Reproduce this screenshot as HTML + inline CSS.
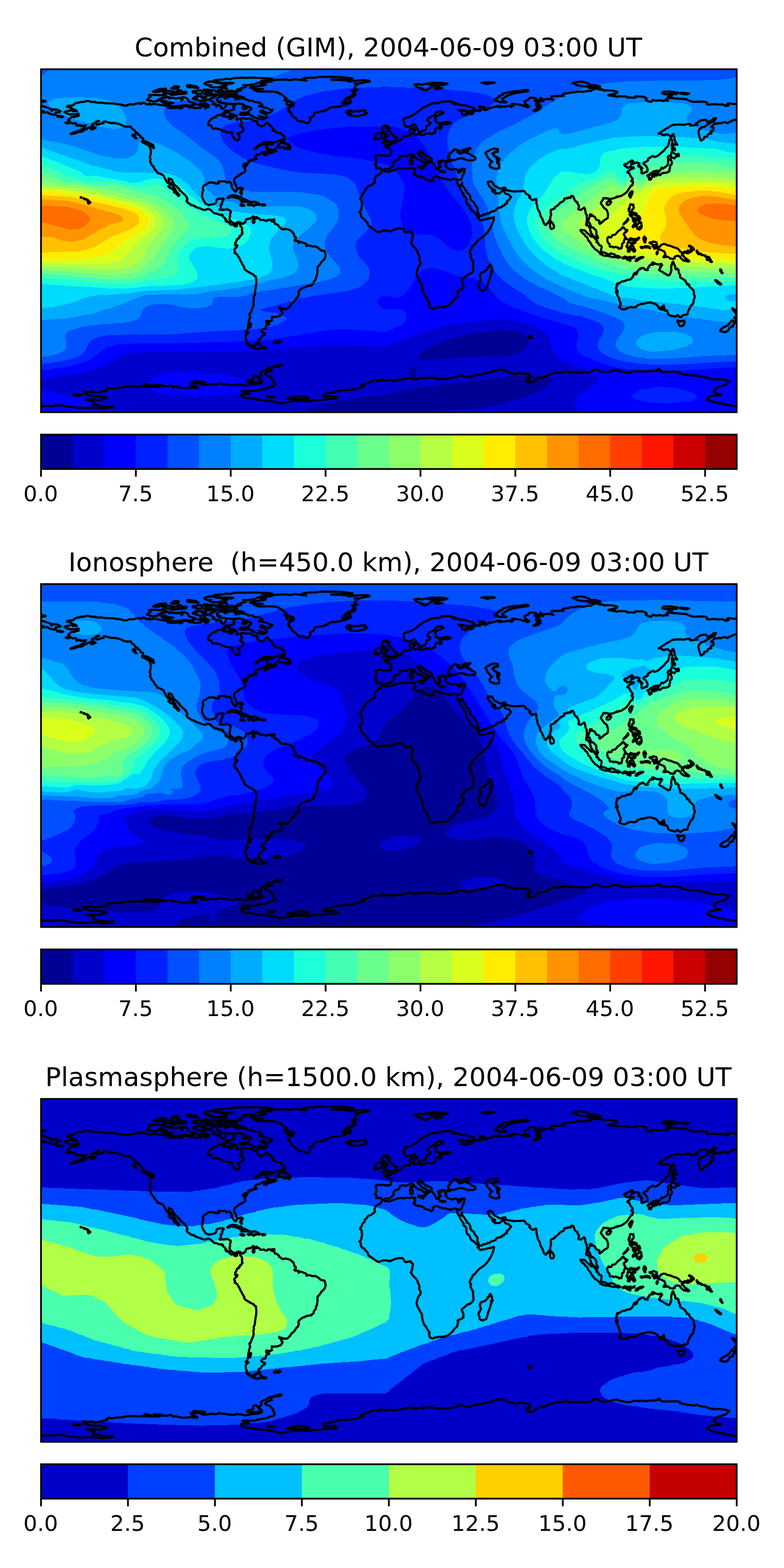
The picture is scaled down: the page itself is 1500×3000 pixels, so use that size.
<!DOCTYPE html>
<html lang="en">
<head>
<meta charset="utf-8">
<title>GIM TEC maps 2004-06-09 03:00 UT</title>
<style>
html,body{margin:0;padding:0;background:#fff}
svg{display:block}
text{font-family:"DejaVu Sans","Liberation Sans",sans-serif;fill:#000;text-anchor:middle}
.t{font-size:50px}
.l{font-size:41.67px}
.fr{fill:none;stroke:#000;stroke-width:3.33;stroke-linejoin:miter}
.tk{stroke:#000;stroke-width:3.33;fill:none}
.c{fill:none;stroke:#000;stroke-width:4.17;stroke-linejoin:round;stroke-linecap:round}
</style>
</head>
<body>
<svg width="1500" height="3000" viewBox="0 0 1500 3000">
<rect width="1500" height="3000" fill="#fff"/>
<defs>
<clipPath id="cp"><rect x="0" y="0" width="1331.05" height="656.15"/></clipPath>
<path id="coast" d="M652.8 193.8l2.2 -0.3 2.7 2.2 3.7 -0.4 5.2 1.2 3.8 -2.3 4.1 -0.7 6 -2.7 6 -1.1 6.4 0 1.9 0.8 3.7 -1.5 3.8 0 4.1 0.7 4.1 -1.5 2.6 0.4 0 1.9 3 -1.5 0.4 0.7 -1.9 1.9 0 1.9 1.2 0.7 -0.4 3.4 -2.6 1.9 0.7 1.8 2.3 0 0.7 1.9 1.5 0.8 4.5 1.1 1.5 -0.4 3 0.8 4.9 1.5 1.9 3.3 3.3 0.8 5.3 1.5 4.1 1.9 1.9 -0.8 1.9 -1.9 -1.2 -3 1.2 -1.5 3 -1.8 2.2 -0.4 5.3 0.7 1.1 1.5 1.5 0 1.1 0.8 3.8 0.4 1.1 1.1 4.9 0 3.7 1.1 3.8 1.1 1.5 0.4 3 -1.1 1.5 -1.1 3.3 -0.4 2.7 0.7 1.1 1.5 0.7 -1.1 3 1.1 3 0 1.9 -0.7 1.1 -1.1 0.8 -2.3 0.6 -2.6 0.5 -1.1 1.5 -3 1.9 -2.7 -0.4 -3 0.9 -1.5 -1.3 -1.8 1.4 -1.3 -2.3 0.3 -3.2 -0.9 -2.6 2.2 -5.6 0.4 -3 -1.9 -4.2 -0.3 -0.7 1.5 -2.6 0.7 -3.8 -2.2 -4.1 0 -2.3 -3.8 -2.6 -1.9 1.9 -3 -2.3 -1.8 4.2 -3.4 5.6 -0.4 1.5 -2.6 7.1 0.4 4.5 -2.3 4.5 -1.1 6.4 0 6.4 2.6 5.2 1.5 4.5 -0.7 3.4 0.3 4.3 -1.8 0.6 -1.9 -1 -2.4 -2 -1.4 -2.3 -0.3 -1.3 -1.1 -4.7 -3.4 -4.5 -1.5 -3 -1.9 2.6 -0.7 3 -3 -1.8 -1.5 5.2 -1.5 0 -1 -3.4 0.6 -3 0.4 -2.2 1.1 -3.8 0.4 -3.1 1.1 0.1 2.4 1.9 1 3.8 -0.4 -0.8 1.5 -4.1 0.7 -4.9 1.9 -2.2 -0.7 0.7 -1.5 -3.7 -1.2 0.3 -0.7 3.8 -1.3 -1.1 -1 -6 -0.7 0 -1.5 -3.8 0.4 -1.1 2.2 -3 2.6 0 1.2 -1.9 0.7 -1.1 -0.4 -0.8 4.5 -2.2 1.5 -1.1 2.6 1.1 2.3 0.4 1.5 3.3 1.1 -0.7 1 -4.5 0.1 -1.5 1.2 -3 2 -1.5 -1.7 0.2 -0.7 -2.5 -0.2 -1.8 -0.4 -4.5 1 2.6 2.2 -1.9 0.5 -2.2 0 -1.9 -2 -0.8 0.9 1 2.3 1.8 1.7 -1.4 0.9 2 1.7 1.9 1.1 0 2.1 -3.4 -0.9 1.1 1.8 -2.2 0.4 1.3 3.4 -2.4 0 -3.2 -1.5 -1.3 -3 -0.8 -2.6 -1.5 -1.9 -1.9 -1.9 -0.2 -1.1 -0.6 -0.4 -0.1 -0.7 -2.1 -1.3 -0.3 -1.7 0.3 -2.7 0.4 -1.1 -0.5 -0.7 -0.8 -0.3 -1 -1.2 -1.6 -0.7 -3.6 -1.4 -2.2 -1.3 -3.4 -1.1 -3.1 -2.6 0.8 -0.4 -1.8 -1.5 0 -1.5 -2.4 -0.4 -1.2 1.5 -1.1 -1.3 0.1 -1.2 1 -0.5 -3 -0.5 -3.1 1.3 0.2 1.9 -0.4 1.1 1.2 1.9 3.5 1.8 1.9 3.1 4.2 3 2.9 0 0.9 0.9 -1 0.7 3.4 1.4 2.7 1.1 3.2 1.9 0.4 0.8 -0.7 1.3 -2.1 -1.8 -3.2 -0.6 -1.6 2.4 2.7 1.5 -0.5 1.9 -1.5 0.2 -2 3.2 -1.6 0.4 0 -1.2 0.8 -2 0.8 -0.8 -1.5 -2.2 -1.1 -1.9 -1.6 -0.4 -1.1 -1.7 -2.4 -0.7 -1.6 -1.5 -2.8 -0.2 -2.9 -1.7 -3.4 -2.5 -2.6 -2.1 -1.2 -3.7 -1.8 -0.4 -3.1 -1.3 -1.7 0.5 -2.2 1.8 -1.5 0.3 -3.4 2.1 -7.4 -1 -5.5 1.1 -0.4 2.3 0.2 2.2 -3.6 2.5 -4.8 0.8 -0.3 1.2 -2.3 2.1 -1.5 3.1 1.5 2.1 -2.2 1.7 -0.8 2.4 -2.8 0.8 -2.7 2.9 -8.3 -0.1 -2.3 1.5 -1.5 1.3 -1.8 -0.3 -1.4 -1.3 -1 -2.1 -3.5 -0.6 -1.6 0.9 -1.9 -0.5 -2 0.4 0.6 -2.9 -0.3 -2.3 -1.7 -0.4 -0.9 -1.4 0.3 -2.4 1.5 -1.4 0.2 -1.5 0.8 -2.3 -0.1 -1.5 -0.7 -1.4 -0.2 -1.3 0.2 -2.6 -1.5 -1.7 5.3 -2.7 4.6 0.7 5 0 4 0.7 3.1 -0.3 6.1 0.2 1.9 -2.3 0.7 -7.4 -3.9 -4 -2.7 -1.9 -5.7 -1.4 -0.4 -2.7 4.8 -0.9 6.3 1 -1.1 -4.3 3.5 1.6 8.7 -2.9 1.1 -3.1 3.3 -0.7 3 -0.8 2 -1 3.3 -5.5 5.1 -1.6 3.1 0.2 0.7 -0.8 3.2 -0.3 0.6 0.9 2.6 -1.9 -0.9 -1.4 -0.1 -2.1 -1.6 -2.1 -0.1 -3.8 0.7 -1 1 -1.2 3.3 -0.2 1.4 -1 3 -1.1 -0.1 1.9 -1.2 1.3 0.5 1 2 0.6 -0.9 1.4 -1.1 -0.4 -2.7 2.7 1 1.8 0.1 1.5 3.8 0.9 -0.1 1.3 3.8 -0.7 2.1 -1.1 4.3 1.5 1.7 1.2 2.6 -1.1 5.8 -1.7 4.8 -1.3 3.7 0.7 0.3 0.9 3.6 0 0.9 -1.7 5.1 -1.2 -0.7 -3.1 0.1 -2.8 1.8 -2.4 3.5 -1.3 3 2.8 3 -0.1 0.7 -2.8 0.5 -2.2 -1.4 0.4 -2.4 -1.3 -0.3 -2.2 4.7 -1 4.8 -0.5 4 0.6 3.9 -0.1 4.3 -2.1 -4 -1.8 -6.7 0.3 -6.6 1.4 -6.2 0.8 -2.1 -2.1 -3.7 -1.2 0.9 -3.7 -1.8 -3.4 1.8 -2.2 3.3 -2.3 8.6 -4.1 2.5 -0.8 -0.4 -1.5 -5.2 -1.8 -6.4 1.1 -3.7 2.5 0.6 2.4 -5.9 3 -7.3 3.2 -2.7 5.3 2.7 2.6 3.6 2.1 -3.5 4.2 -3.9 0.9 -1.4 6.3 -2.2 3.5 -4.5 -0.3 -2.1 2.9 -4.4 0.2 -1.1 -3.6 -3.2 -4.2 -2.8 -5.3 -2.6 -2.3 -7.4 4.3 -5 0.9 -5.1 -1.9 -1.4 -4 -1.2 -8.7 3.5 -2.4 9.9 -3.1 7.4 -3.9 6.8 -5.2 9 -7.3 6.3 -2.8 10.3 -4.7 8.3 -1.7 6.1 0.3 5.7 -3.1 6.9 0.1 6.7 -0.7 11.7 2.7 -4.8 1 4.1 2.4 3.9 -1.3 6.2 2.2 10.2 0.9 14.2 4.3 2.9 1.7 0.2 2.6 -4.1 1.9 -6.2 1 -16.7 -2.8 -2.8 0.5 6.1 2.7 0.5 5.6 4.8 1.1 3 1 0.5 -1.8 -2.4 -1.7 2.5 -1.4 9 2.4 3.2 -0.9 -2.5 -2.8 8.7 -3.7 3.5 0.2 3.5 1.4 2.2 -2.6 -3.2 -2.2 1.9 -2.3 -2.8 -2.3 10.5 1.2 2.1 2.1 -4.7 0.4 0 2.1 3 1.3 5.8 -0.8 0.9 -2.4 7.8 -1.8 13.1 -3.2 2.8 0.2 -3.6 2.3 4.6 0.3 2.7 -1.2 7 -0.1 5.6 -1.6 4.2 2.3 4.3 -2.5 -3.9 -2.2 1.9 -1.2 11.1 1.1 5.2 1.2 13.6 4.3 2.5 -2 -3.8 -2 -0.1 -0.8 -4.6 -0.3 1.3 -1.8 -2 -2.9 -0.2 -1.2 7 -3.4 2.5 -3.4 2.7 -0.8 10 1 0.8 2.1 -3.6 3 2.3 1.2 1.2 2.7 -0.8 5.1 4.1 2.3 -1.6 2.5 -7.3 5.3 4.2 0.6 1.5 -1.4 4.2 -0.9 1 -1.9 3.2 -1.8 -2.2 -2.1 1.8 -2.5 -4.1 -0.3 -0.9 -2.1 3 -3.7 -4.9 -3.1 6.7 -2.5 -0.9 -2.7 1.9 -0.1 2 2.1 -1.5 3.6 4 0.7 -1.7 -2.7 6.3 -1.5 7.7 -0.2 7 2.2 -3.4 -3.2 -0.3 -4 6.5 -0.7 9 0.1 8.1 -0.5 -3 -1.9 4.3 -2.5 4.3 -0.1 7.3 -1.8 9.9 -0.5 1.3 -1.1 9.8 -0.3 3.1 0.8 8.4 -2 6.9 0.1 1 -1.6 3.6 -1.6 8.9 -1.6 6.4 1.3 -5.1 0.9 8.5 0.6 1 1.8 3.4 -0.9 11 0.1 8.4 1.8 3 1.4 -0.9 1.9 -4.1 1.2 -9.9 2 -2.8 1.1 4.6 0.6 5.6 0.9 3.4 -0.7 1.9 2.4 1.6 -0.9 6 -0.6 12.1 0.6 0.9 1.7 15.6 0.6 0.3 -2.9 7.9 0.7 6 -0.1 6 2 1.8 2.4 -2.2 1.6 4.7 3 5.9 1.5 3.6 -4 6 1.7 6.4 -1 7.2 1.2 2.8 -1.1 6.1 0.5 -2.7 -3.5 5 -1.6 33.8 2.5 3.2 2.2 9.8 2.9 15.2 -0.7 7.5 0.6 3.1 1.5 -0.5 2.8 4.6 1 5.1 -0.7 6.6 -0.1 7.1 0.7 7.1 -0.4 6.5 3.3 4.7 -1.2 -3.1 -2.4 1.7 -1.7 12 1.1 7.7 -0.2 10.8 1.8 5.3 1.6M0 69.5l9.2 2.9 9.8 3.7 -0.3 2.3 2.5 0.9 -0.8 -2.7 10.1 0.6 7.4 3.5 -3.7 1.6 -6.2 0.4 -0.1 3.7 -1.5 0.8 -3.5 -0.1 -2.8 -1.4 -5 -1 -0.9 -1.7 -3.8 -0.6 -4.3 0.5 -2 -1.3 0.8 -1.4 -4.5 0.9 1.7 1.8 -2.1 1.5M1349.8 84.4l-4.8 1.7 -4.9 -0.3 3.4 2 2.2 3.1 1.7 1 0.5 1.6 -1 1 -7 -0.8 -10.5 2.8 -3.3 0.4 -5.7 2.6 -5.5 2.3 -1.4 1.8 -5.3 -2.6 -9.8 2.9 -1.7 -1.4 -3.6 1.6 -5 -0.5 -1.2 2.5 -4.5 3.6 0.1 1.5 4.3 0.8 -0.5 5.5 -3.5 0.2 -1.6 3.1 1.6 1.6 -6.6 1.9 -1.3 4.3 -5.6 0.9 -1.1 3.8 -5.4 3.5 -1.4 -2.6 -1.6 -5.4 -2.1 -8.4 1.8 -5.2 3.2 -2.2 0.1 -1.8 5.9 -0.8 6.7 -4.7 6.4 -3.9 6.8 -3 3 -5.3 -4.6 0.3 -2.2 3.2 -9.5 4.1 -3.1 -4.6 -9.7 1.2 -9.4 6.3 3.1 2.3 -8.3 1 -5.8 0.4 0.2 -2.7 -5.8 -0.6 -4.7 1.9 -11.4 -0.7 -12.3 1.1 -12.2 7.3 -14.3 8.9 5.8 0.5 1.9 2.3 3.6 0.8 2.4 -1.8 4.1 0.2 5.5 4.1 0.1 3.2 -2.9 3.8 -0.4 4.4 -1.7 6 -5.6 5.5 -1.3 2.5 -5.1 4.4 -5 4.3 -2.4 2.3 -5 2.2 -2.4 0 -2.3 -1.8 -5.1 2.7 -0.6 1.3 -1.4 -0.3 -1.6 1.3 -1.1 1.3 0.1 2.7 -1.9 0.8 -0.7 0.7 -1.4 1.1 -2.5 0.6 -1.6 1 -0.1 1.6 -0.5 0.5 1.5 0.6 2.1 1.6 3.3 4.4 0.9 2.5 0 4.3 -1.4 2 -3.4 0.8 -3 1.5 -3.3 0.3 -0.5 -2 0.7 -2.8 -1.6 -3.9 2.8 -0.6 -2.6 -3.3 -1.8 -0.7 -0.5 0.7 -1.1 0.3 -0.1 -0.7 -1 -0.3 -1 -0.6 1 -1.7 0.9 -0.4 -0.3 -0.7 0.9 -2 -0.2 -0.6 -2.2 -0.4 -1.8 -1 -5.2 1 -2.8 1.8 -4 1 2 -1.7 -0.8 -1.5 3 -2.5 -2 -2 -3.3 1.4 -4.2 2.6 -2.3 2.4 -3.7 0.2 -1.9 1.7 2 2.6 3 0.6 0.1 1.7 3 1 4.2 -2.6 3.3 1.4 2.5 0.2 0.6 1.9 -5.3 1.1 -1.8 2 -3.6 1.9 -2 2.6 4.1 2 1.5 3.7 2.2 3.5 2.6 2.9 -0.1 2.7 -2.3 1 0.9 2.1 2.2 1.1 -0.6 3.1 -1 2.9 -2 0.4 -2.8 4.1 -3 4.9 -3.5 4.4 -5.2 3.5 -5.2 3.2 -4.2 0.4 -2.3 1.7 -1.3 -1.3 -2.1 1.9 -5.3 1.9 -3.9 0.5 -1.3 4 -2.1 0.2 -1 -2.7 0.9 -1.5 -5 -1.2 -1.8 0.7 -3.8 -1 -1.7 4.2 -2.6 3.5 -0.8 2.6 2.9 4 3.4 4.9 3.5 2.3 2.2 3 1.8 6.9 -0.6 6.6 -3.1 2.5 -4.3 2.4 -3 3.1 -4.7 3.5 -1.4 -2.4 1.1 -2.5 -2.8 -2.2 -3.1 -0.5 -1.6 -1.9 -1.9 -3.9 -3.3 -1.8 -3.2 0.1 0.5 -2.9 -3.3 0 -0.3 4.1 -2 5.5 -1.2 3.3 0.2 2.7 2.5 0.1 1.5 3.5 0.7 3.2 2.1 2.2 2.2 0.4 2 2 0.8 0.3 2.2 2.3 1.6 2.5 0.2 2.5 -0.4 1.7 0.4 1.3 0.3 2.2 1.3 1 1.5 3.4 -0.1 1.2 -2.7 0.3 -3.5 -2.8 -4.4 -3 -0.5 -1.9 -2.1 -2.5 -0.6 -3.1 -1.3 -2 0.4 -2.8 -0.8 -1.5 -1.5 -1.5 -0.7 -1.8 -1.9 -2.2 -1.9 -1.7 -0.6 2.2 -0.7 -2.1 0.4 -2.4 1.1 -3.6 -0.3 -2.8 1.1 -2.8 -1.2 -2.2 0.3 -4.1 -1.6 -2 -1.2 -4.5 -0.7 -4.7 -1.6 -3.1 -2.4 1.9 -4.3 2.7 -2.1 -0.4 -2.3 -0.9 1.2 -4.6 -0.8 -3.5 -2.9 -4.4 0.5 -1.3 -2.2 -0.5 -2.7 -3 -1.1 -2 -0.1 -1.9 -0.8 -1.8 -1.5 -2.2 -3.5 -0.1 0.4 1.5 -1.2 2.1 -1.6 -0.8 -0.6 0.7 -1 -0.4 -1.5 -0.3 -0.5 1.4 -2.6 -0.1 -4.6 0.8 0.2 2.8 -2 2.2 -5.4 2.5 -4.2 4.5 -2.8 2.3 -3.7 2.5 0 1.7 -1.9 0.9 -3.4 1.4 -1.7 0.2 -1.1 2.8 0.7 4.9 0.2 3.1 -1.6 3.6 0 6.3 -1.9 0.2 -1.7 2.9 1.1 1.2 -3.4 1.1 -1.3 2.5 -1.5 1.1 -3.5 -3.5 -1.8 -5.2 -1.4 -3.8 -1.3 -1.8 -2 -3.6 -0.9 -4.7 -0.7 -2.3 -3.4 -5.2 -1.5 -7.3 -1.2 -4.8 0 -4.5 -0.7 -3.5 -5.4 2.2 -2.7 -0.4 -4.9 -4.5 1.8 -1.4 -1.1 -1.5 -4.4 -3.1 -2.7 -1 -1.1 -2.7 -3 -2.9 -6.9 0.7 -6 0.1 -5.3 0.5 -7.1 -1.1 -4 -0.8 -4.3 -0.5 -1.6 -4.6 -1.8 -0.7 -2.9 0.7 -3.7 1.8 -4.6 -1.2 -3.8 -2.9 -3.6 -1.1 -2.5 -3.5 -2.8 -5.1 -2 0.6 -2.4 -1.2 -1.4 1.5 -2.2 -0.2 0.7 1.7 -0.3 0.8 1.2 2.8 1.5 3.3 1.8 0.8 0.7 1.3 2.5 1.6 0.3 1.5 -0.4 1.3 0.5 1.3 1.1 1 0.4 1.2 0.6 1 -0.3 -2.8 1.1 -1.9 1 -0.4 1.1 1.1 0.1 2.2 -0.8 2.2 0.7 1.5 0.7 -0.2 0.1 1 2.9 -0.6 3.1 0.1 2.3 0.1 2.6 -2.5 2.8 -2.4 2.3 -2.3 1.1 -1.3 0.5 0.3 -0.4 1.6 -0.5 0.7 0.6 2.9 1.7 2.6 2 1.3 2.8 0.5 2.2 0.7 1.7 2.2 1 1.2 1.4 0.5 0 0.8 -1.4 2.3 -0.6 1 -1.6 1.2 -1.4 2.6 -1.7 -0.2 -0.8 0.9 -0.6 1.9 0.5 2.5 -0.4 0.5 -1.7 -0.1 -2.3 1.4 -0.4 1.8 -0.9 0.8 -2.3 0 -1.5 1 0 1.5 -1.8 1 -2 -0.3 -2.5 1.2 -1.8 0.2 -2.7 1.1 -0.7 1.6 -0.1 1.3 -3.7 1.6 -6 1.7 -3.4 2.7 -1.6 0.2 -1.2 -0.3 -2.2 1.6 -2.3 0.7 -3.2 0.2 -0.9 0.2 -0.8 1 -1.1 0.3 -0.5 1 -1.9 -0.1 -1.2 0.5 -2.6 -0.2 -1 -2.2 0.2 -2.1 -0.6 -1 -0.8 -2.8 -1.1 -1.6 0.8 -0.1 -0.4 -1.8 0.4 -0.7 -0.1 -1.6 -0.5 -1.6 -1.1 -1.2 -0.3 -1.4 -2 -1.4 -1.9 -3.1 -1.1 -3.1 -2.6 -2.6 -1.7 -0.6 -2.4 -3.5 -0.5 -2.7 0.2 -2.2 -2.2 -4.1 -1.7 -1.5 -2.1 -0.8 -1.2 -2.1 0.2 -0.9 -1 -1.9 -1.1 -0.9 -1.5 -2.7 -2.3 -3.1 -1.9 -2.5 -1.9 0 0.6 -2.1 0.2 -1.3 0.5 -1.5 -0.2 -0.5 -1 1.5 -0.8 2.8 -1.1 2 -0.8 0.6 -1.3 -1.2 -1.6 -1.7 -2.7 -5.3 -0.4 0.3 1.5 3.9 2.3 3.8 2.9 5.9 1.3 2 1.3 2.1 3.3 4.2 -0.7 0.6 0.1 2.5 4.4 3.3 0.6 0.8 1.2 3.7 -0.8 0.6 0.5 3.9 1.4 4.5 1.5 0.9 2 1.4 2.2 4.3 1 3.5 2.1 1.8 5.1 3.5 2.1 2.2 2 2.2 1.2 1.2 1.8 1.2 0.9 1.1 -0.1 1.6 -2.1 0.9 1.6 1 1.2 0.7 0.7 1.6 1.7 1.5 1.9 0 3.5 -0.9 4.1 -0.5 3.3 -1.2 1.8 -0.2 1.4 -0.7 2.1 -0.1 1.2 -0.1 1.8 -0.5 1.9 -0.4 1.8 -1.3 1.4 0 0.1 1 -0.3 2.2 0 2 -0.8 1.3 -1.1 4.1 -1.8 4.2 -2.3 4.8 -3.2 5.5 -3.2 4.2 -4.4 5.1 -3.8 3 -5.6 3.7 -3.5 2.9 -4.1 4.5 -0.8 2 -0.9 0.9 -2.6 1.5 -0.9 1.5 -1.4 0.3 -0.6 2.7 -1.2 1.5 -0.7 2.5 -1.5 1.2 -1.7 4.6 0.2 2.2 2.4 1.3 0.1 1 -1.1 2.2 0.3 1.2 -0.3 1.8 1.4 2.3 1.5 3.7 1.4 0.9 0.6 1.7 -0.2 3.7 0.5 3.3 0.1 5.8 0.7 1.9 -1.1 2.7 -1.5 2.5 -2.4 2.4 -3.4 1.4 -4.2 1.8 -4.3 4 -1.4 0.7 -2.6 2.7 -1.6 0.8 -0.3 2.7 1.8 2.9 0.7 2.2 0.1 1.1 0.6 -0.2 -0.1 3.7 -0.6 1.7 0.9 0.7 -0.5 1.5 -1.6 1.4 -3.1 1.2 -4.5 2.1 -1.7 1.3 0.4 1.6 0.9 0.3 -0.3 1.9 -0.9 2.8 -0.5 3.1 -1 1.7 -2.5 1.9 -0.7 0.5 -1.6 1.9 -1.1 1.9 -2.1 2.7 -4.2 3.9 -2.7 2.2 -2.8 1.8 -3.9 1.4 -2 0.2 -0.4 1 -2.3 -0.5 -1.9 0.7 -4.1 -0.7 -2.2 0.5 -1.6 -0.3 -3.8 1.5 -3.2 0.6 -2.4 1.5 -1.6 0 -1.6 -1.3 -1.3 -0.1 -1.6 -1.6 -0.2 0.5 -0.5 -1 0 -2.2 -1.2 -2.6 1.2 -0.6 -0.1 -2.9 -2.4 -3.5 -1.9 -3.2 -2.7 -4.9 -2.8 -2.8 -1.5 -2.8 -0.8 -3.6 -0.9 -2.7 -1.3 -5.8 0 -4.5 -0.5 -2 -1.5 -1.6 -1.9 -3.1 -2 -4.5 -2.3 -3.6 -1.8 -5.3 -0.4 -2.3 0.6 -3.3 1.2 -3.4 0.3 -1.6 1.2 -3.4 0.9 -1.6 2.1 -2.4 1.2 -1.7 0.4 -2.8 -0.2 -2.1 -1.1 -1.3 -1 -2.3 -0.9 -2.2 0.2 -0.8 1.1 -1.5 -1.1 -3.6 -0.8 -2.5 -1.8 -2.4 0.3 -0.8 -0.5 -1.1 -1 -2.8 -3.1 -4 -3.8 -3.8 -2.5 -3.1 -2.3 -3.9 0.1 -1.2 0.8 -1.2 0.9 -2.7 0.8 -2.8 -0.7 -0.6 1.3 -4.2 0.5 -2.9 -1.5 -2.5 -1.6 -0.6 -0.8 -1.7 -1 -0.6 0.1 -1 -3.9 1.3 -1.5 -0.1 -1.4 0.8 -3 -0.1 -2 -2.4 -1.2 -2.7 -2.7 -2.4 -2.8 0 -3.3 0 -3.1 0.5 -3 0.7 -5.9 2.3 -2.1 1.2 -3.4 1.1 -3.3 -1 -1.7 0 -2.6 -0.7 -2.4 0 -4.5 0.7 -6.3 2.4 -0.7 -0.1 -1 0 -3.8 -1.7 -3.5 -2.9 -3.2 -2 -2.5 -2.5 -1 -0.2 -2.7 -1.5 -2 -2.1 -0.6 -1.3 -0.5 -2.8 -1.6 -2.2 -1.5 -1.5 -0.9 -0.5 -1 -0.7 -0.4 -1.7 -0.5 -0.8 -1.1 -0.6 -2 -1.6 -1.6 -0.2 -0.9 -1.1 0 -0.6 -1.1 -0.8 -0.2 -0.7 -0.6 -2.9 0.4 -1.7 -1.5 -2.9 -1.9 -1.4 1.6 -0.7 1.9 -2.6 0.9 -1.9 -0.4 -2 1.1 -1.9 0.4 -3.5 -0.4 -3.7 -0.4 -1.9 0.4 -1.9 -1 -1.8 -2 -1.6 0.2 -1.5 0.2 -1.8 1.4 -1 1.2 -2 -0.2 -1.2 1.3 -2.7 2 -2.4 1.3 -0.6 1 -2.1 0.1 -2.1 1.4 -2.2 2.5 -1.4 2.3 -3.9 2 -1.5 3.5 -0.4 2.9 -2.5 1.9 -1 3.2 -3.1 -1 -4.7 1.4 -3.3 0.5 -1.9 2.4 -2.6 3.8 -1.7 2.8 -1.5 2.5 -3.9 1.2 -2.3 0.1 -0.2M87.8 60.5l5.7 0.8 2.7 1.7 1.7 -0.7 6.3 0.2 -0.2 0.9 5.7 0.6 3.8 -0.4 7.9 1.2 7.2 0.4 2.9 0.5 5 -0.6 5.7 1.1 4.1 0.5 7 0.9 5.9 1.8 3.9 0.3 3.3 -1.5 4.5 -1.2 5.6 0.5 5.6 -1.7 6.2 -0.9 2.5 1.5 2.8 -0.8 0.8 -1.8 2.6 0.4 6.4 3.4 5 -2.6 0.5 2.9 4.6 -0.6 1.4 -1.2 4.6 0.3 5.7 1.5 8.8 1.4 5.1 0.7 3.7 -0.3 5 1.9 -5.2 1.9 6.7 0.8 10.2 -0.5 3.1 -0.6 4.1 2.2 4 -1.9 -3.8 -1.5 2.4 -1.3 4.6 -0.2 3 -0.4 3 0.9 3.8 2 4.2 -0.3 6.6 1.7 5.8 -0.6 5.5 0.1 -0.4 -2.3 3.3 -0.7 5.8 1.3 0 3.6 2.4 -3 3 0.1 1.7 -3.8 -4 -2.3 -4.4 -1.5 0.3 -4.1 4.4 -2.8 5 0.6 3.8 1.7 5.1 4.2 -3.4 1.8 7 0.8 0 3.9 5 -3 4.5 2.4 -1.2 2.8 3.7 2.5 3.9 -2.7 2.7 -3.2 0.2 -4.1 5.4 0.2 5.5 0.6 5 1.9 0.3 1.8 -2.8 2 2.6 2 -0.5 1.9 -7.3 2.6 -5.2 0.5 -3.9 -1.1 -1.1 1.9 -3.6 3.2 -1.1 1.6 -4.4 2.5 -5.3 0.3 -3 1.6 -0.2 2.4 -4.4 0.5 -4.6 3 -4 4.2 -1.5 3 -0.2 4.3 5.5 0.7 1.7 3.5 1.7 2.8 5.3 -0.7 6.9 1.6 3.8 1.4 2.7 1.8 4.7 1.1 4 1.5 6.1 0.3 4.1 0.3 -0.6 3.3 1.2 3.7 2.7 4.2 5.6 3.6 2.9 -1.2 2 -3.9 -2 -5.9 -2.6 -2 6 -1.8 4.2 -2.6 2.1 -2.6 -0.3 -2.5 -2.5 -3.2 -4.6 -2.8 4.4 -3.9 -1.6 -3.4 -1.3 -5.9 2.7 -0.9 6.4 1.1 3.8 0.3 3.1 -0.9 3.5 1.2 4.6 2.2 1.2 1.4 6.7 0.3 -0.1 3.2 1.2 4.7 3.4 0.6 2.7 2.2 5.5 -2.1 3.5 -4.1 2.6 -1.8 2.9 3.4 4.9 4.8 4.1 4.5 -1.5 2.3 5 2.1 3.3 2.2 6 0.9 2.4 1.2 1.5 3.2 2.9 0.5 1.5 1.4 0.3 4.2 -2.7 1.5 -2.7 1.3 -6.2 1.3 -4.7 3.1 -6.3 0.6 -8 -0.8 -5.7 0 -3.9 0.2 -3.1 2.7 -4.8 1.7 -5.4 5 -4.3 3.4 3.2 -0.6 6 -4.9 7.9 -3.1 5.6 -0.4 3.3 1.8 -3.6 2.5 1.2 4.1 1.3 2.8 4.8 1.9 6.2 -0.5 3.8 -4.3 0.2 2.8 2.5 1.3 -4.7 2.4 -8.3 2.3 -3.7 1.5 -4.2 2.7 -2.8 -0.3 -0.2 -3.2 6.5 -3 -6 0.1 -4.1 0.4 0.6 1.3 -4 1.8 -3.8 1.3 -4 1.1 -2 2.2 -0.6 0.8 -0.1 2 1.3 2 1.5 0.1 -0.4 -1.4 1.2 0.9 -0.3 1 -2.6 0.6 -1.8 0 -2.7 0.6 -1.7 0.2 -2.2 0.2 -3.1 1.1 5.5 -0.7 1.1 0.7 -5.2 1.1 -2.4 0 0.1 -0.4 -1.1 1 1.1 0.2 -0.8 2.7 -2.8 2.9 -0.2 -1 -0.9 -0.2 -1.2 -0.9 0.8 2 0.9 0.7 0.1 1.4 -1.2 1.4 -2.1 3 -0.4 -0.1 1.2 -2.6 -1.9 -1.4 -0.5 -3.1 -0.7 1.6 0.8 2.4 -2.5 -0.6 2.6 1.2 0.2 3.6 1.1 0.2 0.3 1.3 0.6 3.8 -2.4 2.8 -3.9 1.1 -2.4 2.2 -1.9 0.2 -1.9 1.4 -0.6 1.2 -4.1 2.5 -2.1 1.8 -1.8 2.2 -0.5 2.7 0.6 2.5 1.3 3.3 1.6 2.6 0.1 1.6 1.7 4.4 -0.1 2.5 -0.1 1.5 -1 2.3 -1.1 0.4 -1.8 -0.4 -0.6 -1.7 -1.5 -0.8 -2 -3.2 -1.7 -2.9 -0.6 -1.5 0.8 -2.5 -1 -2 -3 -3.2 -1.4 -0.5 -3.8 1.6 -0.7 -0.1 -1.8 -1.8 -2.4 -0.9 -4.2 0.5 -3.3 -0.4 -2.9 0.2 -1.5 0.6 0.7 1 -0.1 1.5 0.8 0.8 -0.7 0.4 -1.4 -0.5 -1.4 0.7 -2.8 -0.1 -2.8 -2 -3.2 0.5 -2.8 -0.9 -2.3 0.3 -3.1 0.8 -3.4 2.8 -3.8 1.6 -2 1.8 -0.9 1.7 0 2.6 0.2 1.8 0.7 1.3 -1.5 3.3 -0.6 2.7 -0.3 5 -0.4 1.8 0.7 2.1 1.1 1.8 0.8 2.9 2.5 2.8 0.9 2.1 1.4 1.9 4 1 1.5 1.6 3.3 -1.1 2.9 -0.4 2.8 -0.6 2.4 -0.7 2.4 -1.5 0.9 -2.2 0.3 -3.2 0.6 -1.1 2.5 -0.9 4 -0.9 3.3 0.1 2.3 -0.3 0.9 0.8 -0.1 1.8 -2 2.2 -0.9 2.3 0.6 0.7 -0.5 1.6 -1 2.9 -0.9 -1 -0.8 0.1 0 0.6 0.7 0 0 1 -0.6 1.6 0.3 0.6 -0.4 1.3 0.2 0.4 -0.4 1.9 -0.7 1 -0.7 0.1 -0.7 1.3 1.2 0.7 0.3 -0.6 1.1 0.5 0.4 0.1 0.8 -0.6 1.1 -0.1 0.3 0.3 0.6 -0.2 1.8 0.4 1.7 -0.1 1.2 -0.4 0.4 -0.5 1.2 0.3 0.9 0.2 1 -0.1 0.8 -0.3 1.7 0.5 0.6 0.1 1.1 0.7 1.1 0.9 1.4 0.5 0.9 1 -0.3 0.4 -0.2 0.8 0.4 1.4 -0.8 1.3 -0.5 1.5 -0.1 1.6 0.2 1 0.1 1.7 -0.6 0.4 -0.3 1.6 0.3 1 -0.8 0.9 0.2 1.1 0.5 0.6 1 2 1.4 1.5 1.8 1.6 1.3 1.3 0 0.8 1.5 0.2 0.3 -0.3 1 0.9 1.9 -0.2 1.6 -1 2.3 -0.7 1.3 -1.2 2 0.3 -0.1 0.3 2.1 0.2 1.6 0.6 1.3 1.1 1.4 1.1 1.9 0.1 2.8 -2.6 1.6 -0.4 0 -1.3 0.7 -3.1 2.1 -1.8 2.4 0 0.3 -0.8 3 0.3 2.9 -1.9 1.4 -0.9 1.9 -1.8 1.3 0.3 1 1 -0.7 1.2 -0.2 0.9 -2.2 0.5 1.3 1.6 -0.1 2 -1.6 2.2 1.4 3 1.6 -0.3 0.8 -2.7 -1.1 -1.3 -0.2 -2.9 4.6 -1.5 -0.4 -1.8 1.3 -1.1 1.3 2.6 2.6 0.1 2.5 2 0.1 1.3 3.4 0 4 -0.4 2.1 1.7 2.9 0.5 2.1 -1.2 0 -0.9 4.7 -0.2 4.5 -0.1 -3.2 1.1 1.3 1.8 3 0.3 2.8 1.8 0.6 3 2 -0.1 1.4 0.9 2.5 1.4 2.3 2.4 0.1 2 1.4 0 2.1 1.9 1.4 1.3 4.5 0.7 0.4 -0.6 3.1 -0.3 4 1 1.3 0.4 2.7 0.9 4 3.1 0.6 1.6 1.3 -0.2 0.9 2.1 2.1 6.6 2 0.6 0.1 2.5 -2.8 3.2 1.2 1.1 6.6 0.6 0.2 3.7 2.8 -2.4 4.7 1.3 6.2 2.3 1.8 2.2 -0.6 2.1 4.4 -1.2 7.3 2 5.6 -0.2 5.5 3.1 4.8 4.2 2.9 1.1 3.2 0.2 1.4 1.1 1.2 4.8 0.7 2.3 -1.5 6.2 -1.9 2.5 -5.3 5.2 -2.4 4.2 -2.8 3.3 -0.9 0 -1 2.8 0.2 7 -1 5.8 -0.4 2.5 -1.2 1.4 -0.7 5.1 -3.8 4.8 -0.6 3.9 -3 1.7 -0.9 2.2 -4.1 0 -5.9 1.4 -2.6 1.7 -4.2 1.1 -4.5 3 -3.1 3.7 -0.6 2.8 0.7 2.1 -0.7 3.8 -0.9 1.8 -2.6 2 -4.2 6.6 -3.3 3 -2.5 1.8 -1.7 3.6 -2.5 2.1 -1.7 2.4 -4.2 2 -2.7 -0.7 -2.1 0.4 -3.4 -1.6 -2.6 0.1 -2.3 -2.1 -0.2 2 4.7 3.2 -0.5 2.6 2.4 1.6 -0.2 1.8 -3.6 4.8 -5.6 2.1 -7.5 0.7 -4.1 -0.3 0.7 2.2 -0.7 2.8 0.7 1.9 -2.3 1.3 -3.8 0.5 -3.6 -1.3 -1.5 0.9 0.6 3.8 2.5 1.1 2 -1.2 1.2 2 -3.5 1.1 -3 2.4 -0.6 3.7 -0.9 2.1 -3.5 0 -2.9 1.9 -1.1 2.8 3.7 2.7 3.6 0.8 -1.3 3.3 -4.5 2.2 -2.4 4.4 -3.4 1.4 -1.5 1.8 1.2 3.9 2.5 2.2 -1.6 -0.2 -3.3 -0.1 -1.8 1 -3.4 1.3 -0.6 3.5 -1.6 0.1 -4.3 -1.2 -4.2 -2.6 -4.7 -2.2 -1.2 -2.3 1.1 -2.3 -1.9 -2.4 -0.5 -6.4 1.6 -3.6 4 -2.9 -5.7 -1.1 3.6 -3.4 1.2 -6.2 4.2 1.3 1.9 -7.7 -2.5 -1 -1.1 4.7 -2.4 -0.6 1.2 -5.3 1.2 -7 1.8 -2.5 -1.1 -3.7 -0.3 -4.2 1.6 -0.1 2.3 -6.1 2.6 -6 1.5 -5.6 -0.8 -5.6 1.1 -3.1 -0.4 -4.6 2.1 -4.6 0.7 -7.2 1.2 -7.8 1.2 -8.4 -0.3 -6.1 -0.7 -5.3 -3.8 -2.2 -0.3 -1.5 -7.5 -3.8 -6.7 -4.1 -2.9 -2.3 -1.5 -3.1 0.6 -1.1 -3.2 -4.9 -3.7 -6.9 -3.6 -7.5 -1.5 -1.7 -1.2 -2.8 -2.9 -2.4 -2.6 -1.5 1.2 -1.7 -1.8 -3.6 1.1 -2.6 3 -2.4 2 -2.8 -0.8 -1.6 -1.4 1.8 -2.3 -1.7 0.8 -1 -0.6 -3.4 1.3 -0.6 0.6 -2.4 1.5 -2.4 -0.3 -1.5 2.1 -0.8 2.5 -1.5 -0.5 -1.2 1.4 -0.3 -0.1 -1.8 0.8 -1.4 1.9 -0.2 1.6 -2.4 1.4 -2 -1.4 -0.9 0.7 -2.1 -0.8 -3.4 0.8 -1.1 -0.6 -3.1 -1.5 -2 -1.2 -1.1 -0.9 -2 1 -1 -1 -0.3 -0.7 -1.2 -1.9 -1.1 -1.6 0.3 -0.8 1.3 -1.5 0.9 -0.8 0.2 -0.4 0.7 1.8 2.1 -1 0.5 -0.5 0.5 -1.8 0.2 -0.6 -2.2 -0.5 0.6 -1.3 -0.2 -0.7 -1.5 -1.5 -0.3 -1 -0.4 -1.6 0 -0.1 0.8 -0.5 -0.6 -2 -0.8 -0.8 -0.8 0.4 -0.6 -0.1 -0.9 -1 -0.9 -1.5 -0.7 -1.3 -0.5 -0.2 -1.1 -1 -0.7 0.2 1.1 -0.7 0.9 -0.9 -1 -1.2 -0.4 -0.5 -0.7 0 -1.2 0.5 -1.1 -1 -0.6 0.8 -0.7 -1.3 -1.2 -1.7 -1.5 -0.9 -1.2 -1.5 -1.2 -1.9 -1.7 0.4 -0.6 0.6 0.6 0.3 -0.3 -0.6 -1.2 -1.2 -0.3 -0.4 0.9 -2.2 -0.1 -1.3 -0.3 -1.6 -0.8 -2 -0.2 -1.1 -0.8 -1.9 -0.7 -2.4 -0.1 -1.7 -0.7 -2 -1.5 -4.2 -4.1 -2 -1.2 -3 -1 -2.1 0.3 -3 1.4 -1.9 0.4 -2.7 -1 -2.8 -0.7 -3.5 -1.8 -2.8 -0.5 -4.3 -1.7 -3.1 -1.8 -0.9 -1 -2.1 -0.2 -3.9 -1.2 -1.5 -1.7 -4.1 -2.2 -1.8 -2.3 -0.9 -1.8 1.2 -0.4 -0.4 -1.1 0.9 -1 0 -1.2 -1.2 -1.7 -0.4 -1.5 -1.3 -1.9 -3.3 -3.7 -3.7 -3 -1.8 -2.3 -3.3 -1.5 -0.6 -0.9 0.5 -2.4 -1.9 -0.9 -2.2 -1.8 -0.9 -2.6 -2.1 -0.3 -2.1 -2 -1.8 -1.8 -0.2 -1.2 -2 -2.8 -1.3 -2.9 0 -1.4 -2.6 -1.5 -1.3 0.2 -2.2 -1.1 -0.6 1.6 0.7 1.8 0.4 2.8 1.2 1.5 2.8 2.6 0.6 0.9 0.6 0.3 0.5 1.3 0.7 -0.1 0.7 2.4 1.1 1 0.9 1.3 2.3 1.9 1.3 3.5 1 1.7 1.1 1.7 0.2 2 1.8 0.1 1.5 1.7 1.4 1.7 -0.1 0.6 -1.6 1.4 -0.7 0 -1 -2.3 -2.4 -2.1 -2.7 -1.8 -1.9 -1 0.1 -2.7 -0.6 -2 -1.8 -1.2 -2.5 -1.7 -0.5 0.5 -1 -1 -2.3 -0.9 -2.2 -2.2 0.3 -0.3 1.5 0.3 1.4 -1.5 0.2 -1.6 -2.9 -2.7 -2.2 -1.1 -1.4 -2.3 -1.4 -2.5 -1.7 -3 -1.6 -3.3 -0.6 -1.9 -2.4 -2.2 -1.8 -0.4 -0.4 -1.1 -2.1 -0.2 -1.3 -1 -3.5 -0.4 -1 -0.6 -0.4 -2.1 -3.6 -3.7 -3.2 -5.2 0.2 -0.9 -1.7 -1.2 -2.9 -3.2 -0.5 -3 -2 -2.1 0.8 -3.1 -0.1 -3.2 -1.2 -2.9 1.4 -3.5 0.5 -3.4 0.4 -3.4 -0.6 -5 -1.2 -3.2 -1.1 -1.8 0.4 -0.7 5.5 1.3 2 3.5 0.9 -1 -0.6 -3.1 -1.3 -3 -0.5 0 -7.2 -3.7 -2.7 -1.7 -6.8 -1.5 -2.1 -3.3 0.5 -2.3 -4.8 -1.6 -0.6 -3 -4.5 -2.8 -0.2 -1.9 -2 -1.4 -3.3 -1.2 -1.1 -3.3 -4.8 -3 -2 -3.5 -3.6 -0.3 -6 -0.1 -4.4 -1.1 -7.7 -3.9 -3.6 -0.7 -6.6 -1.3 -5.2 0.3 -7.4 -1.7 -4.4 -1.6 -4.1 0.8 0.7 2.6 -2.1 0.2 -4.3 0.8 -3.3 1.3 -4.2 0.8 -0.5 -2.2 1.7 -3.7 4 -1.2 -1 -0.9 -4.8 2.1 -2.6 2.5 -5.4 2.6 2.7 1.9 -3.5 2.6 -4 1.6 -3.8 1.2 -0.9 1.6 -5.9 2 -1.1 1.7 -4.4 1.6 -2.6 -0.2 -3.5 1 -3.8 1.3 -3.1 1.2 -6.5 1.1 -0.5 -0.6 4.1 -1.8 3.6 -1.2 4 -2 4.7 -0.4 1.8 -1.6 5.2 -2.2 0.9 -0.8 2.7 -1.3 0.7 -2.8 1.9 -2.2 -4.3 1.1 -1.3 -0.7 -2 1.4 -2.4 -1.9 -1 1.4 -1.5 -1.9 -3.7 1.5 -2.3 0 -0.3 -2.3 0.7 -1.3 -2.5 -1.4 -4.8 0.8 -3.2 -1.8 -2.6 -0.9 0 -2.1 -2.9 -1.6 1.5 -2.2 3 -2.1 1.4 -1.9 3 -0.3 2.6 0.6 3 -1.8 2.8 0.3 2.8 -1.1 -0.7 -1.7 -2.1 -0.7 2.8 -1.5 -2.3 0.1 -4 0.8 -1.2 0.8 -2.9 -0.8 -5.3 0.4 -5.5 -0.9 -1.6 -1.5 -4.7 -2.1 5.2 -1.6 8.4 -1.9 3.1 0 -0.5 1.9 7.9 -0.1 -3 -2.4 -4.7 -1.4 -2.6 -1.9 -3.6 -1.5 -5.2 -1.2 2.1 -2 6.7 -0.1 4.7 -1.7 0.9 -1.9 3.8 -1.7 3.7 -0.5 7.1 -1.6 3.4 0.2 5.8 -2M0 645.7l0.2 0 3.3 -2.1 6.8 1.1 4.4 -1.3 6.4 1.6 4.7 -1.5 0.9 -0.2 11 -0.7 3.5 0.9 1.8 0.4 5.7 1.3 10.6 0.9 8.5 1.2 14.4 0.9 10.8 -1 16 0.7 9 1.2 9.9 -1.1 10.4 -1.1 0.8 -1.7 -14.7 -0.2 -12.1 -0.8 -3.2 -1.5 -10.1 -0.8 0.7 -1.7 1.4 -1.6 1.4 -1.4 -0.7 -1.5 -6.3 -1 -2.9 -1.3 -5.8 -1.2 9.1 0.2 8.7 -0.6 5.4 1.3 6.7 -1.2 6.2 -1.4 3 -1.2 -1.3 -1.5 -4.8 -1.1 -5.6 -1.1 -7.7 -0.2 -6.7 -0.5 -7.3 -0.4 -2.4 -1.4 -4.9 -1.1 -2.9 -1.4 -1.2 -4.2 1.8 0.3 3.4 1.2 6.2 -0.4 6 -0.5 3 1.7 6 -0.4 5 -0.8 4.7 -1.1 4.2 -1.2 5.7 -0.4 -0.1 -1.4 -1.4 -1.4 1.1 -1.3 4.9 -0.7 2.2 1.3 5.7 -0.7 4.3 -1 5.4 -0.1 5.1 -0.3 5 -0.9 4.1 -0.8 4.5 -0.8 3 0.2 2.5 0.3 5.6 -0.5 5 0.6 5.2 0 4.9 -0.6 5 0.4 5.6 0.4 5.2 -0.2 5.5 0.1 5.6 0.1 5.1 -0.2 3.8 -1.1 4.6 -0.6 4.6 0.8 4.5 -0.6 4.1 -1.4 2.4 1.2 1.3 1.4 2.4 1.2 3.9 -1.1 4.5 1.4 5.1 0.4 4.3 1.1 5.3 -0.2 4.8 -0.7 5.6 0.1 5.1 0.6 5.1 0.6 2 -1.6 -2.4 -1.2 -1.8 -1.4 -4.9 -0.3 -2.1 -1.4 -0.8 -1.4 -1.3 -2.7 2.8 0.4 4.9 0.3 4.9 -0.3 4.4 0.6 3.8 1.2 1.6 1.3 5.1 0.2 4.9 -0.5 5.1 -0.8 4.6 -0.4 3.8 0.9 5 -0.3 3.2 -2.9 3.1 1.7 4.3 0.7 4.7 -0.4 3.1 1.5 4.9 0.1 4.5 0.5 4.5 0.8 3 -1.4 1.4 -1.3 3.8 1.4 5.1 -0.3 3.8 0.8 2.6 1.2 5 -0.4 3.9 -0.7 3.8 -1 4.6 -0.5 5.3 -0.5 4.7 -0.5 3.7 -0.8 2.2 -1.2 0.9 -1.6 -0.5 -1.5 -1.1 -1.5 -1.4 -1.5 -1.1 -1.4 -1 -1.4 -0.2 -1.4 0.3 -1.5 1.8 -1.4 1.5 -1.5 0.6 -1.5 -0.7 -1.6 -0.5 -1.5 1.8 -1.7 2.1 -1.1 2.4 -1.4 2.6 -1.1 3 -1.2 1.5 -1.6 2 -1 2.4 -1 3.6 -0.2 2.3 -1.1 2.7 -0.8 3 -0.4 2.8 -1 2.1 -1.1 2.9 -0.5 2.3 1 -1.5 1.2 -3.8 1.1 -1.6 0.8 -2.8 -0.6 -3.1 0.4 -2.5 0.9 -2.7 0.9 -1.9 1.1 -0.5 1.5 0.2 1.4 1.8 1.3 -2.6 0.9 -3.5 0.2 -2.1 1.3 -2.2 1.2 -2.3 1.6 -0.6 1.3 1.3 1.6 2 1.2 3.1 0.8 2.8 1.2 1.6 1.5 0.8 1.4 1.1 1.5 1.7 1.2 1.2 1.4 0.5 3.5 1.1 1.4 0.3 1.4 1.1 1.5 -0.5 2 -2 1.5 -2.2 1.3 -5 0.5 -1.7 1.3 -2.3 1.3 -5.6 1.4 -5 0.5 -4.8 0.9 -5 0.8 -3 1.5 -6 0.1 -6.6 -0.1 -6 0.3 -6.3 0 1.2 1.5 5.7 0.6 4.2 1.1 2.3 1.3 -4.1 1.2 -6.5 -0.4 -5.4 1 -0.3 3 4.4 1.2 0.8 1.4 4.7 1.4 8 0.6 6.7 1 5.4 1.2 6.8 1.2 9.4 0.5 9.1 1.1 6.4 1.1 7 1.3 3.7 1.7 1.8 1.4 4.5 -1.3 6.2 -1.1 6.6 -1.2 7.8 -1 6.6 -1 9.4 -0.1 9.1 0.6 7.6 0.8 2.4 -1.6 5.2 -1.1 9.5 0 7.4 -0.9 7.1 -0.8 7.8 -0.5 8.2 -0.7 5.9 -0.9 -2.7 -1.3 -1.6 -1.4 0 -1.3 -7.3 0.1 -7.7 0.6 -7.3 0 -1 -1.4 0.4 -2.8 1.7 -0.8 5.4 -0.9 6.3 -0.9 4.6 -1.1 4.5 -1.1 3.4 -1.5 5.2 -0.6 5 -0.5 2.6 -0.3 5.8 -0.2 5.5 -0.5 4.6 -0.7 4.6 -0.9 4.1 -0.9 5.2 -1.1 3.3 -1.3 3.5 -1.1 1.1 -1.5 -4 -0.9 1.4 -1.5 2.5 -1.2 3.9 -0.7 4.1 -0.9 3.8 -1.2 2.9 -1.4 1.9 -1.8 2.7 -1 4.5 0.2 1.8 1.3 4.5 0.1 0.1 -1.4 1.9 -1.5 4.1 0.4 0.9 1.4 4.5 0.2 4.9 -0.6 4.6 -0.5 4.3 0.2 1.6 1.6 4.2 -1.3 3.8 -0.6 8.4 -1.1 3.8 -0.8 4.2 -0.6 3.3 -0.8 2.2 -1.4 2.8 1 3.9 -0.5 4.9 3 4.2 -0.7 1.7 -1.4 3.8 -1.1 4.9 0.2 1.5 1.4 3.1 -1.4 4.1 -0.4 4.3 -0.2 4 0.1 4.2 0.5 4 0.2 1.8 1.2 2.4 1.2 4.1 -0.7 4.4 -0.2 4.3 0 4.2 0 3.7 -0.6 4 -0.4 3.3 -1 3.5 -0.7 3.8 -0.3 2.9 -1.1 2.1 -2 2.1 -1.3 3.9 0.6 1.5 1.3 3.2 0.9 3.9 -0.3 2.6 1.3 2.8 1 3.8 -0.9 1.4 -1.6 3.3 -0.7 3.9 -1.2 3.7 -0.5 4.4 -0.8 2.9 -0.8 3.1 -0.8 2.9 -0.9 3.6 0.5 3.3 -1.3 2.5 -1.1 3.5 0.1 3.1 -0.9 0.7 -1.3 3.2 -1 3.1 -0.8 3.7 -0.5 3.5 -0.3 3.3 0.2 3.5 0.3 3 1.1 0.4 1.6 3.3 1.2 2.2 1.1 4.5 0.4 2.6 1 3 1 3.6 0.3 3 -0.7 3.3 -1.6 3.5 0.8 3.6 0.5 3.6 0.4 3.6 0.3 3.8 0 3.1 3.9 -0.2 0.9 -0.4 1.7 -3.6 1 -3 1.4 0.6 1.5 4.2 -0.1 -0.6 1.4 -1.9 1.4 -1.7 1.6 2.8 1.2 4.4 0.3 4.3 -0.6 2 -1.5 1.3 -1.4 2 -1.2 2.4 -1.1 1 -1.3 1.9 -1.9 2.4 -0.3 4.3 -0.1 3.7 -0.5 3.8 -0.6 1.8 -1.5 1.2 -1.3 2.5 -1.4 3.7 -1 3.2 -0.7 2 -1.3 2.1 -0.6 2.8 -0.6 3.7 0.4 3.4 -0.4 3.7 -0.5 4.1 0.3 2.7 -1.1 1.9 -2.5 1.4 1 1.8 1.8 3.1 0.8 3.6 0.3 3.6 -0.5 3.8 0.3 3.6 0.1 2.3 -0.4 3.2 0.2 2.8 0.9 3.4 -0.6 4 0 3.5 -0.5 3.9 0.5 2.5 -1.2 1.9 -1.3 2.6 -1 4.7 -2.8 2.4 0.5 2.8 1 2.6 1.4 4.7 2.2 3.7 0.1 3.4 0 4.1 -0.4 4 -0.5 3.1 -1 2.6 -1.2 4.2 -0.1 2.7 -0.8 3 0.7 1.9 1.2 2.6 1.2 4.2 -0.2 2.5 1 4.5 0.9 4.7 0.4 3.9 -0.3 2.9 -1.2 2.5 -1.2 3.4 -0.3 3.4 0.6 3.9 0.3 3.5 -0.6 3.4 0 3.3 0.4 3.4 0.4 3.4 -0.7 4 -0.5 3.9 -0.2 4.2 0 3.5 -0.4 3.4 -0.3 1 -1.8 0.1 -1.5 2.4 1 0.6 1.7 1.3 1.5 1.5 1.3 3.2 0.6 4.3 -0.2 4.9 -0.1 3.4 -0.2 4.9 0 3.5 -0.1 4.9 0.2 4.2 0.3 2.7 1.2 -0.8 1.3 2.5 1.2 4 0.8 4.2 1 4.8 0.6 5.1 0.6 3.8 0.6 4.3 0.1 2.4 -1.3 3.3 1.1 2.8 1.1 3.3 0.9 4.6 0.4 4.3 0.4 1.9 1.5 4.2 0.9 2.9 1.3 4.2 0.6 4.3 -0.1 4.1 0.3 4.4 -0.1 4.5 0.2 4.2 0.6 3.9 0.9 3.9 0.7 2.6 1.1 -0.4 1.5 -2 1.3 -1.7 1.7 -1.3 1.3 -1.8 1.6 -4.9 0.5 -2.2 1.4 -4.9 0.8 -1.6 1.4 -2.6 1.4 -2.7 1.2 -1.6 1.5 -0.9 1.4 -0.4 1.7 0.1 1.4 2.1 1.5 0.8 1.4 1.8 1.3 7 0.5 1.5 1.6 -6.8 0.6 -5.7 0.8 -7.2 0.2 -3.1 2.1 -0.7 1.8 -3.6 2.8 5 1.2 1.9 1.6 3.2 1.4 4.6 1.2 5.2 1.2 5.7 1.2 8.6 1.2 1.9 1.8 10.8 0.8 3.5 1.4 10.4 -1 8.5 1.2 6.5 0.9M499.6 18.3l12.5 -2.3 13.2 0.2 4.8 -1.4 13.2 -0.4 30 0.5 23.4 3 -6.9 1.4 -14.3 0.2 -20.2 0.4 1.9 0.6 13.2 -0.4 11.4 1.3 7.2 -1.1 3.1 1.3 -4.1 2.2 9.6 -1.4 18.2 -1.4 11.2 0.7 2.1 1.6 -15.3 2.6 -2.1 0.9 -12 0.6 8.7 0.2 -4.4 2.8 -3 2.4 0.1 4.2 4.5 2.4 -5.8 0.2 -6.2 1.2 6.9 1.9 0.9 3.2 -4 0.4 4.9 3.2 -8.4 0.3 4.4 1.5 -1.2 1.3 -5.3 0.6 -5.3 0 4.7 2.6 0.1 1.6 -7.4 -1.5 -1.9 1 5 0.9 4.9 2.3 1.4 3 -6.7 0.8 -2.9 -1.5 -4.6 -2.1 1.3 2.5 -4.3 2 9.8 0.1 5.2 0.2 -10 3.3 -10.2 3 -11 1.2 -4.2 0.1 -3.8 1.4 -5.2 4 -8.1 2.6 -2.6 0.1 -5 1 -5.4 0.8 -3.2 2.4 0 2.6 -1.9 2.5 -6.2 3 1.5 2.9 -1.6 3.1 -2 3.6 -5.2 0.3 -5.6 -3.1 -7.4 0 -3.7 -2.1 -2.5 -3.6 -6.5 -4.7 -1.9 -2.4 -0.5 -3.4 -5.2 -3.5 1.4 -2.7 -2.6 -1.3 3.8 -4.4 5.6 -1.4 1.5 -1.6 0.8 -2.9 -4.3 1.3 -2.1 0.6 -3.3 0.5 -4.6 -1.2 -0.3 -2.6 1.5 -2 3.5 0 7.6 1 -6.4 -2.4 -3.4 -1.3 -3.7 0.5 -3.1 -0.9 4.1 -3.5 -2.3 -1.4 -2.9 -2.6 -4.5 -3.9 -4.8 -1.5 0 -1.6 -10 -2.2 -8 -0.3 -10 0.2 -9.1 0.3 -4.4 -1.2 -6.5 -2.4 9.8 -1.1 7.6 -0.3 -16.1 -0.9 -8.4 -1.5 0.5 -1.5 14.2 -1.8 13.7 -1.8 1.5 -1.4 -10.1 -1.3 3.2 -1.5 13 -2.6 5.5 -0.4 -1.6 -1.7 8.9 -1 11.5 -0.6 11.5 0 4.1 1.1 10 -2 8.9 1.4 5.3 0.3 7.8 1.2 -8.9 -2 0.5 -1.6M620.5 78.9l-0.9 2.4 4.3 2.6 -4.9 2.9 -10.8 2.5 -3.3 0.7 -4.9 -0.5 -10.4 -1.2 3.6 -1.7 -8.1 -1.8 6.6 -0.7 -0.2 -1.2 -7.8 -0.8 2.5 -2.5 5.7 -0.5 5.8 2.5 5.7 -2 4.8 1.1 6.1 -2.1 6.2 0.3M663.7 108.2l-4.1 4.1 3.8 -0.5 4.1 0 -0.9 3 -3.4 3.4 3.9 0.2 3.6 4.9 2.6 0.6 2.3 4.2 1.1 1.5 4.5 0.7 -0.5 2.4 -1.9 1.1 1.5 2 -3.3 1.9 -5.1 0 -6.3 1 -1.8 -0.7 -2.5 1.7 -3.4 -0.4 -2.7 1.5 -2 -0.8 5.5 -3.9 3.4 -0.9 -5.9 -0.6 -1.1 -1.5 4 -1.1 -2.1 -2 0.7 -2.5 5.6 0.4 0.5 -2.2 -2.5 -2.4 -4.5 -0.7 -0.9 -1 1.3 -1.7 -1.2 -1 -2.1 1.8 -0.1 -3.6 -2 -2 1.4 -3.8 2.9 -3.1 3 0.3 4.6 -0.3M651.7 126.1l0.6 2.7 -2.9 3.3 -6.6 2.2 -5.3 -0.5 3 -3.9 -1.9 -3.8 5.1 -3 2.8 -1.7 3.2 -0.2 4 2.3 -2 2.6M731.7 29.4l1.4 -1.4 5.5 -0.1 4.7 1.3 12.4 2.8 -9.4 1.5 -2.1 2.8 -3.3 0.7 -1.8 3.1 -4.5 0.1 -8.1 -2.3 3.4 -1.3 -5.6 -1.1 -7.3 -3.1 -3 -3 10.3 -1.3 2 1.3 5.4 0M777.7 27.9l-5.6 2 -10.9 0.5 -11 -0.7 -0.7 -1 -5.4 -0.1 -4.1 -1.7 11.6 -1 5.4 0.9 3.8 -1.2 9.5 1 7.4 1.3M767.6 36.2l-8.4 1.5 -6.6 -0.9 2.6 -1 -2.3 -1.1 7.8 -0.8 1.5 1.4 5.4 0.9M849.2 27.2l2.2 -1.2 -8.3 -0.1 7.3 -0.7 5.7 0 0.7 1 2.2 -0.9 3.5 -0.6 5.6 0.8 -1.5 0.6 -5 0.4 -3.4 0.3 -0.5 0.6 -4.4 0.7 -4.1 -0.9M930.5 39.6l2.5 1.5 -2.5 1.2 -13.2 1.8 -11.5 1.8 -11.6 3.6 -5.6 3.6 -5.9 3.6 0.7 3.1 7.2 3.1 -2.2 0.4 -12.2 -0.5 -1 -1.7 -6.8 -1 -0.6 -2 3.9 -0.8 -0.2 -2.1 7.5 -3.2 -3.5 -0.4 9 -3.3 -1 -1.7 8.4 -2 12.4 -2.4 12.4 -0.7 6.4 -1.4 7.4 -0.5M1034.6 23.4l7.3 1.9 8.7 3.6 -1 3.4 -8.2 0.5 -10.4 -1.1 -6.2 -1.4 -2.9 -2.7 -5.1 -0.8 9.7 -2.5 8.1 -0.9M1068.9 34.5l-21.2 1.4 6.9 -4.9 3.1 -0.4 2.8 0.2 9.5 2.2 -1.1 1.5M1195.4 42.6l9.9 0.2 13.6 2 -3 2.7 -13.8 -0.1 -6.2 0.9 -7.4 -2.4 2 -2.6 4.9 -0.7M1223.7 45l6.9 0.6 9.5 1 -4.4 1.4 -6 -0.3 -6.9 -1.5 0.9 -1.2M1207.5 51.1l-7.5 2.1 -0.7 -0.2 3.6 -1.5 4.6 -0.4M0 59.9l0.5 -0.1 3.2 0 5.4 1.1 -0.3 0.5 -3.9 0.9 -4.9 0.2M1213.5 137.8l3.8 6.6 -5.6 -1.2 -2.3 5.4 3.7 3.9 -0.1 2.6 -2.9 -2.3 -2.4 2.9 -0.7 -3.1 0.4 -3.7 -0.5 -4 0.9 -2.9 0.2 -5 -2.2 -3.7 0.3 -5.1 3.5 -1.7 -1.5 -1.8 1.7 -0.5 0.9 2.5 1.3 3.6 0 3.7 1.5 3.8M1179.7 200l0.5 1.3 -2.1 2.3 -1.6 -1.2 -1.9 0.9 -1 2.2 -2.4 -1.1 0 -1.8 2.1 -2.2 2.1 0.4 1.5 -1.6 2.8 0.8M1203.5 188.8l-1.4 3 0.6 1.9 -1.9 2.6 -4.8 1.8 -6.6 0.2 -5.4 4.3 -2.5 -1.4 -0.1 -2.9 -6.6 0.9 -4.4 1.8 -4.4 0 3.8 2.8 -2.5 6.4 -2.4 1.5 -1.8 -1.4 0.9 -3.4 -2.4 -1.1 -1.5 -2.6 3.5 -1.1 2 -2.4 3.8 -1.9 2.7 -2.6 7.5 -1.1 4 0.8 3.9 -6.7 2.5 1.8 5.5 -3.8 2.2 -1.4 2.3 -4.6 -0.6 -4.2 1.6 -2.4 4 -0.7 2 5.2 -0.1 3.1 -3.5 3.8 0.1 3.8M1214.5 162.5l2.6 0.8 2.7 -1.6 0.8 4.2 -5.6 1 -3.3 3.7 -5.8 -2.6 -2.1 4.2 -4.1 0 -0.6 -3.7 1.9 -2.9 4 -0.2 1.1 -5.2 1.1 -2.9 4.4 3.9 2.9 1.3M1131.5 236.6l-2.2 6 -1.7 3.1 -1.9 -3.1 -0.5 -2.9 2.2 -3.6 3.1 -2.9 1.6 1.1 -0.6 2.3M1088.6 258l-3.2 1.8 -3.1 -1.1 -0.1 -3.3 1.8 -1.6 4.1 -1.1 2.2 0.1 0.8 1.4 -1.6 1.7 -0.9 2.1M1129.8 258.7l2.3 1.1 1.2 -1 0.3 1 -0.6 1.5 1.3 2.7 -1 3.1 -2.2 1.2 -0.6 3.1 0.8 2.9 2 0.5 1.7 -0.5 4.6 2.1 -0.3 2 1.2 0.9 -0.4 1.8 -2.9 -1.9 -1.4 -1.9 -1 1.3 -2.4 -2.2 -3.3 0.5 -1.9 -0.8 0.2 -1.5 1.1 -1 -1.1 -0.9 -0.5 1.4 -1.8 -2.2 -0.6 -1.6 -0.1 -3.6 1.5 1.3 0.4 -5.9 1.2 -3.4 2.3 0M1148.8 296.5l0.3 2.5 0.3 2.1 -1.3 3.5 -1.4 -3.9 -1.8 1.9 1.2 2.8 -1 1.8 -4.4 -2.2 -1.1 -2.8 1.1 -1.7 -2.3 -1.8 -1.2 1.6 -1.8 -0.2 -2.7 2.1 -0.7 -1.1 1.5 -3.1 2.4 -1.1 2 -1.4 1.3 1.7 2.9 -1 0.6 -1.7 2.6 -0.1 -0.2 -2.9 3.1 1.7 0.3 2 0.3 1.3M1123 285.4l0.7 3.1 -2.5 2.1 -2 2.5 -5 3.6 1.9 -2.6 2.7 -2.3 2.2 -2.6 2 -3.8M1140.8 281l3.6 0.1 1.1 1.4 1 4.1 -2.9 -0.9 0.1 1.2 0.9 2.3 -1.8 0.9 -0.1 -2.7 -1.1 -0.2 -0.6 -2.2 2.2 0.3 -0.1 -1.4 -2.3 -2.9M1130.6 279.1l-1 3.2 -1.7 -1.8 -1.9 -2.9 3.3 0.1 1.3 1.4M1139.8 289.5l-1.4 1.3 -1.2 2.3 -1.1 1.2 -2.3 -2.6 0.7 -1 1 -1.1 0.4 -2.3 2.1 -0.2 -0.6 2.5 2.7 -3.6 -0.3 3.5M1132.5 285.3l-0.6 -1.8 2.2 1.2 2.4 0 0 1.5 -1.8 1.6 -2.4 1.1 -0.1 -1.7 0.3 -1.9M1116.9 312.6l-2.2 3.4 2.8 3.5 -0.6 1.7 4.2 3.5 -4.5 0.5 -1.2 2.5 0.1 3.4 -3.6 2.6 -0.1 3.7 -1.4 5.7 -0.6 -1.3 -4.2 1.7 -1.5 -2.3 -2.7 -0.2 -1.8 -1.2 -4.5 1.3 -1.4 -1.8 -2.4 0.2 -3.1 -0.4 -0.6 -5.1 -1.9 -1 -1.8 -3.2 -0.5 -3.3 0.4 -3.4 2.3 -2.6 2.7 1.4 2.9 -0.8 0.8 -3.1 1.6 -0.8 4.5 -0.7 2.6 -3 1.9 -2.4 1.5 -1.4 3.2 -2.1 2.9 -2.5 1.9 -3 1.5 0 1.9 1.9 0.2 1.6 2.4 1.1 3.2 1.1 -0.3 1.5 -2.5 0.1 0.7 1.9 -2.8 1.3M1071.7 350l-4.2 0.1 -3.1 -3.1 -4.9 -3.1 -1.6 -2.3 -2.8 -3 -1.9 -2.8 -2.8 -5.3 -3.3 -3.1 -1.1 -3.2 -1.4 -2.9 -3.4 -2.4 -1.9 -3.2 -2.9 -2.1 -3.9 -4.2 -0.3 -1.9 2.4 0.2 5.8 0.7 3.3 3.7 2.9 2.5 2.1 1.6 3.5 4 3.9 0.1 3.1 2.5 2.2 3.2 2.8 1.7 -1.5 3 2.2 1.4 1.3 0 0.7 2.6 1.3 2.1 2.7 0.4 1.9 2.3 -1 4.7 -0.1 5.8M1082.2 353.5l7.2 0.4 0.8 -1.6 6.9 1.8 1.4 2.4 5.6 0.7 4.6 2.3 -4.3 1.4 -4.1 -1.5 -3.4 0.1 -3.9 -0.3 -3.5 -0.7 -4.3 -1.4 -2.8 -0.4 -1.5 0.5 -6.9 -1.6 -0.6 -1.6 -3.4 -0.2 2.5 -3.6 4.6 0.2 3 1.5 1.6 0.2 0.5 1.4M1144.5 322.8l-3 3.7 -2.8 0.7 -3.7 -0.7 -6.2 0.2 -3.3 0.5 -0.5 2.8 3.4 3.4 2 -1.7 7 -1.3 -0.3 1.7 -1.7 -0.5 -1.6 2.2 -3.3 1.4 3.5 4.8 -0.7 1.3 3.4 4.3 0 2.5 -2 1.1 -1.5 -1.3 1.8 -3.1 -3.6 1.5 -1 -1.1 0.5 -1.4 -2.7 -2.2 0.3 -3.7 -2.5 1.2 0.3 4.3 0.1 5.4 -2.3 0.5 -1.6 -1.1 1 -3.4 -0.5 -3.6 -1.6 0 -1.2 -2.6 1.6 -2.5 0.5 -3 1.9 -5.6 0.8 -1.6 3.2 -2.7 2.9 1.1 4.7 0.5 4.3 -0.2 3.7 -2.7 0.7 0.9M1157.4 323.8l-0.2 3.3 -1.9 -0.4 -0.6 2.3 1.6 2 -1.1 0.5 -1.5 -2.4 -1.1 -4.8 0.7 -3 1.3 -1.4 0.2 2.1 2.2 0.3 0.4 1.5M1117 358.4l1.3 1 2.3 -0.3 1 1.6 -4.4 0.8 -2.6 0.5 -2 -0.1 1.3 -2.1 2 0 1.1 -1.4M1135.7 358.4l-0.5 2.1 -5.7 1.1 -5 -0.5 0 -1.4 3 -0.7 2.4 1.1 2.5 -0.3 3.3 -1.4M1127.8 365.5l-1.4 -1.2 -1.9 -1.1 -3.5 0.7 6.5 2.6 0.3 -1M1137.8 366.5l0.3 -1.3 1.7 -2.3 3.7 -1.5 3.6 -1.7 2.6 -0.1 1.2 -0.5 1.5 0.5 -1.4 1 -3.9 1.6 -3.2 1.1 -2.4 2.8 -3.2 0.8 -0.5 -0.4M1164.1 339.7l1.3 2.8 -3.1 -1.5 -3.1 -0.3 -2.2 0.2 -2.5 -0.1 0.9 -2.1 4.6 -0.1 4.1 1.1M1150.6 342.3l-2.6 -0.7 -0.7 -1.6 3.8 -0.2 0.9 1.2 -1.4 1.3M1177.8 332.4l1.1 6.1 3.9 2.2 3.1 -4 4.3 -2.3 3.4 0 3.1 1.4 2.9 1.3 4 0.7 6.5 2.6 6.9 2.1 2.6 2 2.1 1.9 0.5 2.2 6.3 2.3 0.9 2 -3.4 0.4 0.8 2.5 3.3 2.4 2.5 4 2.1 -0.1 -0.1 1.6 2.9 0.7 -1.2 0.7 4 1.6 -0.4 1 -2.5 0.3 -0.9 -1 -3.2 -0.4 -3.8 -0.5 -2.9 -2.4 -2.1 -2.1 -2 -3.3 -4.9 -1.6 -3.2 1.1 -2.2 1.2 0.4 2.7 -2.9 1.4 -2.1 -0.7 -3.9 -0.1 -3.4 -3.1 -3.7 -0.8 -1 1.1 -4.7 0.1 1.6 -3 2.3 -1.1 -0.9 -4.1 -1.8 -3.1 -7.3 -3.2 -3.1 -0.3 -5.7 -3.5 -1 1.8 -1.5 0.4 -0.8 -1.4 -0.1 -1.6 -2.8 -1.9 4 -1.3 2.7 0.1 -0.3 -1 -5.5 0 -1.5 -2.3 -3.4 -0.7 -1.5 -1.8 5 -0.9 1.9 -1.2 6.1 1.5 0.5 1.4M1242.2 350l-2.1 0.9 -1.9 0.9 -2 0 -3 -1.1 -2.2 -1.1 0.3 -1.1 3.4 0.5 2.1 -0.3 0.5 -1.8 0.5 -0.1 0.4 2 2.2 -0.3 1 -1.3 2.1 -1.3 -0.4 -2.2 2.2 -0.1 0.8 0.6 -0.1 2.1 -1.3 2.3 -1.9 0.3 -0.6 1.1M1239.8 338.3l1 -0.9 2.1 1.1 1.2 0.8 1.6 0.9 1.5 1.6 1.4 1.2 0.5 1.9 -1.2 1.1 -0.7 -2.3 -0.8 -1.4 -1.8 -1.3 -2.1 -1.5 -2.7 -1.2M1255.2 348.1l1.1 0.9 1.8 2.3 1.8 1.3 -0.5 1 -1.1 0.4 -1.6 -1.4 -1.7 -2.4 -0.8 -2.9 0.5 -0.3 0.5 1.1M1261.8 352.8l2.3 1.6 1.5 1.2 -0.8 0.2 -1.6 -0.8 -1.6 -1.5 0.2 -0.7M1273.5 358.1l0.9 1.2 0.1 0.8 -3 -1.6 -2 -1.4 -1.4 -1.2 0.6 -0.4 1.7 0.9 3.1 1.7M1278.3 359.3l1.3 3 1.5 1.8 -0.6 0.6 -2.7 -3.2 -0.8 -2.2 1.3 0M1273.7 362.7l2.5 0.6 1.2 0.8 0.6 1 -1.5 0.1 -2.3 -0.4 -0.7 -0.6 0.2 -1.5M1282.8 367.4l1 1.3 -2.6 -0.1 -1.4 -2.3 2.2 1 0.8 0.1M1301.9 387.7l2.3 2.1 -1.2 0.5 -1.3 -1.6 0.2 -1M1300.3 386.8l-0.6 -1 0 -2.9 1.8 1.2 0.6 3 -1 -0.5 -0.8 0.2M1296.5 407.1l3.1 2.3 1.9 1.8 -1.4 0.9 -2.1 -1 -2.7 -1.7 -2.4 -2 -2.5 -2.7 -0.5 -1.2 1.6 0 2.1 1.3 1.7 1.3 1.2 1M1338.1 478.3l-1.4 2 -1.9 2.6 -2.9 1.5 -0.6 -1 -1.6 -0.5 2.2 -3.1 -1.2 -2.1 -4.1 -1.5 0.1 -1.3 2.7 -1.3 0.7 -2.9 -0.2 -2.5 -1.5 -2.5 0.1 -0.7 -1.8 -1.5 -3 -3.3 -1.5 -2.7 1.4 -0.3 2 2.1 2.9 1 1.1 3.4 2.7 3.9 0.1 -2.6 1.7 1.1 0.5 2.8 3 1.2 2.6 0.3 2.1 -1.4 1.9 0.4 -0.9 3.3 -1.1 2.2 -2.9 0 -1 1.1 0.4 1.6 -0.6 0.7M1311.1 491.4l3.2 -2 2.2 -1.9 1.7 -2.8 1.4 -1 0.6 -2 2.6 -1.8 0.8 1.6 0.9 1.5 2.7 -1.5 1 1.6 0 1.6 -1.3 1.7 -2.5 2.8 -1.9 1.5 1.4 1.8 -2.9 0.1 -3.3 1.4 -0.9 2.4 -2.2 3.8 -2.9 1.7 -1.9 1 -3.5 0 -2.4 -1.3 -4 -0.2 -0.7 -1.4 2 -2.8 4.7 -3.7 2.5 -0.7 2.7 -1.4M1213.2 379.7l1.3 2.9 2.4 -1.4 1.3 1.6 1.8 1.4 -0.4 1.7 0.8 3.3 0.6 1.8 0.9 0.5 1 3.2 -0.4 1.9 1.3 2.6 4 1.9 2.7 1.8 2.5 1.6 -0.5 0.9 2.2 2.4 1.4 4 1.5 -0.8 1.5 1.7 1 -0.6 0.6 3.9 2.7 2.4 1.7 1.4 2.9 3 1.1 3 0.1 2.2 -0.3 2.3 1.8 3.2 -0.2 3.3 -0.7 1.7 -1 3.4 0.1 2.1 -0.8 2.7 -1.6 3.4 -2.8 1.9 -1.4 2.9 -1.2 1.8 -1.1 3.2 -1.4 1.9 -1 2.8 -0.5 2.6 0.2 1.2 -2.2 1.3 -4.2 0.1 -3.4 1.6 -1.7 1.4 -2.3 1.7 -3.1 -1.7 -2.3 -0.7 0.6 -1.9 -2 0.7 -3.3 2.7 -3.3 -1 -2.1 -0.6 -2.1 -0.3 -3.7 -1.1 -2.4 -2.3 -0.7 -2.8 -0.9 -3.5 -1.8 0 -3.6 -0.4 1.2 -1.8 -0.9 -2.8 -1.8 2.6 -3.4 0.7 2 -2.1 0.5 -2.2 1.5 -1.8 -0.3 -2.8 -3 3.2 -2.4 1.3 -1.4 3 -2.9 -1.5 0.1 -2 -2.4 -2.8 -1.9 -1.4 0.6 -0.8 -4.8 -2.3 -2.6 -0.1 -3.6 -1.8 -6.7 0.3 -4.9 1.4 -4.2 1.2 -3.6 -0.2 -4 1.9 -3.2 0.9 -0.8 1.9 -1.3 1.5 -3.2 0.1 -2.4 0.4 -3.3 -0.7 -2.7 0.4 -2.6 0.2 -2.2 2 -1.1 -0.2 -1.9 1.1 -1.8 1.1 -2.7 -0.1 -2.5 0 -4 -2.4 -2 -0.7 0.1 -2.2 1.8 -0.5 0.6 -0.8 -0.1 -1.4 0.5 -2.6 -0.4 -2.2 -2 -3.8 -0.6 -2.1 0.1 -2.2 -1.5 -2.4 0 -1.1 -1.7 -1.5 -0.5 -3 -2.1 -2.9 -0.5 -1.6 1.6 1.6 -1.3 -3.5 1.9 1.1 1.1 1.5 0 -1.9 -1.9 -3 -0.4 -1.2 -0.9 -1.1 0.5 -2.2 0.7 -0.9 0.5 -1.9 -0.3 -2.1 1.5 -2.7 0.3 2.8 1.6 -2.6 3 -1.2 1.8 -1.6 2.9 -1.4 1.7 -0.3 1 0.5 3 -1.4 2.3 -0.5 0.5 -0.8 1 -0.3 2.1 0.1 4 -1.1 2 -1.7 1 -2 2.1 -1.9 0.2 -1.5 0.1 -2 2.6 -3.2 1.6 3.2 1.6 -0.7 -1.3 -1.8 1.2 -1.8 1.6 0.8 0.5 -2.8 2 -1.9 0.9 -1.5 1.9 -0.6 0.1 -1.1 1.6 0.5 0.1 -1 1.6 -0.5 1.8 -0.5 2.8 1.7 2.1 2.2 2.3 0.1 2.4 0.3 -0.8 -2.1 1.8 -3 1.7 -0.9 -0.6 -1 1.7 -2.1 2.2 -1.4 1.9 0.5 3.2 -0.7 -0.1 -1.9 -2.8 -1.3 2.1 -0.5 2.4 0.9 2 1.6 3.2 0.9 1.1 -0.4 2.3 1.2 2.2 -1.1 1.4 0.4 0.9 -0.8 1.7 1.9 -1 2 -1.4 1.5 -1.3 0.1 0.4 1.5 -1.1 1.9 -1.3 1.9 0.2 1 3 2.1 2.9 1.2 1.9 1.3 2.7 2.2 1.1 0 2 0.9 0.5 1.2 3.6 1.3 2.5 -1.3 0.7 -2 0.8 -1.7 0.5 -2 1.1 -3 -0.5 -1.8 0.3 -1.1 -0.5 -2.2 0.5 -2.8 0.7 -0.8 -0.5 -1.2 0.9 -2 0.7 -2 0 -1.1 1.5 -1.4 1 1.8 0.3 2.3 0.9 0.5 0.2 1.6 1.3 1.9 0.3 2.1 -0.1 1.4M1228.7 481.1l2.2 0.3 0.3 4.4 -1.3 1.3 -0.4 3 -1.3 -1 -2.6 2.6 -0.8 -0.2 -2.3 -0.1 -2.3 -3.3 -0.5 -2.4 -2.2 -3.3 0.1 -1.7 2.5 0.3 3.6 1.3 2 -0.5 3 -0.7M981.6 299.9l-0.6 3.9 -1.6 1 -3.2 0.9 -1.8 -3 -0.7 -5.4 1.7 -6 2.6 2 1.7 2.7 1.9 3.9M860.6 374.8l1.1 1.6 0.9 2.5 0.6 4.5 1 1.8 -0.4 1.8 -0.7 1.1 -1.3 -2.2 -0.7 1.1 0.7 2.8 -0.3 1.6 -1 0.8 -0.2 3.2 -1.5 4.4 -1.9 5.1 -2.3 7.1 -1.4 5.2 -1.7 4.4 -3.1 0.9 -3.2 1.6 -2.2 -1 -3 -1.3 -1 -2 -0.3 -3.4 -1.3 -2.9 -0.3 -2.7 0.6 -2.7 1.8 -0.7 0 -1.2 1.8 -2.9 0.3 -2.3 -0.9 -1.8 -0.7 -2.4 -0.3 -3.4 1.3 -2.1 0.6 -2.4 1.8 -0.2 2.1 -0.7 1.4 -0.7 1.6 -0.1 2.2 -2.1 3.1 -2.3 1.1 -1.9 -0.5 -1.6 1.6 0.4 2.1 -2.5 0 -2.3 1.2 -1.7 1.3 1.6M933.4 510.4l2.4 1.2 3.5 0.5 0.2 0.7 -1.1 1.7 -5.7 0.2 -0.1 -2 0.5 -1.5 0.3 -0.8M859 154.1l3.5 -0.8 4.3 -1.6 3.2 0.9 3.8 -0.2 0.6 2.3 -0.6 3.7 -3.3 -0.6 -3.2 0.6 -0.1 2.8 -3.7 -0.4 0.1 1.3 2.1 0.9 1.7 3.4 4.3 1.2 0.8 1.3 -0.9 1.6 0.1 0.9 1.2 2.4 0.4 -2.7 3 -1 1.1 2.2 -1.1 3.4 -3 -0.9 -0.8 3.2 2.5 0.2 -1 2.6 2.9 1.2 -0.5 3.9 0.7 2.7 -0.4 0.9 -5.9 1 -5.3 -0.7 -2.6 -1.8 -3.5 -0.8 -1.2 -2.8 -0.1 -1.9 1.3 -0.8 0.7 -1.4 0.7 -2.9 3 -0.3 -1.1 -1 -1.8 -0.1 -1.9 -2.7 -2 -2 -2.2 -2.6 -1.8 -1.8 0.3 -2.5 -3.4 -3.6 3.8 -3.8 3.6 -0.7 1.7 -2.2M733.1 184.7l-1.4 3 0.6 1.2 -0.8 1.9 -2.8 -1.5 -1.9 -0.3 -5.3 -1.9 0.5 -2 4.4 0.4 3.8 -0.4 2.9 -0.4M709.4 173.6l2.3 2.6 -0.5 5 -1.8 -0.3 -1.5 1.3 -1.4 -1 -0.1 -4.5 -0.9 -2.2 2.1 0.2 1.8 -1.1M710.7 170l-1.2 2.9 -1.7 -0.7 -0.9 -2.6 0.8 -1.4 2.4 -1.4 0.6 3.2M763.8 194.2l2 1.3 2.9 -0.2 2.8 0.2 -0.1 0.7 2.1 -0.5 -0.5 1.1 -5.4 0.3 0.1 -0.6 -4.7 -0.7 0.8 -1.6M797.6 196.3l0.7 0.2 0.3 2 3.7 -1.9 2.3 -2.3 -2.6 1.6 -0.9 -0.4 -2.7 -0.1 -0.8 0.9M417.6 525.4l1.4 1.8 1.9 2.8 4.8 2.2 5.3 1 -1.7 1.8 -3.6 0.2 -1.9 -1.3 -2.2 -0.1 -4 0 -2.3 2.4 -2.7 -1.2 -3.9 -0.5 -4.7 -2.1 -3.9 -2 -5.1 -4.2 3 0.8 5.3 2.5 5 1.3 1.9 -1.7 1.2 -2.6 3.5 -1.5 2.7 0.4M445.4 522.5l4.5 -2.3 3.2 1 2.3 -1.5 3 1.7 -1.2 1.3 -5 1.1 -1.7 -1.3 -3.2 1.7 -1.9 -1.7M366.4 241.1l3.3 0.3 2.9 0 3.5 1.3 1.5 1.4 3.5 -0.4 1.4 0.8 3.1 2.4 2.4 1.7 1.2 -0.1 2.2 0.8 -0.2 1 2.8 0.2 2.8 1.5 -0.5 0.9 -2.5 0.5 -2.5 0.2 -2.6 -0.3 -5.4 0.3 2.6 -2.1 -1.5 -0.9 -2.5 -0.3 -1.3 -1.1 -0.9 -2.1 -2.1 0.1 -3.5 -1 -1.1 -0.8 -4.9 -0.5 -1.3 -0.8 1.4 -0.9 -3.7 -0.2 -2.6 2 -1.6 0 -0.5 0.9 -1.9 0.4 -1.6 -0.3 2 -1.2 0.8 -1.3 1.7 -0.9 1.9 -0.7 2.8 -0.4 0.9 -0.4M406 254.2l0.5 -0.7 2.9 0 2.3 1 0.9 -0.1 0.7 1.3 2.1 0 -0.1 1.1 1.6 0.1 1.8 1.4 -1.4 1.5 -1.7 -0.8 -1.7 0.2 -1.3 -0.2 -0.6 0.6 -1.5 0.3 -0.6 -0.9 -1.2 0.5 -1.5 2.6 -1 -0.6 -0.2 -1.1 -2.4 -0.6 -1.8 0.2 -2.3 -0.2 -1.8 0.7 -2 -1.2 0.4 -1.2 3.4 0.5 2.9 0.3 1.3 -0.8 -1.7 -1.6 0 -1.5 -2.4 -0.6 0.9 -1 2.3 0.2 3.2 0.6M384.1 258.7l2.5 0.4 2 0.9 0.6 1 -2.6 0.1 -1.2 0.6 -2.1 -0.6 -2.1 -1.4 0.4 -0.8 1.6 -0.3 0.9 0.1M426.4 258.7l1.9 0.3 0.7 0.7 -1 1 -2.8 0 -2.2 0.1 -0.2 -1.6 0.5 -0.6 3.1 0.1M384.2 239l-0.9 0.2 -1 -2.2 -1.4 -1.1 0.8 -2.3 1.2 0.1 1.3 3.1 0 2.2M383.1 228.4l-4.1 0.6 -0.2 -1.4 1.7 -0.3 2.5 0.1 0.1 1M386.2 228.4l-0.6 2.6 -0.8 -0.4 0.1 -2 -1.7 -1.5 0 -0.4 3 1.7M443.6 287.7l2.2 -0.5 0.8 0.2 -0.2 2.8 -3.1 0.4 -0.7 -0.4 1.1 -1 -0.1 -1.5M464.4 138l-2.5 3.3 2.5 -1.3 2.5 0.8 -1.3 1.3 3.3 1.1 1.8 -0.9 3.7 1.1 -1.2 2.8 2.6 -0.7 0.5 2 1.2 2.3 -1.6 3.3 -1.7 0.2 -2.4 -0.7 0.8 -3.1 -1.1 -0.5 -4.3 3.3 -2.3 -0.1 2.7 -1.8 -3.6 -0.9 -4.1 0.2 -7.2 -0.1 -0.6 -1.1 2.3 -1.3 -1.6 -1 3.2 -2.3 3.8 -6 2.4 -2.1 3.2 -1.3 1.7 0.1 -0.7 1.1 -2 2.3M433 141.1l1.3 -0.3 4.9 0.9 3.8 1.6 0.1 0.6 -1.8 0.1 -4.8 -1.1 -3.5 -1.8M434.9 151.7l1.3 1.8 2.7 0.5 3.5 0 -1.8 1.5 -1.4 0.2 -4.8 -1.6 -0.9 -1.2 1.4 -1.2M211.8 146.2l-1.9 0.5 -6.2 -1.7 -1 -1.3 -3.4 -1.3 -0.7 -1.1 -3.9 -0.7 -1.4 -2 0.3 -0.9 4 0.8 2.2 0.6 3.6 0.4 1.2 1.3 1.9 1.8 3.8 1.5 1.5 2.1M177.3 125.5l3.6 -0.3 -1.1 4.2 3.2 3 -1.5 0 -2.2 -1.7 -1.4 -1.7 -1.9 -1.2 -0.7 -1.6 0.2 -1.2 1.8 0.5M100.4 110.7l2.5 0.3 1.6 1.1 -3.3 1.8 -3.8 1.5 -1.9 -1 -0.5 -1.8 3.4 -1.3 2 -0.6M31 88.9l2.3 0.7 2.4 -0.3 3 0.9 3.7 0.5 -0.3 0.4 -2.8 0.8 -2.9 -0.8 -1.4 -0.7 -3.3 0.3 -0.9 -0.4 0.2 -1.4M50.7 101.7l3 0.3 0.4 1.4 -2.3 0.6 -2.5 -0.7 -2.3 -1 3.7 -0.6M91.7 256.5l-0.6 0.6 -0.9 -0.5 0.1 -1 -0.6 -1.4 0.2 -0.4 0.6 -0.6 -0.2 -0.8 0.2 -0.3 0.3 0 1.4 0.7 0.7 0.3 0.6 0.5 0.9 1.3 0 0.2 -1.5 0.8 -1.2 0.6M89.7 250.7l-1.3 0.2 -0.6 -0.7 -0.4 -0.3 -0.1 -0.3 0.4 -0.3 1.3 0.3 1 0.6 -0.3 0.5M83.8 248.1l-0.2 0.3 -0.3 -0.1 -1.3 -0.1 -0.4 -0.9 -0.2 -0.1 1 -0.6 0.3 0.3 1.1 1.2M77.4 245.7l-0.4 0.3 -1.3 -0.7 0.2 -0.2 0.6 -0.4 0.9 0.1 0 0.9M87.1 248.7l-0.1 0.4 -2 -0.1 0.3 -0.5 1.8 0.2M375.8 55.1l-4.2 -2 0.2 -1.3 1.8 -0.3 8.6 0.4 6.5 2.1 0.3 1 -4 -0.1 -4 -0.1 -4.1 0.5 -1.1 -0.2M350.3 53.8l3 2.3 3.5 -3 9.4 -1.5 6.5 3.8 -0.6 2.5 7.5 -1.1 3.5 -1.5 8.3 1.9 5.2 1.8 0.5 1.6 6.9 -0.8 3.9 2.4 9.1 1.4 3.3 1.6 3.5 3.5 -6.9 1.7 8.8 2.5 6 0.8 5.4 3.4 5.9 0.3 -1.2 2.6 -6.6 4.4 -4.6 -1.6 -5.9 -3.6 -4.8 0.4 -0.5 2.2 3.9 2.1 5.1 1.8 1.6 1 2.4 3.7 -1.3 2.7 -4.7 -1.1 -9.4 -3 5.3 3.3 3.9 2.3 0.6 1.3 -10.2 -1.5 -8 -2.2 -4.6 -1.8 1.4 -1.1 -5.6 -1.9 -5.5 -1.8 0.1 1 -10.9 0.6 -3.2 -1.2 2.5 -2.8 7.1 -0.1 7.7 -0.4 -1.2 -1.4 1.3 -1.8 4.8 -3.7 -1 -1.7 -1.5 -1.2 -5.7 -1.8 -7.6 -1.3 2.4 -1 -4 -2.3 -3.3 -0.2 -3 -1.3 -1.9 1.1 -6.9 0.5 -13.6 -0.9 -7.9 -1.1 -6.1 -0.5 -3.1 -1.3 3.9 -1.8 -5.3 0 -1.2 -3.8 2.8 -3.3 3.9 -1.6 9.7 -0.9 -2.8 2.4M355.6 81.9l0.7 1.6 1.9 -0.5 2.2 0.9 4.1 1.3 4.3 1.2 0.3 1.8 2.8 -0.3 2.7 1.2 -3.4 1.2 -5.8 -0.9 -2.1 -1.7 -3.7 2 -5.4 2 -1.3 -2.2 -5 0.3 3.2 -1.8 0.5 -3 1.3 -3.4 2.7 0.3M360 93.9l2.8 -1.7 5.1 0 -0.1 0.7 -4.4 2.1 -2.6 -0.1 -0.8 -1M375.2 94.1l1.5 0.2 1 0.7 -1.5 2 -1.6 -0.3 -1 -1.2 1.6 -1.4M390.3 72l3 1.1 0 1.6 -0.4 0.5 -2.5 1.1 -4.2 0.2 -0.9 -1.8 1.6 -2.1 3.4 -0.6M269.2 59.4l1.9 -1.5 -2.6 -3.9 3.3 -0.5 3.7 0.6 4.2 1.5 2.4 3.6 1.1 2.7 6.3 1.8 6.8 1.8 -0.4 1.7 -6.2 0.3 2.4 1.4 -1.3 1.4 -6.7 -0.6 -6.5 -1 -4.3 0.2 -7.1 1.3 -9.5 0.6 -6.7 0.3 -2 -1.8 -5.1 -1 -3.3 0.4 -4.7 -2.9 2.6 -0.4 5.7 -0.7 5.3 0.2 4.9 -0.7 -7.2 -0.8 -8.1 0.3 -5.3 -0.1 -1.9 -1.4 8.7 -1.5 -5.9 0 -6.5 -0.9 3.2 -2.8 2.6 -1.5 10 -2.3 3.8 0.7 -1.8 1.8 8.3 -1.2 5.2 1.9 4.3 -1.9 3.4 1.3 3 3.6M202.7 58.6l1.6 -1.6 2.6 -2.7 3.3 -2.5 -3.7 -2.3 12.7 -0.6 5.4 0.8 9.5 0.2 3.7 1.1 4 1.6 -4.7 0.9 -9.2 2.7 -4.7 2.6 0 1.6 -9.8 1.8 -2 -1.6 -8.7 -2M233.6 46l5.1 -3.6 3.5 -1.1 10.5 1.3 6.7 2.2 6.5 0.3 -5.3 -3.6 3.4 -1.3 3.9 0.4 1.3 1.8 1.4 1.3 3.4 -0.6 3.9 0.1 0.7 1.9 -2.3 1.7 -12.7 0.6 -9.5 1.6 -5.7 0.2 -0.4 -1.3 7.7 -1.6 -16.9 0.4 -5.2 -0.7M298.6 51.2l4.5 0.8 6.7 -0.5 1 1.1 -3.5 1.8 5.6 1.6 -0.6 3.4 -6.2 1.5 -3.6 -0.4 -2.6 -1.4 -9.3 -2.9 0.1 -1.2 7.6 0.5 -4.1 -2.5 4.4 -1.8M325.5 55.2l-4.1 2.8 -4.2 -0.1 -2.4 -3.3 0.1 -1.9 1.9 -1.6 3.8 -1 7.8 0.1 7.1 0.9 -5.5 3.4 -4.5 0.7M316.3 69l-2.4 1.3 -5 -1.2 -3.1 0.5 -5.1 -1.7 3.3 -1.2 2.6 -1.6 4 1 2.3 0.7 1.1 0.7 2.3 1.5M319.9 39l4.2 1.2 7.3 0 3.3 1.2 -0.9 1.5 4.3 0.8 2.4 0.9 5 0.1 5.5 0.4 6 -0.9 7.6 -0.3 6.1 0.3 4 1.4 0.9 1.6 -2.4 0.9 -5.6 0.9 -4.8 -0.5 -10.7 0.6 -7.7 0.1 -6.1 -0.5 -9.9 -1.2 -1.3 -2.1 -0.5 -1.8 -3.7 -1.7 -7.8 -0.4 -4.3 -1.2 1.3 -1.5 7.8 0.2M418.1 16.5l10 0.3 8 0.4 6.9 1.1 -0.2 1 -9.1 1.6 -9.1 0.7 -3.4 0.9 8.2 0 -8.9 2.2 -6.1 1.1 -6.4 3.1 -7.7 0.6 -2.4 0.8 -11.4 0.4 5.2 0.4 -2.6 0.7 3.1 1.8 -3.5 1.3 -5.8 1.1 -1.8 1.5 -5.3 1.1 0.6 0.8 6.4 -0.1 0.1 0.9 -10.1 2.2 -9.7 -1 -11.1 0.6 -5.6 -0.5 -7 -0.1 -0.5 -1.8 6.9 -0.9 -1.8 -2.7 2.3 -0.3 10 1.6 -5.1 -2.4 -6.1 -0.7 3 -1.4 6.7 -0.9 1.1 -1.3 -5.4 -1.5 -1.5 -1.9 10.2 0.1 3 0.4 5.8 -1.3 -8.4 -0.5 -13.2 0.3 -6.6 -1.3 -3.1 -1.5 -4.4 -1.1 -0.8 -1.3 5.6 -0.7 4.4 -0.1 7.3 -0.6 5.5 -1.4 4.7 0.2 4 1 2.9 -2 4.9 -0.6 6.7 -0.4 11.5 -0.2 2 0.4 10.8 -0.6 8.1 0.2 8.2 0.3M348.6 29.4l4.6 1.2 -5.2 1.1 -7 2.8 -6.6 0.3 -7.7 -0.5 -4.1 -1.5 0.1 -1.3 2.9 -1.1 -6.8 0.1 -4.1 -1.3 -2.4 -1.7 2.6 -1.6 2.6 -1.2 3.8 -0.3 -1.6 -0.8 8.7 -0.2 4.8 2 6.3 0.8 6.2 0.7 2.9 2.5M305.6 40.4l2.8 1.7 0.2 2 -1.7 2.8 -6.2 0.3 -4 -0.6 0 -2.1 -6.1 0.3 -0.3 -3 4.1 0.2 5.6 -1.3 5.3 0.2 0.3 -0.5M279.4 30.7l7.3 0.5 10.1 1.4 2.9 1.8 1.5 1.6 -6.1 -0.5 -6.2 -1.2 -8.4 -0.1 3.7 -1.1 -4.6 -0.9 -0.2 -1.5M220.6 39.9l7.7 -2.4 5.8 0 5.1 -0.6 -0.5 2.9 -2.9 1.3 -3.5 0.2 -7 1.6 -6 0.6 -5 -0.8 6.3 -2.8M249.2 36.6l3.1 -1.2 5.4 -0.3 5.3 0.5 -1.3 1.1 -6.9 1.1 -5.6 -1.2M258.9 32.6l4.8 0.8 -4.5 0.7 -6.3 0 0.1 -0.5 3.8 -1.2 2.1 0.2M323.9 46.9l-2 1.5 -5.5 -0.3 -4.5 -1 2 -1.7 5.4 -1 3.2 1.3 1.4 1.2M61.1 622.8l9.4 -0.8 6.4 1.2 -3.8 1.5 -7.5 0 -4.5 -1.9M197.6 603.5l2.6 -0.8 2.6 0.9 7.2 1.4 -7.2 -0.4 -5.2 -1.1M216 603l4.5 0.7 4.8 0.6 4.5 -0.7 -2.2 1.3 -3.4 1 -5.2 -0.3 -3.8 -1.3 0.8 -1.3M303.8 597.8l4.1 0.5 4.1 -0.5 2.2 2.2 -2.9 -0.3 -4.6 0.1 -4.6 -0.1 -5.1 0.2 -3.8 -0.7 -2 -1.6 2.4 -0.6 4.7 0.5 5.5 0.3M418.2 594.1l0.5 1.7 -0.7 1.5 -1 1.4 -4.4 0.5 -4.2 0.7 -4.9 -0.1 1.8 -1.4 -8.6 1 -2.8 -1.1 -0.2 -1.5 4 -1.5 2.6 -0.5 4.4 0.2 1.1 -1.9 0.2 -1.4 -0.1 -3 2.2 -1.8 3.4 -0.6 2 1.4 0.9 1.4 1.6 1.7 1.2 1.6 1 1.7M471.7 630.3l8.2 -2.3 7.5 -1.5 9.4 -1.1 9.4 1.1 5.6 1.9 0.7 1.9 -10.1 1.1 -15 0 -15.7 -1.1M433.1 626.3l7.5 -0.3 7.1 0.6 -3.8 1.2 -7.5 0 -3.3 -1.5M1178.1 353.9l-0.4 -2.8 0.7 -1.4 0.8 -1.2 0.9 1.1 -0.1 1.8 -1.9 2.5"/>
</defs>
<g>
<text class="t" x="743.0" y="107.8">Combined (GIM), 2004-06-09 03:00 UT</text>
<g transform="translate(78.45 132.50)" clip-path="url(#cp)">
<g shape-rendering="crispEdges">
<rect x="0" y="0" width="1331.05" height="656.15" fill="#000096"/>
<path fill="#0000cd" fill-rule="evenodd" d="M0 656l5 0 4 0 5 0 5 0 4 0 5 0 5 0 4 0 5 0 5 0 5 0 4 0 5 0 5 0 4 0 5 0 5 0 4 0 5 0 5 0 4 0 5 0 5 0 4 0 5 0 5 0 5 0 4 0 5 0 5 0 4 0 5 0 5 0 4 0 5 0 5 0 4 0 5 0 5 0 4 0 5 0 5 0 5 0 4 0 5 0 5 0 4 0 5 0 5 0 4 0 5 0 5 0 4 0 5 0 5 0 4 0 5 0 5 0 5 0 4 0 5 0 5 0 4 0 5 0 5 0 4 0 5 0 5 0 4 0 5 0 5 0 4 0 5 0 5 0 5 0 4 0 5 0 5 0 4 0 5 0 5 0 4 0 5 0 5 0 4 0 5 0 5 0 4 0 5 0 5 0 4 0 5 0 5 0 5 0 4 0 5 0 5 0 4 0 5 0 5 0 4 0 5 0 5 0 4 0 5 0 5 0 4 0 5 -3 3 -2 2 -1 5 -2 4 -1 5 1 2 -1 3 -1 4 -2 4 -2 1 0 5 -2 4 -1 5 -1 2 -1 3 0 4 -1 5 -1 5 -1 4 -1 4 0 1 0 5 -1 5 -1 4 -1 5 -1 5 0 4 -1 1 0 4 -1 5 0 4 -1 5 0 5 -1 4 0 5 -1 5 0 4 0 3 -1 2 0 5 0 5 -1 4 -2 5 -1 3 0 2 -1 4 -1 5 -1 5 -2 4 0 5 0 5 -1 4 -2 5 -1 5 0 3 -1 1 0 5 -1 5 -1 5 0 4 -1 5 -1 5 0 4 -1 5 0 5 -1 4 0 5 -1 5 0 4 -1 5 -1 3 0 2 0 4 -1 5 0 5 -1 5 -1 4 -1 5 0 5 -1 4 0 5 -1 5 0 4 -1 5 0 5 -1 4 0 5 -1 4 0 1 -1 4 0 5 -1 5 0 4 -1 5 -1 5 0 5 -1 2 0 2 0 5 0 1 0 4 0 4 1 5 -1 3 0 2 0 4 -1 5 0 5 1 1 0 3 0 5 1 5 1 4 1 5 1 3 1 2 1 3 3 -2 5 -1 1 -4 4 -1 0 -5 4 -1 0 -3 2 -4 3 -1 0 -5 3 -4 2 -5 2 -5 2 -2 0 -2 1 -5 2 -5 1 -1 1 -3 1 -5 2 -5 2 -1 0 -3 0 -5 1 -5 2 -4 1 -1 1 -4 1 -5 1 -5 1 -4 1 -2 0 -3 1 -5 1 -4 1 -5 1 -5 1 -1 0 -3 0 -5 1 -5 0 -4 0 -5 1 -5 0 -4 1 -5 0 -5 0 -5 0 -4 1 -5 0 -5 0 -4 1 -5 0 -5 1 -4 0 -5 0 -5 1 -4 0 -5 0 -5 1 -4 0 -5 0 -5 1 -2 0 2 0 5 0 5 0 4 0 5 0 5 0 4 0 5 0 5 0 4 0 5 0 5 0 4 0 5 0 5 0 4 0 5 0 5 0 5 0 4 0 5 0 5 0 4 0 5 0 5 0 4 0 5 0 5 0 4 0 5 0 5 0 4 0 5 0 5 0 4 0 5 0 5 0 5 0 4 0 5 0 5 0 4 0 5 0 5 0 4 0 5 0 5 0 4 0 5 0 5 0 4 0 5 0 5 0 5 0 4 0 5 0 5 0 4 0 5 0 5 0 4 0 5 0 5 0 4 0 5 0 5 0 4 0 5 0 5 0 5 0 4 0 5 0 5 0 4 0 5 0 5 0 4 0 5 0 5 0 4 0 5 0 5 0 4 0 5 0 5 0 5 0 4 0 5 0 5 0 4 0 5 0 5 0 4 0 5 0 5 0 4 0 5 0 5 0 4 0 5 0 5 0 5 0 4 0 5 0 5 0 4 0 5 0 5 0 4 0 5 0 5 0 4 0 5 0 5 0 4 0 5 0 5 0 4 0 5 0 5 0 5 0 4 0 5 0 5 0 4 0 5 0 5 0 4 0 5 0 0 -5 0 -4 0 -5 0 -5 0 -4 0 -5 0 -5 0 -4 0 -5 0 -5 0 -4 0 -5 0 -5 0 -4 0 -5 0 -5 0 -5 0 -4 0 -5 0 -5 0 -4 0 -5 0 -5 0 -4 0 -5 0 -5 0 -4 0 -5 0 -5 0 -4 0 -5 0 -5 0 -5 0 -4 0 -5 0 -5 0 -4 0 -5 0 -5 0 -4 0 -5 0 -5 0 -4 0 -5 0 -5 0 -4 0 -5 0 -5 0 -5 0 -4 0 -5 0 -5 0 -4 0 -5 0 -5 0 -4 0 -5 0 -5 0 -4 0 -5 0 -5 0 -4 0 -5 0 -5 0 -4 0 -5 0 -5 0 -5 0 -4 0 -5 0 -5 0 -4 0 -5 0 -5 0 -4 0 -5 0 -5 0 -4 0 -5 0 -5 0 -4 0 -5 0 -5 0 -5 0 -4 0 -5 0 -5 0 -4 0 -5 0 -5 0 -4 0 -5 0 -5 0 -4 0 -5 0 -5 0 -4 0 -5 0 -5 0 -5 0 -4 0 -5 0 -5 0 -4 0 -5 0 -5 0 -4 0 -5 0 -5 0 -4 0 -5 0 -5 0 -4 0 -5 0 -5 0 -5 0 -4 0 -5 0 -5 0 -4 0 -5 0 -5 0 -4 0 -5 0 -5 0 -4 0 -5 0 -5 0 -4 0 -5 0 -5 0 -5 0 -4 0 -5 0 -5 0 -4 0 -5 0 -5 0 -4 0 -5 -5 0 -4 0 -5 0 -5 0 -4 0 -5 0 -5 0 -4 0 -5 0 -5 0 -5 0 -4 0 -5 0 -5 0 -4 0 -5 0 -5 0 -4 0 -5 0 -5 0 -4 0 -5 0 -5 0 -4 0 -5 0 -5 0 -4 0 -5 0 -5 0 -5 0 -4 0 -5 0 -5 0 -4 0 -5 0 -5 0 -4 0 -5 0 -5 0 -4 0 -5 0 -5 0 -4 0 -5 0 -5 0 -5 0 -4 0 -5 0 -5 0 -4 0 -5 0 -5 0 -4 0 -5 0 -5 0 -4 0 -5 0 -5 0 -4 0 -5 0 -5 0 -5 0 -4 0 -5 0 -5 0 -4 0 -5 0 -5 0 -4 0 -5 0 -5 0 -4 0 -5 0 -5 0 -4 0 -5 0 -5 0 -5 0 -4 0 -5 0 -5 0 -4 0 -5 0 -5 0 -4 0 -5 0 -5 0 -4 0 -5 0 -5 0 -4 0 -5 0 -5 0 -5 0 -4 0 -5 0 -5 0 -4 0 -5 0 -5 0 -4 0 -5 0 -5 0 -4 0 -5 0 -5 0 -4 0 -5 0 -5 0 -4 0 -5 0 -5 0 -5 0 -4 0 -5 0 -5 0 -4 0 -5 0 -5 0 -4 0 -5 0 -5 0 -4 0 -5 0 -5 0 -4 0 -5 0 -5 0 -5 0 -4 0 -5 0 -5 0 -4 0 -5 0 -5 0 -4 0 -5 0 -5 0 -4 0 -5 0 -5 0 -4 0 -5 0 -5 0 -5 0 -4 0 -5 0 -5 0 -4 0 -5 0 -5 0 -4 0 -5 0 -5 0 -4 0 -5 0 -5 0 -4 0 -5 0 -5 0 -5 0 -4 0 -5 0 -5 0 -4 0 -5 0 -5 0 -4 0 -5 0 -5 0 -4 0 -5 0 -5 0 -4 0 -5 0 -5 0 -5 0 -4 0 -5 0 -5 0 -4 0 -5 0 -5 0 -4 0 -5 0 -5 0 -4 0 -5 0 -5 0 -4 0 -5 0 -5 0 -5 0 -4 0 -5 0 -5 0 -4 0 -5 0 -5 0 -4 0 -5 0 -5 0 -4 0 -5 0 -5 0 -4 0 -5 0 -5 0 -4 0 -5 0 -5 0 -5 0 -4 0 -5 0 -5 0 -4 0 -5 0 -5 0 -4 0 -5 0 -5 0 -4 0 -5 0 -5 0 -4 0 -5 0 -5 0 -5 0 -4 0 -5 0 -5 0 -4 0 -5 0 -5 0 -4 0 -5 0 -5 0 -4 0 -5 0 -5 0 -4 0 -5 0 -5 0 -5 0 -4 0 -5 0 -5 0 -4 0 -5 0 -5 0 -4 0 -5 0 -5 0 -4 0 -5 0 -5 0 -4 0 -5 0 -5 0 -5 0 -4 0 -5 0 -5 0 -4 0 -5 0 -5 0 -4 0 -5 0 -5 0 -4 0 -5 0 -5 0 -4 0 -5 0 -5 0 -5 0 -4 0 -5 0 -5 0 -4 0 -5 0 -5 0 -4 0 -5 0 0 5 0 4 0 5 0 5 0 4 0 5 0 5 0 4 0 5 0 5 0 5 0 4 0 5 0 5 0 4 0 5 0 5 0 4 0 5 0 5 0 4 0 5 0 5 0 4 0 5 0 5 0 5 0 4 0 5 0 5 0 4 0 5 0 5 0 4 0 5 0 5 0 4 0 5 0 5 0 4 0 5 0 5 0 5 0 4 0 5 0 5 0 4 0 5 0 5 0 4 0 5 0 5 0 4 0 5 0 5 0 4 0 5 0 5 0 5 0 4 0 5 0 5 0 4 0 5 0 5 0 4 0 5 0 5 0 4 0 5 0 5 0 4 0 5 0 5 0 5 0 4 0 5 0 5 0 4 0 5 0 5 0 4 0 5 0 5 0 4 0 5 0 5 0 4 0 5 0 5 0 4 0 5 0 5 0 5 0 4 0 5 0 5 0 4 0 5 0 5 0 4 0 5 0 5 0 4 0 5 0 5 0 4 0 5 0 5 0 5 0 4 0 5 0 5 0 4 0 5 0 5 0 4 0 5 0 5 0 4 0 5 0 5 0 4 0 5 0 5 0 5 0 4 0 5 0 5 0 4 0 5 0 5 0 4 0 5 0 5 0 4 0 5 0 5 0 4 0 5zM708 594l-3 -3 -1 -5 1 -5 0 -5 2 -4 1 -1 4 -3 5 0 4 4 -2 4 -2 5 -1 5 -1 5 -3 3 -4 0zM722 554l-2 -1 2 -5 4 -4 0 -1 5 -3 1 -1 4 -2 3 -3 2 0 4 -3 3 -1 2 -1 5 -2 4 -2 5 -2 5 -2 1 -1 3 -1 5 -2 5 -1 4 -2 5 -1 5 -1 4 -1 2 0 3 -1 5 -1 5 -1 4 -1 3 -1 2 0 5 -1 4 -1 5 -1 5 0 4 -1 3 -1 2 0 5 0 4 -1 5 -1 5 0 4 -1 5 -1 5 1 4 0 5 1 5 0 5 1 4 1 3 0 2 1 5 2 3 2 1 1 4 4 1 2 2 3 2 4 -1 5 -1 5 -2 3 -1 1 -4 4 -2 1 -2 1 -5 3 -2 1 -3 1 -4 1 -5 1 -5 1 -4 0 -1 0 -4 1 -5 1 -5 0 -4 -1 -5 0 -5 1 -4 0 -5 0 -5 0 -4 0 -5 0 -5 0 -4 0 -5 0 -5 0 -4 0 -5 1 -5 0 -5 0 -4 0 -5 1 -5 0 -4 1 -5 0 -1 0 -4 0 -4 1 -5 0 -5 1 -4 0 -5 1 -5 0 -4 0 -5 1 -5 -1 -5 0 -4 -2z"/>
<path fill="#0000ff" fill-rule="evenodd" d="M0 656l5 0 4 0 5 0 5 0 4 0 5 0 5 0 4 0 5 0 5 0 5 0 4 0 5 0 5 0 4 0 5 0 5 0 4 0 5 0 5 0 4 0 5 0 5 0 4 0 5 0 5 0 5 0 4 0 5 0 5 0 2 0 -2 -2 -4 -3 -1 0 -5 -3 -2 -1 -2 -2 -5 -2 -1 -1 -4 -1 -5 -2 -4 -2 -5 -1 -5 -2 -4 -1 -1 0 -4 -1 -5 -2 -4 -1 -5 0 -2 -1 -3 0 -4 -1 -5 -1 -5 -1 -4 -1 -3 -1 -2 0 -5 -1 -5 -1 -4 -1 -5 -1 -2 0 -3 -1 -4 -1 -5 -1 -5 -1 -4 -1 -3 0 -2 0 0 5 0 4 0 5 0 5 0 4 0 5 0 5 0 4 0 5zM1030 651l1 2 5 3 4 0 5 0 5 0 5 0 4 0 5 0 5 0 4 0 5 0 5 0 4 0 5 0 5 0 4 0 5 0 5 0 4 0 5 0 5 0 5 0 4 0 5 0 5 0 4 0 5 0 5 0 4 0 5 0 5 0 4 0 5 0 5 0 4 0 5 0 5 0 5 0 4 0 5 0 5 0 4 0 5 0 5 0 4 0 5 0 5 0 4 0 5 0 5 0 4 0 5 0 5 0 4 0 5 0 5 0 5 0 4 0 5 0 5 0 4 0 5 0 5 0 4 0 5 0 0 -5 0 -4 0 -5 0 -5 0 -4 0 -5 0 -5 0 -4 0 -5 0 -5 0 -4 0 -5 0 -5 0 -4 0 -5 0 -5 0 -5 0 -4 0 -5 0 -5 0 -4 0 -5 0 -5 0 -4 0 -5 0 -5 0 -4 0 -5 0 -5 0 -4 0 -5 0 -5 0 -5 0 -4 0 -5 0 -5 0 -4 0 -5 0 -5 0 -4 0 -5 0 -5 0 -4 0 -5 0 -5 0 -4 0 -5 0 -5 0 -5 0 -4 0 -5 0 -5 0 -4 0 -5 0 -5 0 -4 0 -5 0 -5 0 -4 0 -5 0 -5 0 -4 0 -5 0 -5 0 -4 0 -5 0 -5 0 -5 0 -4 0 -5 0 -5 0 -4 0 -5 0 -5 0 -4 0 -5 0 -5 0 -4 0 -5 0 -5 0 -4 0 -5 0 -5 0 -5 0 -4 0 -5 0 -5 0 -4 0 -5 0 -5 0 -4 0 -5 0 -5 0 -4 0 -5 0 -5 0 -4 0 -5 0 -5 0 -5 0 -4 0 -5 0 -5 0 -4 0 -5 0 -5 0 -4 0 -5 0 -5 0 -4 0 -5 0 -5 0 -4 0 -5 0 -5 0 -5 0 -4 0 -5 0 -5 0 -4 0 -5 0 -5 0 -4 0 -5 0 -5 0 -4 0 -5 0 -5 0 -4 0 -5 0 -5 0 -5 0 -4 0 -5 0 -5 0 -4 0 -5 0 -5 0 -4 0 -5 -5 0 -4 0 -5 0 -5 0 -4 0 -5 0 -5 0 -4 0 -5 0 -5 0 -5 0 -4 0 -5 0 -5 0 -4 0 -5 0 -5 0 -4 0 -5 0 -5 0 -4 0 -5 0 -5 0 -4 0 -5 0 -5 0 -4 0 -5 0 -5 0 -5 0 -4 0 -5 0 -5 0 -4 0 -5 0 -5 0 -4 0 -5 0 -5 0 -4 0 -5 0 -5 0 -4 0 -5 0 -5 0 -5 0 -4 0 -5 0 -5 0 -4 0 -5 0 -5 0 -4 0 -5 0 -5 0 -4 0 -5 0 -5 0 -4 0 -5 0 -5 0 -5 0 -4 0 -5 0 -5 0 -4 0 -5 0 -5 0 -4 0 -5 0 -5 0 -4 0 -5 0 -5 0 -4 0 -5 0 -5 0 -5 0 -4 0 -5 0 -5 0 -4 0 -5 0 -5 0 -4 0 -5 0 -5 0 -4 0 -5 0 -5 0 -4 0 -5 0 -5 0 -5 0 -4 0 -5 0 -5 0 -4 0 -5 0 -5 0 -4 0 -5 0 -5 0 -4 0 -5 0 -5 0 -4 0 -5 0 -5 0 -4 0 -5 0 -5 0 -5 0 -4 0 -5 0 -5 0 -4 0 -5 0 -5 0 -4 0 -5 0 -5 0 -4 0 -5 0 -5 0 -4 0 -5 0 -5 0 -5 0 -4 0 -5 0 -5 0 -4 0 -5 0 -5 0 -4 0 -5 0 -5 0 -4 0 -5 0 -5 0 -4 0 -5 0 -5 0 -5 0 -4 0 -5 0 -5 0 -4 0 -5 0 -5 0 -4 0 -5 0 -5 0 -4 0 -5 0 -5 0 -4 0 -5 0 -5 0 -5 0 -4 0 -5 0 -5 0 -4 0 -5 0 -5 0 -4 0 -5 0 -5 0 -4 0 -5 0 -5 0 -4 0 -5 0 -5 0 -5 0 -4 0 -5 0 -5 0 -4 0 -5 0 -5 0 -4 0 -5 0 -5 0 -4 0 -5 0 -5 0 -4 0 -5 0 -5 0 -5 0 -4 0 -5 0 -5 0 -4 0 -5 0 -5 0 -4 0 -5 0 -5 0 -4 0 -5 0 -5 0 -4 0 -5 0 -5 0 -4 0 -5 0 -5 0 -5 0 -4 0 -5 0 -5 0 -4 0 -5 0 -5 0 -4 0 -5 0 -5 0 -4 0 -5 0 -5 0 -4 0 -5 0 -5 0 -5 0 -4 0 -5 0 -5 0 -4 0 -5 0 -5 0 -4 0 -5 0 -5 0 -4 0 -5 0 -5 0 -4 0 -5 0 -5 0 -5 0 -4 0 -5 0 -5 0 -4 0 -5 0 -5 0 -4 0 -5 0 -5 0 -4 0 -5 0 -5 0 -4 0 -5 0 -5 0 -5 0 -4 0 -5 0 -5 0 -4 0 -5 0 -5 0 -4 0 -5 0 -5 0 -4 0 -5 0 -5 0 -4 0 -5 0 -5 0 -5 0 -4 0 -5 0 -5 0 -4 0 -5 0 -5 0 -4 0 -5 0 0 5 0 4 0 5 0 5 0 4 0 5 0 5 0 4 0 5 0 5 0 5 0 4 0 5 0 5 0 4 0 5 0 5 0 4 0 5 0 5 0 4 0 5 0 5 0 4 0 5 0 5 0 5 0 4 0 5 0 5 0 4 0 5 0 5 0 4 0 5 0 5 0 4 0 5 0 5 0 4 0 5 0 5 0 5 0 4 0 5 0 5 0 4 0 5 0 5 0 4 0 5 0 5 0 4 0 5 0 5 0 4 0 5 0 5 0 5 0 4 0 5 0 5 0 4 0 5 0 5 0 4 0 5 0 5 0 4 0 5 0 5 0 4 0 5 0 5 0 5 0 4 0 5 0 5 0 4 0 5 0 5 0 4 0 5 0 5 0 4 0 5 0 5 0 4 0 5 0 5 0 4 0 5 0 5 0 5 0 4 0 5 0 5 0 4 0 5 0 5 0 4 0 5 0 5 0 4 0 5 0 5 0 4 0 5 0 5 0 5 0 4 0 5 0 5 0 4 0 5 0 5 0 4 0 5 0 5 0 4 0 5 0 5 0 4 0 5 0 5 0 5 0 1 5 0 4 -1 3 0 2 -1 5 0 4 -1 5 0 5 -1 4 -1 5 0 5 -1 1 0 4 -1 4 0 5 -1 5 -1 4 -1 2 -1 3 0 5 -1 4 -1 5 -1 5 -1 2 -1 2 0 5 -1 5 -2 2 -1 2 -1 5 -2 4 -2 1 0 5 -2 4 -2 1 -1 4 -2 4 -2 1 0 4 -3 3 -2 2 -1 5 -2 2 -2 2 0 5 -2 5 -1 4 -1 0 -1 5 0 5 -1 4 0 5 0 5 0 5 -1 4 0 5 0 5 0 4 0 5 0 5 0 4 0 5 0 5 0 4 0 5 0 5 0 4 0 5 0 5 0 5 0 4 0 5 0 5 0 4 0 5 0 5 0 4 0 5 0 5 0 4 -1 5 0 5 0 4 0 5 0 5 0 5 0 4 0 5 0 5 0 4 0 5 -1 5 0 4 0 5 0 5 0 2 0 2 0 5 0 5 0 4 0 5 -1 5 0 4 0 5 -1 5 0 5 0 4 -1 5 0 5 -1 4 0 5 0 2 -1 3 0 4 0 5 -1 5 0 4 -1 5 0 5 -1 4 0 5 -1 5 0 3 0 2 0 4 -1 5 0 5 0 4 -1 5 0 5 0 4 -1 5 0 5 0 4 0 5 0 5 1 4 0 5 0 5 0 5 0 4 0 5 0 5 0 4 0 5 0 5 0 4 0 5 0 5 1 4 0 5 0 5 0 4 0 5 0 5 -1 5 -1 4 -1 3 -1 2 -1 5 -1 4 -2 4 -1 1 0 5 -2 4 -1 5 -1 0 -1 5 -1 4 -2 3 -1 2 -1 5 -2 4 -2 5 -2 5 -2 2 -1 3 -1 4 -1 5 -2 1 0 4 -2 4 -1 5 -2 5 -1 4 -1 5 -1 5 -1 4 0 5 -1 5 0 4 -1 5 -1 5 0 5 -1 4 0 5 -1 4 0 1 0 4 -1 5 0 5 -1 4 0 5 -1 5 0 4 -1 5 0 5 -1 4 1 5 0 5 0 4 0 5 1 5 0 5 1 4 0 5 1 2 1 3 0 4 2 5 1 3 1 2 1 4 1 5 2 4 1 1 0 4 3 4 2 1 0 5 3 1 1 3 3 3 2 2 3 1 2 2 5 2 4 1 5 1 5 0 4 2 5 1 2 1 3 3 4 5 5 5 4 2 1 2 1 5 2 5 1 4 2 5 1 5 2 4 2 5 1 4 2 1 0 4 2 5 2 2 0 3 2 5 2 3 1 1 1 5 3 0 1 3 5 0 4 -3 4 -1 1 -4 3 -2 2 -2 1 -5 3 0 1 -5 3 -2 1 -3 2 -3 3 -1 0 -5 4 -4 5 -1 1 -3 4 -1 3 -1 1 0 5 1 1 3 4 1 2 4 2zM245 623l3 1 5 1 5 1 4 0 5 0 5 0 5 0 4 0 5 0 5 0 4 0 5 0 5 0 4 0 5 -1 5 0 4 -1 5 0 3 -1 2 0 4 0 5 0 5 0 5 0 4 0 5 -1 5 0 4 0 5 -1 5 -1 4 0 5 -1 1 0 4 -1 4 -1 5 -1 5 -1 2 -1 2 -2 5 -2 1 -1 0 -4 -1 -1 -5 -3 -1 -1 -3 -1 -5 -2 -4 -2 -1 0 -4 -1 -5 -1 -5 -2 -3 0 -1 -1 -5 -1 -5 -1 -4 -1 -4 -1 -1 0 -5 -1 -4 -1 -5 -1 -5 -1 -5 0 -4 1 -5 0 -5 0 -4 0 -5 -1 -3 -1 -2 0 -4 -1 -5 -1 -5 0 -4 -1 -5 0 -5 0 -4 0 -5 0 -5 -1 -5 0 -4 1 -5 0 -5 1 -4 1 -5 1 -5 1 -4 1 -5 1 -4 2 -1 0 -4 4 -1 1 -4 3 -1 1 -2 5 0 5 2 4 1 1 4 4 1 1 4 3 3 1 2 0 5 1 4 1 5 1 5 1 1 0z"/>
<path fill="#0020ff" fill-rule="evenodd" d="M1167 637l5 1 4 0 5 0 5 0 4 1 5 0 5 0 5 -1 4 0 5 0 4 -1 1 0 4 0 5 -1 5 0 4 -1 5 0 5 -1 2 -1 2 -1 5 -4 -2 -5 -3 -1 -4 -3 -1 0 -4 -1 -5 -2 -4 -2 -2 0 -3 -1 -5 -1 -4 -2 -5 0 -3 -1 -2 0 -4 0 -5 -1 -5 0 -5 0 -4 -1 -5 0 -5 1 -4 1 -4 0 -1 0 -5 2 -4 0 -5 1 -5 1 -2 1 -2 1 -5 3 -2 1 -3 2 -3 2 1 5 2 1 5 2 3 2 2 0 4 1 5 1 5 1 4 1 5 0zM1144 576l4 1 5 1 5 0 4 0 5 0 5 0 4 0 5 -1 5 0 4 0 5 0 5 0 5 0 4 0 5 0 3 -1 2 0 4 0 5 0 5 0 4 -1 5 0 5 0 4 0 5 -1 5 0 4 0 5 -1 5 0 4 0 5 -1 5 0 4 0 1 0 4 0 5 -1 5 0 4 0 5 0 5 -1 4 0 5 0 0 -3 0 -5 0 -4 0 -5 0 -5 0 -4 0 -5 0 -5 0 -4 0 -5 0 -5 0 -4 0 -5 0 -5 0 -5 0 -4 0 -5 0 -5 0 -4 0 -5 0 -5 0 -4 0 -5 0 -5 0 -4 0 -5 0 -5 0 -4 0 -5 0 -5 0 -5 0 -4 0 -5 0 -5 0 -4 0 -5 0 -5 0 -4 0 -5 0 -5 0 -4 0 -5 0 -5 0 -4 0 -5 0 -5 0 -4 0 -5 0 -5 0 -5 0 -4 0 -5 0 -5 0 -4 0 -5 0 -5 0 -4 0 -5 0 -5 0 -4 0 -5 0 -5 0 -4 0 -5 0 -5 0 -5 0 -4 0 -5 0 -5 0 -4 0 -5 0 -5 0 -4 0 -5 0 -5 0 -4 0 -5 0 -5 0 -4 0 -5 0 -5 0 -5 0 -4 0 -5 0 -5 0 -4 0 -5 0 -5 0 -4 0 -5 0 -5 0 -4 0 -5 0 -5 0 -4 0 -5 0 -5 0 -5 0 -4 0 -5 0 -5 0 -4 0 -5 0 -5 0 -4 0 -5 0 -5 0 -4 0 -5 0 -5 0 -4 0 -5 0 -5 0 -5 0 -4 0 -5 0 -5 0 -4 0 -5 0 -5 0 -4 0 -5 -5 0 -4 0 -5 0 -5 0 -4 0 -5 0 -5 0 -4 0 -5 0 -5 0 -5 0 -4 0 -5 0 -5 0 -4 0 -5 0 -5 0 -4 0 -5 0 -5 0 -4 0 -5 0 -5 0 -4 0 -5 0 -5 0 -4 0 -5 0 -5 0 -5 0 -4 0 -5 0 -5 0 -4 0 -5 0 -5 0 -4 0 -5 0 -5 0 -4 0 -5 0 -5 0 -4 0 -5 0 -5 0 -5 0 -4 0 -5 0 -5 0 -4 0 -5 0 -5 0 -4 0 -5 0 -5 0 -4 0 -5 0 -5 0 -4 0 -5 0 -5 0 -5 0 -4 0 -5 0 -5 0 -4 0 -5 0 -5 0 -4 0 -5 0 -5 0 -4 0 -5 0 -5 0 -4 0 -5 0 -5 0 -5 0 -4 0 -5 0 -5 0 -4 0 -5 0 -5 0 -4 0 -5 0 -5 0 -4 0 -5 0 -5 0 -4 0 -5 0 -5 0 -5 0 -4 0 -5 0 -5 0 -4 0 -5 0 -5 0 -4 0 -5 0 -5 0 -4 0 -5 0 -5 0 -4 0 -5 0 -5 0 -4 0 -5 0 -5 0 -5 0 -4 0 -5 0 -5 0 -4 0 -5 0 -5 0 -4 0 -5 0 -5 0 -4 0 -5 0 -5 0 -4 0 -5 0 -5 0 -5 0 -4 0 -5 0 -5 0 -4 0 -5 0 -5 0 -4 0 -5 0 -5 0 -4 0 -5 0 -5 0 -4 0 -5 0 -5 0 -5 0 -4 0 -5 0 -5 0 -4 0 -5 0 -5 0 -4 0 -5 0 -5 0 -4 0 -5 0 -5 0 -4 0 -5 0 -5 0 -5 0 -4 0 -5 0 -5 0 -4 0 -5 0 -5 0 -4 0 -5 0 -5 0 -4 0 -5 0 -5 0 -4 0 -5 0 -5 0 -5 0 -4 0 -5 0 -5 0 -4 0 -5 0 -5 0 -4 0 -5 0 -5 0 -4 0 -5 0 -5 0 -4 0 -5 0 -5 0 -5 0 -4 0 -5 0 -5 0 -4 0 -5 0 -5 0 -4 0 -5 0 -5 0 -4 0 -5 0 -5 0 -4 0 -5 0 -5 0 -4 0 -5 0 -5 0 -5 0 -4 0 -5 0 -5 0 -4 0 -5 0 -5 0 -4 0 -5 0 -5 0 -4 0 -5 0 -5 0 -4 0 -5 0 -5 0 -5 0 -4 0 -5 0 -5 0 -4 0 -5 0 -5 0 -4 0 -5 0 -5 0 -4 0 -5 0 -5 0 -4 0 -5 0 -5 0 -5 0 -4 0 -5 0 -5 0 -4 0 -5 0 -5 0 -4 0 -5 0 -5 0 -4 0 -5 0 -5 0 -4 0 -5 0 -5 0 -5 0 -4 0 -5 0 -5 0 -4 0 -5 0 -5 0 -4 0 -5 0 -5 0 -4 0 -5 0 -5 0 -4 0 -5 0 -5 0 -5 0 -4 0 -5 0 -5 0 -4 0 -5 0 -5 0 -4 0 -5 0 0 5 0 4 0 5 0 5 0 4 0 5 0 5 0 4 0 5 0 5 0 5 0 4 0 5 0 5 0 4 0 5 0 5 0 4 0 5 0 5 0 4 0 5 0 5 0 4 0 5 0 5 0 5 0 4 0 5 0 5 0 4 0 5 0 5 0 4 0 5 0 5 0 4 0 5 0 5 0 4 0 5 0 5 0 5 0 4 0 5 0 5 0 4 0 5 0 5 0 4 0 5 0 5 0 4 0 5 0 5 0 4 0 5 0 5 0 5 0 4 0 5 0 5 0 4 0 5 0 5 0 4 0 5 0 5 0 4 0 5 0 5 0 4 0 5 0 5 0 5 0 4 0 5 0 5 0 4 0 5 0 5 0 4 0 5 0 5 0 4 0 5 0 5 0 4 0 5 0 5 0 4 0 5 0 5 0 5 0 4 0 5 0 5 0 4 0 5 0 5 0 4 0 5 0 5 0 4 0 5 0 5 0 4 0 5 0 5 0 5 0 4 0 5 0 5 0 4 0 5 0 5 0 4 0 5 0 5 0 4 0 5 0 5 0 4 5 -1 4 0 5 -1 5 0 4 -1 5 -1 5 0 4 -1 5 0 5 -1 5 -1 4 -1 4 -1 1 0 5 -1 4 -2 5 -1 3 -1 2 0 4 -2 5 -1 2 -1 3 -2 4 -3 5 -4 1 -1 4 -2 2 -2 2 -2 4 -3 1 -1 5 -3 1 -1 4 -2 4 -1 4 -1 1 -1 5 -1 4 -1 5 -1 5 0 4 0 5 -1 5 0 4 0 5 -1 5 0 4 0 5 0 5 0 5 0 4 0 5 0 5 0 4 0 5 0 5 0 4 0 5 0 5 0 4 0 5 0 5 0 4 0 5 0 5 0 5 -1 4 0 5 0 5 0 4 0 5 0 5 -1 4 0 5 0 5 0 4 0 5 0 5 -1 4 0 5 0 5 0 5 0 4 0 5 0 5 0 4 0 5 -1 5 0 2 0 2 0 5 0 5 0 4 -1 5 0 5 0 4 0 5 0 5 -1 4 0 5 0 5 -1 5 0 4 -1 5 0 5 -1 4 -1 5 -1 5 0 4 -1 5 -1 2 0 3 -1 4 0 5 -1 5 -1 4 -1 5 -1 2 0 3 0 5 -1 4 -1 5 -1 5 -1 4 -1 5 0 5 -1 4 -1 5 0 5 -1 4 0 5 -1 5 0 2 0 2 0 5 0 5 0 5 0 4 1 5 0 5 0 4 1 5 0 5 0 4 1 5 0 5 0 4 1 5 0 2 0 3 1 4 0 5 0 5 0 2 -1 3 -1 4 -2 3 -1 2 -1 5 -2 4 -1 1 -1 4 -2 4 -3 1 0 3 -4 1 -4 1 -1 1 -5 0 -4 -2 -3 -2 -2 -2 -2 -5 -2 -5 -1 -1 0 -3 0 -5 0 -5 0 -1 0 -3 0 -5 1 -2 -1 -3 0 -5 -3 -1 -1 -3 -4 -1 -1 -2 -5 1 -4 2 -3 3 -2 1 -1 5 -1 5 0 5 0 4 1 5 1 5 1 4 0 2 -1 3 -1 4 -4 1 0 4 -5 5 -4 3 -5 2 -1 2 -4 2 -4 1 0 3 -5 1 -2 1 -3 3 -4 1 -1 3 -4 1 -1 5 -3 2 -1 3 -1 5 -1 4 -1 5 -1 5 1 4 1 5 2 3 0 2 1 4 1 5 2 2 1 3 1 4 2 5 2 1 0 4 1 4 1 5 1 5 1 5 0 4 1 5 1 5 1 4 2 1 0 4 2 5 2 1 1 3 2 3 2 2 2 3 3 2 2 2 3 2 2 2 2 3 5 1 0 3 5 1 0 4 4 1 1 4 2 4 2 1 1 4 3 3 1 2 1 5 3 2 1 3 1 4 2 5 1 5 2 4 2 2 1 3 1 5 2 4 1 1 1 4 1 5 1 4 2 2 0 3 1 5 2 4 1 4 1 1 1 5 1 5 1 4 1 2 1 3 1 5 1 4 2 3 0 2 1 5 1 4 2 5 1 5 3 2 2 2 3 1 1 1 5 0 5 -1 5 -1 0 0 4 -1 5 -1 5 1 4 1 3 1 2 4 5 5 3 2 1 2 1 5 2 4 2 1 0 5 2 4 2 1 1 4 1 5 2 4 1 1 0 4 2 5 1 4 2 2 0 3 1 5 1 4 2 5 0 2 1 3 0 4 1 5 1 5 0 5 1 4 0 5 1 5 0zM797 347l-1 0 -4 -1 -5 -2 -3 -2 -1 -1 -5 -3 0 -1 -5 -3 0 -1 -4 -3 -2 -2 -3 -2 -4 -3 -1 0 -4 -3 -2 -1 -3 -1 -5 -1 -4 -1 -5 0 -5 0 -5 0 -4 -1 -5 0 -5 -1 -2 0 -2 -1 -5 -1 -4 -3 -1 0 -4 -4 0 -2 -2 -3 -2 -5 -1 -4 -1 -5 0 -5 0 -4 0 -5 1 -5 0 -1 1 -4 1 -4 1 -5 1 -5 1 -3 0 -1 1 -5 0 -5 1 -4 0 -5 -1 -5 -1 -3 -1 -1 -3 -5 -1 -1 -2 -4 -3 -4 -4 -5 -4 -5 -1 -1 -4 -4 -1 0 -4 -3 -3 -1 -2 -1 -5 -1 -5 -1 -4 -1 -2 -1 -3 0 -5 -1 -4 -1 -5 -1 -5 -1 -1 -1 -3 0 -5 -1 -5 -1 -4 -1 -5 0 -5 -1 -3 0 -1 0 -5 -1 -5 0 -5 -1 -4 0 -5 -1 -5 0 -4 -1 -5 -1 -1 0 -4 -1 -4 -1 -5 0 -5 -1 -4 -1 -4 -1 -1 0 -5 -1 -4 -1 -5 -2 -2 0 -3 -1 -5 -1 -4 -2 -5 -1 -1 0 -4 -2 -3 -3 -1 -1 -4 -3 -1 -2 -5 -3 -2 -5 2 -1 5 -1 5 -2 4 -2 5 -1 5 -1 2 -1 2 -1 5 -1 5 0 5 -1 4 -1 4 -1 1 0 5 -1 4 -1 5 0 5 -1 4 -1 5 0 5 0 0 -1 4 0 5 -1 5 0 4 0 5 -1 5 0 5 -1 4 0 5 0 5 0 4 0 5 0 5 0 4 0 5 0 5 0 4 0 5 0 5 0 4 0 5 1 5 0 5 0 4 0 5 1 5 0 4 1 1 0 4 1 5 2 4 2 1 0 4 2 5 3 4 2 4 3 1 0 4 4 1 1 3 4 1 1 3 4 2 2 1 2 3 5 1 1 2 4 3 4 2 5 2 4 1 1 2 4 2 4 1 1 2 5 2 3 0 1 2 5 2 4 1 1 2 5 1 4 1 1 1 4 2 5 2 1 2 3 2 3 2 2 3 4 1 1 3 4 1 2 2 3 2 3 1 2 4 4 4 5 1 0 3 5 1 1 3 3 2 3 1 2 4 5 3 5 2 2 1 2 2 5 1 2 1 3 2 4 1 5 1 4 0 1 0 4 0 5 0 1 -1 4 -1 4 -2 5 -1 3 -1 2 -3 4 0 2 -4 3 -1 1 -5 3 -4 1 -1 0 -4 0z"/>
<path fill="#0050ff" fill-rule="evenodd" d="M0 562l0 2 5 -1 4 0 4 -1 1 0 5 0 4 -1 5 -1 5 0 4 -1 5 -1 1 0 4 -1 5 -1 4 -1 5 -1 2 -1 3 -1 4 -2 5 -2 5 -3 1 -1 3 -5 3 -5 2 -4 0 -1 2 -4 3 -3 1 -2 3 -2 4 -2 1 -1 5 -2 4 -1 5 -1 1 0 4 -1 5 -1 4 0 5 -1 5 0 4 0 5 0 5 0 4 0 5 0 5 -1 4 0 5 0 5 0 4 0 5 0 5 0 5 0 4 0 5 0 5 0 4 0 5 0 5 0 4 0 5 0 5 0 4 0 5 -1 5 0 2 0 2 0 5 0 5 -1 5 0 4 -1 5 0 5 0 4 -1 5 0 5 0 4 -1 5 0 5 0 2 -1 2 0 5 0 5 0 4 -1 5 0 5 0 5 0 4 0 5 0 5 -1 4 0 5 0 5 0 4 -1 5 0 5 0 4 0 5 0 5 -1 4 0 3 0 2 -1 5 -1 4 0 5 -1 5 -1 5 -1 1 0 3 -1 5 -1 5 -2 1 -1 3 -2 5 -2 1 0 4 -4 1 -1 -1 -3 -2 -2 -3 -1 -5 -1 -4 -2 0 -1 -5 -2 -5 -1 -4 0 -5 -1 -5 0 -1 0 -4 -1 -4 -2 -1 -2 1 0 4 -1 5 -1 5 -2 5 -1 4 -1 5 -1 5 -2 1 0 3 -1 5 -1 5 -1 4 -2 1 0 4 -1 5 -1 4 -2 2 0 3 -1 5 -2 4 -1 5 0 4 -1 1 0 5 -1 4 -1 5 -1 5 -1 4 0 3 -1 2 0 5 -1 4 0 5 -1 5 -1 4 0 5 -1 5 -1 4 0 5 -1 5 -1 5 -1 3 -1 1 0 5 -2 5 -1 4 -1 1 -1 4 -2 2 -3 3 -2 2 -2 2 -2 3 -3 2 -4 0 -1 1 -4 0 -5 -1 -5 -1 -4 -3 -5 -1 -1 -3 -4 -1 -1 -3 -3 -2 -2 -3 -3 -2 -3 -1 -2 -3 -4 0 -2 -1 -3 -1 -5 -1 -5 1 -4 1 -5 1 0 4 -5 5 -4 5 -5 4 -5 4 -4 1 -2 2 -3 2 -5 0 -4 -1 -5 -2 -5 -1 -1 -2 -3 -3 -5 -2 -5 -2 -5 -2 -4 -3 -5 0 -1 -2 -4 -2 -4 -1 -3 0 -2 -2 -5 -2 -4 0 -3 -1 -2 -3 -5 -1 -2 -2 -2 -3 -2 -3 -3 -1 -1 -5 -3 -3 -1 -2 -1 -5 -1 -4 -1 -5 -1 -2 0 -3 -1 -4 0 -5 -1 -5 0 -4 0 -5 -1 -5 0 -4 0 -5 0 -5 0 -4 0 -5 -1 -5 0 -5 0 -4 -1 -5 0 -5 -1 -4 -1 -5 0 -5 -1 -4 -1 -5 -1 -1 0 -4 -1 -4 -1 -5 -1 -5 -1 -3 -1 -1 0 -5 -1 -5 -1 -5 -1 -3 -1 -1 0 -5 -2 -5 -1 -4 -2 -5 -2 -5 -1 -4 -2 -5 -2 -4 -2 -1 -1 -4 -3 -2 -1 -3 -2 -5 -3 -4 -4 -1 0 -4 -4 -1 -1 -4 -3 -1 -2 -3 -3 -2 -1 -2 -5 -1 -2 -1 -3 -2 -4 -1 -5 1 -5 2 -5 1 0 5 -4 4 -2 5 -1 5 -2 1 0 3 -1 5 -1 5 0 4 -1 5 0 5 -1 4 0 2 -1 3 0 5 -1 4 -1 5 -1 4 -1 1 -1 4 -1 5 -1 5 -2 1 0 4 -2 4 -2 2 -1 3 -1 5 -3 1 0 3 -2 4 -3 1 -1 5 -3 1 -1 3 -2 4 -2 1 -1 5 -3 2 -1 2 -1 5 -3 2 -1 3 -1 4 -2 4 -1 1 -1 5 -1 5 -1 4 -2 2 0 3 -1 5 -1 4 -1 5 -1 3 -1 2 0 4 -1 5 0 5 -1 4 -1 5 0 5 -1 4 0 2 -1 3 0 5 -1 5 0 4 0 5 -1 5 0 4 0 5 0 5 0 4 0 5 -1 5 0 4 0 5 0 5 0 4 0 5 -1 5 0 5 0 4 1 5 0 5 0 4 0 5 0 5 0 4 1 5 0 5 0 4 0 5 0 5 0 4 0 5 0 5 1 5 0 4 0 5 0 5 1 4 0 4 0 1 1 5 0 4 0 5 1 5 0 4 1 5 0 5 1 4 0 5 0 5 1 5 0 4 1 5 1 5 0 4 1 5 1 4 1 1 0 4 1 5 1 5 2 2 1 2 1 5 3 0 2 1 3 -1 1 -2 4 -3 2 -2 2 -2 2 -4 3 -1 0 -5 2 -4 2 -1 1 -4 1 -5 1 -4 2 -1 0 -4 2 -5 2 -3 1 -1 1 -5 1 -5 3 -5 2 -4 2 0 1 -5 3 -1 1 -4 4 0 1 -3 4 -1 2 -2 3 -1 5 -1 5 -1 3 0 1 0 5 0 5 0 2 0 2 1 5 1 5 1 4 1 5 1 1 1 4 1 4 2 5 0 2 1 3 2 4 2 5 0 1 2 4 1 5 2 3 0 1 1 5 1 5 2 4 0 1 2 4 3 5 0 1 2 3 3 5 3 5 2 3 1 1 3 5 0 1 3 4 2 3 1 1 3 5 1 1 2 4 2 3 1 2 3 4 1 1 2 4 2 5 1 2 1 2 1 5 1 5 1 4 1 5 0 5 1 4 0 5 0 5 1 4 0 5 1 5 1 5 0 1 1 3 1 5 2 5 1 2 1 2 2 5 1 2 2 3 2 4 1 1 3 4 2 2 2 3 2 2 3 2 2 2 3 3 2 2 4 3 5 4 1 0 4 3 3 2 2 1 4 3 1 1 4 3 3 1 2 1 4 3 2 1 3 3 2 2 3 2 3 3 1 0 5 4 5 3 3 2 1 0 5 2 5 2 1 1 3 1 5 1 5 2 1 0 4 1 4 2 5 1 3 1 2 0 4 2 5 1 5 1 4 1 5 1 5 1 4 0 5 1 4 1 1 1 4 1 5 2 5 1 5 2 4 1 4 2 1 0 5 3 2 1 2 3 2 2 2 5 -1 4 -1 5 -2 3 -1 2 -3 5 0 1 -2 3 -2 5 0 5 1 4 3 3 1 2 3 3 2 2 3 1 5 3 4 2 5 2 4 1 1 0 4 2 5 1 5 2 4 1 5 1 5 0 5 1 4 0 5 1 3 0 2 1 4 0 5 1 5 0 4 1 5 0 5 0 4 0 5 0 5 0 4 0 5 0 5 0 5 0 4 0 5 -1 5 0 4 0 5 0 5 0 4 0 5 -1 5 0 4 0 3 -1 2 0 5 0 4 0 5 -1 5 0 4 0 5 -1 5 0 5 0 4 0 5 0 5 0 4 -1 5 0 5 0 4 0 5 0 0 -1 0 -5 0 -5 0 -4 0 -5 0 -5 0 -4 0 -5 0 -5 0 -4 0 -5 0 -5 0 -5 0 -4 0 -5 0 -5 0 -4 0 -5 0 -5 0 -4 0 -5 0 -5 0 -4 0 -5 0 -5 0 -4 0 -5 0 -5 0 -5 0 -4 0 -5 0 -5 0 -4 0 -5 0 -5 0 -4 0 -5 0 -5 0 -4 0 -5 0 -5 0 -4 0 -5 0 -5 0 -4 0 -5 0 -5 0 -5 0 -4 0 -5 0 -5 0 -4 0 -5 0 -5 0 -4 0 -5 0 -5 0 -4 0 -5 0 -5 0 -4 0 -5 0 -5 0 -5 0 -4 0 -5 0 -5 0 -4 0 -5 0 -5 0 -4 0 -5 0 -5 0 -4 0 -5 0 -5 0 -4 0 -5 0 -5 0 -5 0 -4 0 -5 0 -5 0 -4 0 -5 0 -5 0 -4 0 -5 0 -5 0 -4 0 -5 0 -5 0 -4 0 -5 0 -5 0 -5 0 -4 0 -5 0 -5 0 -4 0 -5 0 -5 0 -4 0 -5 0 -5 0 -4 0 -5 0 -5 0 -4 0 -5 0 -5 0 -5 0 -4 0 -5 0 -5 0 -4 0 -5 0 -5 0 -4 0 -5 -5 0 -4 0 -5 0 -5 0 -4 0 -5 0 -5 0 -4 0 -5 0 -5 0 -5 0 -4 0 -5 0 -5 0 -4 0 -5 0 -5 0 -4 0 -5 0 -5 0 -4 0 -5 0 -5 0 -4 0 -5 0 -5 0 -4 0 -5 0 -5 0 -5 0 -4 0 -5 0 -5 0 -4 0 -5 0 -5 0 -4 0 -5 0 -5 0 -4 0 -5 0 -5 0 -4 0 -5 0 -5 0 -5 0 -4 0 -5 0 -5 0 -4 0 -5 0 -5 0 -4 0 -5 0 -5 0 -4 0 -5 0 -5 0 -4 0 -5 0 -5 0 -5 0 -4 0 -5 0 -5 0 -4 0 -5 0 -5 0 -4 0 -5 0 -5 0 -4 0 -5 0 -5 0 -4 0 -5 0 -5 0 -5 0 -4 0 -5 0 -5 0 -4 0 -5 0 -5 0 -4 0 -5 0 -5 0 -4 0 -5 0 -5 0 -4 0 -5 0 -5 0 -5 0 -4 0 -5 0 -5 0 -4 0 -5 0 -5 0 -4 0 -5 0 -5 0 -4 0 -5 0 -5 0 -4 0 -5 0 -5 0 -4 0 -5 0 -5 0 -5 0 -4 0 -5 0 -5 0 -4 0 -5 0 -5 0 -4 0 -5 0 -5 0 -4 0 -5 0 -5 0 -4 0 -5 0 -5 0 -5 0 -4 0 -5 0 -5 0 -4 0 -5 0 -5 0 -4 0 -5 0 -5 0 -4 0 -5 0 -5 0 -4 0 -5 0 -5 0 -5 0 -4 0 -5 0 -5 0 -4 0 -5 0 -5 0 -4 0 -5 0 -5 0 -4 0 -5 0 -5 0 -4 0 -5 0 -5 0 -5 0 -4 0 -5 0 -5 0 -4 0 -5 0 -5 0 -4 0 -5 0 -5 0 -4 0 -5 0 -5 0 -4 0 -5 0 -5 0 -5 0 -4 0 -5 0 -5 0 -4 0 -5 0 -5 0 -4 0 -5 0 -5 0 -4 0 -5 0 -5 0 -4 0 -5 0 -5 0 -5 0 -4 0 -5 0 -5 0 -4 0 -5 0 -5 0 -4 0 -5 0 -5 0 -4 0 -5 0 -5 0 -4 0 -5 0 -5 0 -4 0 -5 0 -5 0 -5 0 -4 0 -5 0 -5 0 -4 0 -5 0 -5 0 -4 0 -5 0 -5 0 -4 0 -5 0 -5 0 -4 0 -5 0 -5 0 -5 0 -4 0 -5 0 -5 0 -4 0 -5 0 -5 0 -4 0 -5 0 -5 0 -4 0 -5 0 -5 0 -4 0 -5 0 -5 0 -5 0 -4 0 -5 0 -5 0 -4 0 -5 0 -5 0 -4 0 -5 0 -5 0 -4 0 -5 0 -5 0 -4 0 -5 0 -5 0 -5 0 -4 0 -5 0 -5 0 -4 0 -5 0 -5 0 -4 0 -5 0 -5 0 -4 0 -5 0 -5 0 -4 0 -5 0 -5 0 -5 0 -4 0 -5 0 -5 0 -4 0 -5 0 -5 0 -4 0 -5 0 0 5 0 4 0 5 0 5 0 4 0 5 0 5 0 4 0 5 0 5 0 5 0 4 0 5 0 5 0 4 0 5 0 5 0 4 0 5 0 5 0 4 0 5 0 5 0 4 0 5 0 5 0 5 0 4 0 5 0 5 0 4 0 5 0 5 0 4 0 5 0 5 0 4 0 5 0 5 0 4 0 5 0 5 0 5 0 4 0 5 0 5 0 4 0 5 0 5 0 4 0 5 0 5 0 4 0 5 0 5 0 4 0 5 0 5 0 5 0 4 0 5 0 5 0 4 0 5 0 5 0 4 0 5 0 5 0 4 0 5 0 5 0 4 0 5 0 5 0 5 0 4 0 5 0 5 0 4 0 5 0 5 0 4 0 5 0 5 0 4 0 5 0 5 0 4 0 5 0 5 0 4 0 5 0 5 0 5 0 4 0 5 0 5 0 4 0 5 0 5 0 4 0 5 0 5 0 4 0 5 0 5 0 4 0 5 0 5 0 5 0 4 0 5 0 5 0 4 0 5 0 5 0 4 0 5 0 5 0 4z"/>
<path fill="#0080ff" fill-rule="evenodd" d="M1161 553l1 0 5 1 5 0 4 0 5 -1 5 0 4 0 5 0 2 0 3 0 5 0 4 0 5 0 5 -1 4 0 5 0 5 -1 4 0 5 0 5 -1 4 0 5 -1 5 0 4 0 5 -1 2 0 3 0 4 0 5 0 5 0 5 -1 4 0 5 0 5 0 4 0 5 -1 5 0 4 0 5 0 0 -2 0 -5 0 -5 0 -4 0 -5 0 -5 0 -4 0 -5 0 -5 0 -5 0 -4 0 -5 0 -5 0 -4 0 -5 0 -5 0 -4 0 -5 0 -5 0 -4 0 -5 0 -5 0 -4 0 -5 0 -5 0 -5 0 -4 0 -5 0 -5 0 -4 0 -5 0 -5 0 -4 0 -5 0 -5 0 -4 0 -5 0 -5 0 -4 0 -5 0 -5 0 -4 0 -5 0 -5 0 -5 0 -4 0 -5 0 -5 0 -4 0 -5 0 -5 0 -4 0 -5 0 -5 0 -4 0 -5 0 -5 0 -4 0 -5 0 -5 0 -5 0 -4 0 -5 0 -5 0 -4 0 -5 0 -5 0 -4 0 -5 0 -5 0 -4 0 -5 0 -5 0 -4 0 -5 0 -5 0 -5 0 -4 0 -5 0 -5 0 -4 0 -5 0 -5 0 -4 0 -5 0 -5 0 -4 0 -5 0 -5 0 -4 0 -5 0 -5 0 -5 0 -4 0 -5 0 -5 0 -4 0 -5 0 -5 0 -4 0 -5 0 -5 0 -4 0 -5 0 -5 0 -4 0 -5 0 -5 0 -5 0 -4 0 -5 0 -5 0 -4 0 -4 -5 1 -4 1 -5 1 -5 0 -3 1 -1 0 -5 0 -5 1 -4 0 -5 0 -5 0 -5 0 -4 1 -5 0 -5 0 -4 0 -5 0 -5 0 -4 0 -5 0 -5 0 -4 0 -5 0 -5 0 -4 0 -5 0 -5 0 -4 0 -5 0 -5 0 -5 0 -4 0 -5 0 -5 1 -4 0 -5 0 -5 0 -4 0 -5 0 -5 0 -4 1 -5 0 -5 0 -4 0 -5 0 -5 0 -2 0 -3 1 -4 0 -5 0 -5 0 -4 1 -5 0 -5 1 -4 1 -5 0 -5 1 -1 0 -3 1 -5 0 -5 2 -4 1 -3 1 -2 0 -5 2 -5 1 -4 1 0 1 -5 1 -5 1 -4 2 -2 0 -3 1 -5 2 -4 1 -4 1 -1 0 -5 3 -3 2 -1 1 -5 3 -1 0 -4 3 -3 2 -1 1 -5 3 -2 1 -3 2 -3 2 -2 1 -4 3 -1 1 -4 3 -3 2 -2 1 -4 3 -1 0 -4 2 -5 3 -4 2 -5 3 -5 2 -3 2 -1 1 -5 2 -3 2 -2 1 -4 2 -4 2 -1 0 -5 2 -4 2 -1 1 -4 2 -5 2 -5 2 -4 3 -1 0 -4 2 -4 3 -1 0 -4 3 -3 1 -2 2 -5 3 -4 4 -1 1 -4 4 -4 5 -1 1 -2 4 -2 4 0 2 -1 3 -2 5 -1 4 -1 5 0 5 0 4 0 5 0 5 1 5 0 4 0 5 1 5 2 4 1 2 1 3 3 5 3 4 2 4 1 1 3 5 1 1 2 3 2 4 1 1 2 5 2 4 2 5 1 5 1 5 1 0 1 4 1 5 1 5 1 4 0 2 1 3 1 5 1 4 2 5 0 2 1 3 1 4 2 5 1 2 1 3 2 4 1 4 1 1 3 5 1 3 1 2 2 4 2 3 1 2 3 5 0 1 3 3 2 4 1 1 4 5 5 4 4 4 2 1 3 2 3 3 2 1 4 3 0 1 5 3 2 1 3 2 4 2 1 1 4 2 4 2 1 1 4 2 4 2 1 0 5 2 4 2 2 1 3 1 5 2 2 1 3 2 4 3 2 0 3 2 5 2 4 1 5 4 1 1 4 4 4 2 5 2 5 1 4 1 5 1 5 1 4 1 2 1 3 1 5 1 5 2 2 0 2 1 5 2 5 1 2 1 2 1 5 1 5 2 1 1 3 1 5 2 3 1 2 1 4 2 4 2 1 0 5 3 2 2 2 3 1 1 1 5 -1 5 -1 1 -2 3 -2 5 -4 5 -1 1 -2 4 -3 4 -1 5 0 5 1 2 1 2 4 4 1 1 4 2 4 3 5 1 5 2 5 1 4 1 5 1 5 1 4 0 5 1 5 1 3 0zM0 548l0 3 5 -1 4 -1 5 0 2 -1 3 0 4 -1 5 -1 5 -2 2 0 2 -2 5 -2 1 -1 4 -4 1 -1 1 -4 0 -5 -1 -5 -1 -4 -1 -5 1 -4 0 -1 5 -4 0 -1 4 -1 5 -2 3 -1 2 0 4 -2 5 -1 5 -1 4 -1 5 -1 5 -1 4 0 5 -1 5 0 4 -1 5 0 4 -1 1 0 5 0 4 0 5 -1 5 0 4 0 5 -1 5 0 4 0 5 -1 5 -1 3 0 1 -1 5 -1 5 -2 2 -1 2 -2 3 -3 2 -4 0 -2 1 -3 3 -5 1 -1 4 -3 1 -1 4 -2 5 -1 3 -1 2 0 4 -1 5 0 5 0 4 0 5 0 5 1 2 0 2 0 5 1 5 1 4 1 5 1 3 1 2 0 5 1 4 1 5 0 5 0 4 0 5 0 5 -1 4 0 5 -1 2 0 3 -1 4 -2 5 -2 0 -5 1 -4 4 -4 3 -1 1 0 5 -1 5 0 5 0 4 0 5 0 5 0 4 0 5 0 5 0 4 -1 5 1 5 -2 2 -2 2 0 5 -2 5 -1 4 -1 1 -1 4 0 5 -1 4 -1 5 -1 5 0 5 -1 4 -1 5 0 5 -1 4 -1 5 -1 5 -1 1 0 3 0 5 -1 5 -1 4 -1 5 -1 5 0 1 -1 3 0 5 -1 5 -1 5 -1 4 -1 4 0 1 0 5 -1 4 -1 5 -1 5 -1 4 -1 2 0 3 -1 5 -2 4 -2 5 -3 2 -1 3 -3 1 -2 0 -5 -1 -4 -1 0 -3 -5 -1 -1 -3 -4 -2 -1 -2 -3 -2 -3 -2 -2 -3 -3 -1 -2 -4 -4 -3 -5 -1 -5 -1 -5 0 -4 0 -5 1 -1 2 -4 2 -4 3 -5 2 -3 2 -2 3 -4 4 -5 0 -1 3 -4 2 -4 2 -5 1 -5 0 -4 0 -5 -2 -5 -1 -3 0 -2 -3 -4 -2 -2 -4 -3 -5 -3 -2 -2 -3 -1 -4 -3 -2 0 -3 -2 -5 -1 -4 -1 -5 -1 -2 0 -3 0 -4 -1 -5 -1 -5 0 -5 -1 -4 -1 -5 0 -3 -1 -2 0 -4 0 -5 0 -5 0 -4 0 -5 0 -5 0 -4 0 -5 0 -4 0 -1 0 -4 1 -5 0 -5 -1 -4 0 -1 0 -4 0 -5 0 -2 0 -3 0 -4 0 -5 0 -5 -1 -4 -1 -5 -1 -5 -1 -2 0 -2 -1 -5 -2 -5 -2 -4 -2 -5 -2 -1 -1 -4 -3 -1 -1 -2 -5 -1 -5 0 -1 -1 -3 -1 -5 -1 -5 -1 -5 -1 -1 -1 -3 -3 -5 -1 -1 -3 -4 -2 -1 -3 -3 -1 -1 -5 -3 -1 -1 -4 -3 -2 -2 -2 -1 -5 -3 -5 -4 -2 -1 -2 -2 -3 -3 -2 -1 -4 -3 -1 -1 -4 -4 -1 0 -4 -3 -2 -2 -3 -2 -3 -2 -1 -1 -5 -4 -1 0 -4 -3 -3 -2 -2 -1 -4 -4 -5 -3 -1 -1 -4 -3 -1 -2 -3 -3 -2 -2 -3 -4 -2 -5 -1 -5 0 -4 1 -5 2 -4 1 -1 4 -3 3 -1 1 -1 5 -2 5 -1 4 -1 1 0 4 -1 5 -1 5 0 4 -1 5 0 5 -1 4 0 5 0 5 0 4 -1 1 0 4 0 5 0 4 0 5 -1 5 -1 4 -1 5 -1 2 0 3 -1 5 -2 4 -1 4 -1 1 0 5 -2 4 -1 4 -2 1 0 5 -2 4 -2 2 -1 3 -1 5 -2 4 -1 5 -2 5 -2 2 -1 2 -1 5 -2 5 -2 4 -1 5 -2 3 -1 2 -1 5 -2 4 -2 1 0 4 -1 5 -2 3 -2 1 0 5 -2 5 -2 2 0 2 -1 5 -2 5 -1 3 -1 -3 0 -5 0 -5 0 -4 0 -5 0 -5 0 -4 0 -5 0 -5 0 -4 0 -5 0 -5 0 -5 0 -4 0 -5 0 -5 0 -4 0 -5 0 -5 0 -4 0 -5 0 -5 0 -4 0 -5 0 -5 0 -4 0 -5 0 -5 0 -4 0 -5 0 -5 0 -5 0 -4 0 -5 0 -5 0 -4 0 -5 0 -5 0 -4 0 -5 0 -5 0 -4 0 -5 0 -5 0 -4 0 -5 0 -5 0 -5 0 -4 0 -5 0 -5 0 -4 0 -5 0 -5 0 -4 0 -5 0 -5 0 -4 0 -5 0 -5 0 -4 0 -5 0 -5 0 -5 0 -4 0 -5 0 -5 0 -4 0 -5 0 -5 0 -4 0 -5 0 -5 0 -4 0 -5 0 -5 0 -4 0 -5 0 -5 0 -5 0 -4 0 -5 0 -5 0 -4 0 -5 0 -5 0 -4 0 -5 0 -5 0 -4 0 -5 0 -5 0 -4 0 -5 0 -5 0 -5 0 -4 0 -5 0 -5 0 -4 0 -3 0 -2 2 -3 3 -2 1 -4 3 0 1 -5 2 0 2 0 5 0 4 0 5 0 5 0 4 0 5 0 5 0 5 0 4 0 5 0 5 0 4 0 5 0 5 0 4 0 5 0 5 0 4 0 5 0 5 0 4 0 5 0 5 0 5 0 4 0 5 0 5 0 4 0 5 0 5 0 4 0 5 0 5 0 4 0 5 0 5 0 4 0 5 0 5 0 5 0 4 0 5 0 5 0 4 0 5 0 5 0 4 0 5 0 5 0 4 0 5 0 5 0 4 0 5 0 5 0 5 0 4 0 5 0 5 0 4 0 5 0 5 0 4 0 5 0 5 0 4 0 5 0 5 0 4 0 5 0 5 0 5 0 4 0 5 0 5 0 4 0 5 0 5 0 4 0 5 0 5 0 4 0 5 0 5 0 4 0 5 0 5 0 4 0 5 0 5 0 5 0 4 0 5 0 5 0 4 0 5 0 5 0 4 0 5 0 5 0 4 0 5 0 5 0 4 0 5 0 5 0 5 0 4 0 5 0 5 0 4 0 5 0 5 0 4z"/>
<path fill="#00acff" fill-rule="evenodd" d="M1162 539l5 1 5 0 4 0 5 -1 5 0 1 0 3 0 5 -1 5 0 5 -1 4 0 5 -1 5 -1 1 -1 3 -1 5 -1 5 -1 4 -1 0 -1 5 -3 3 -1 2 -3 1 -2 -1 -4 0 -1 -4 -4 -1 -1 -5 -2 -4 -2 -1 0 -4 -1 -5 -1 -4 -1 -5 -1 -5 0 -4 0 -5 0 -5 0 -5 0 -4 0 -5 0 -5 1 -4 1 -5 1 -5 1 -4 1 -5 2 -5 2 -4 4 -1 1 -4 4 0 1 -1 4 1 1 2 4 3 2 3 2 1 1 5 1 5 2 4 1zM1306 483l2 0 4 0 5 0 5 0 4 1 5 0 0 -1 0 -5 0 -5 0 -4 0 -5 0 -5 0 -4 0 -5 0 -5 0 -4 0 -5 0 -5 0 -5 0 -4 0 -5 0 -5 0 -4 0 -5 0 -5 0 -4 0 -5 0 -5 0 -4 0 -5 0 -5 0 -4 0 -5 0 -5 0 -4 0 -5 0 -5 0 -5 0 -4 0 -5 0 -5 0 -4 0 -5 0 -5 0 -4 0 -5 0 -5 0 -4 0 -5 0 -5 0 -4 0 -5 0 -5 0 -5 0 -4 0 -5 0 -5 0 -4 0 -5 0 -5 0 -4 0 -5 0 -5 0 -4 0 -5 0 -5 0 -4 0 -5 0 -5 0 -5 0 -4 0 -5 0 -5 0 -4 0 -5 0 -5 0 -4 0 -5 0 -5 0 -4 0 -5 0 -5 0 -4 0 -5 0 -1 -5 0 -4 1 -5 1 -5 0 -4 0 -5 0 -5 -1 -4 0 -1 0 -4 -1 -5 0 -5 -2 -4 -1 -3 -1 -2 0 -5 -2 -4 -1 -4 -2 -1 0 -5 -3 -3 -1 -1 -1 -5 -3 -1 -1 -4 -4 0 -1 -2 -4 2 -5 0 -1 3 -4 2 -1 2 -3 2 -5 -4 -5 -5 -2 -4 -2 -2 0 -3 -1 -5 -1 -4 0 -5 0 -5 0 -4 -1 -5 0 -5 0 -5 0 -4 -1 -5 0 -5 0 -4 1 -5 0 -5 0 -4 0 -5 0 -5 1 -4 0 -5 0 -5 0 -4 0 -5 1 -2 1 -3 1 -4 3 -1 0 -3 5 -1 4 0 1 -1 4 -1 5 -3 5 -5 3 -1 1 -3 2 -5 1 -5 2 -1 0 -3 1 -5 1 -5 2 -4 1 -5 1 -5 1 -4 2 -3 0 -2 1 -5 1 -5 2 -4 1 -1 0 -4 1 -5 1 -4 1 -5 2 -1 0 -4 1 -4 1 -5 1 -5 -1 -4 -2 -1 0 -3 -5 -1 -4 -5 0 -4 1 -5 2 -3 1 -2 1 -5 2 -4 2 -5 2 -5 2 0 1 -4 2 -5 2 -1 0 -4 2 -4 2 -2 1 -3 2 -5 2 0 1 -4 3 -3 1 -2 2 -3 3 -2 1 -4 4 -5 4 -1 0 -4 4 -1 1 -4 5 -4 4 0 1 -4 4 -1 2 -1 3 -3 4 -1 3 -1 2 -1 5 -1 5 -1 4 0 3 -1 2 0 5 1 4 1 5 0 5 1 4 1 5 0 5 0 4 1 5 0 5 0 4 0 5 0 1 1 4 1 5 0 4 1 5 1 5 1 4 2 5 2 5 1 1 1 3 2 5 1 3 2 2 2 4 1 3 1 2 3 5 1 2 1 2 3 5 1 1 2 4 2 4 1 1 3 4 1 2 3 3 2 2 2 3 2 2 3 2 2 2 3 3 2 2 3 3 1 1 5 3 5 4 1 1 3 2 4 3 1 0 5 4 1 0 3 3 5 2 5 2 5 3 4 2 5 2 5 3 4 2 1 0 4 2 5 2 2 1 2 1 5 2 4 1 1 1 4 2 5 1 2 1 3 1 4 2 5 2 1 0 4 1 5 1 4 0 5 1 5 1 1 1 3 0 5 2 5 1 4 1 2 0 3 1 5 1 4 1 5 1 5 1 4 1 5 1 5 1 5 1 4 1 5 1 5 1 4 1 5 0 5 1 4 1 5 1 5 1 4 1 4 1 1 0 5 1 4 1 5 1 5 1 4 1 1 0 4 1 5 1 5 0 4 1 5 1 5 0 1 0 3 1 5 1 5 1 4 0 5 1 5 0 4 1 1 0 4 1 5 0 4 1 5 1 5 1 5 0 4 0 5 1 3 0zM0 478l0 2 5 -1 4 0 5 0 5 -1 2 0 2 0 5 0 5 -1 4 0 5 0 5 0 5 -1 4 -1 5 0 5 -1 2 -1 2 0 5 -1 5 -1 4 -1 5 -1 5 0 4 -1 5 -2 5 -1 3 -1 1 -1 5 -2 5 -1 3 -1 2 0 4 -1 5 -2 2 -1 3 -1 4 -2 5 -1 3 -1 2 0 4 -2 5 -3 5 -1 4 -2 3 -1 2 -1 5 -2 4 -2 1 0 4 -2 5 -1 5 -1 4 -1 5 0 5 0 4 0 5 0 5 -1 4 0 5 0 5 0 4 0 5 0 5 0 4 0 5 0 5 1 5 0 4 0 5 -1 5 0 4 0 5 0 5 -1 4 -1 5 -2 5 0 4 -1 5 -1 5 0 4 -1 5 0 5 -1 3 0 2 0 4 -1 5 0 5 -1 4 -1 5 0 5 -1 4 -1 5 -1 5 -1 4 -1 5 -1 3 -1 2 0 4 -1 5 -1 5 -1 4 -1 0 -1 5 -1 5 -2 4 -1 1 0 4 -1 5 0 5 -1 4 -1 5 -1 1 -1 4 -1 4 -1 5 -2 1 0 4 -3 3 -2 1 -2 3 -3 2 -4 1 -5 -1 -5 0 -1 -1 -3 -2 -5 -2 -3 0 -2 -2 -4 -2 -5 0 -4 0 -1 0 -1 0 -4 1 -4 3 -5 4 -5 1 0 4 -4 1 -1 4 -4 5 -4 1 -1 4 -3 1 -1 4 -3 1 -2 3 -3 2 -2 3 -3 1 -1 2 -5 0 -5 -2 -4 -1 -2 -4 -3 -1 -1 -4 -2 -4 -2 -1 0 -5 -2 -5 -1 -4 -1 -3 -1 -2 0 -5 0 -4 -1 -5 0 -5 0 -4 0 -5 0 -5 0 -4 0 -5 0 -5 1 -4 0 0 1 -4 -1 -1 0 -5 0 -5 0 -4 -1 -5 0 -5 -1 -4 0 -5 0 -5 -1 -4 0 -5 -1 -4 0 -1 0 -4 -1 -5 -1 -5 -2 -4 -1 -3 0 -2 0 -5 -1 -4 -1 -5 -1 -5 -1 -2 -1 -3 -2 -2 -2 -2 -1 -5 -3 -1 -1 -4 -3 -1 -2 -3 -3 -1 -1 -3 -5 -1 -3 -1 -2 0 -4 0 -5 -1 -5 -2 -4 -1 -3 -1 -2 -3 -5 -1 0 -4 -4 -1 -1 -4 -3 -2 -1 -2 -2 -4 -3 -1 -1 -5 -3 -1 -1 -3 -2 -3 -2 -2 -1 -5 -4 -5 -3 -2 -2 -2 -1 -5 -2 -2 -1 -3 -2 -4 -2 -2 -1 -3 -1 -5 -3 -2 -1 -2 -1 -5 -1 -5 -2 -4 -2 -5 -1 -5 -2 -4 0 -5 1 -5 0 -5 4 0 4 -1 5 -1 5 -2 4 -5 5 -5 2 -4 2 -2 1 -3 1 -5 0 -4 1 -5 0 -5 -1 -4 0 -5 -1 -1 0 -4 -1 -4 -1 -5 0 -5 -1 -5 -2 -4 -1 -5 -2 -5 -1 0 -1 -4 -1 -5 -2 -5 -1 -4 -2 -5 -2 -4 -1 -1 0 -4 -2 -5 -1 -5 -1 -1 -1 -3 -1 -5 -1 -5 -1 -5 -1 -2 0 -2 -1 -5 -1 -5 -1 -4 -1 -5 0 -3 -1 -2 0 -4 -1 -5 -1 0 2 0 5 0 4 0 5 0 5 0 4 0 5 0 5 0 4 0 5 0 5 0 4 0 5 0 5 0 5 0 4 0 5 0 5 0 4 0 5 0 5 0 4 0 5 0 5 0 4 0 5 0 5 0 4 0 5 0 5 0 5 0 4 0 5 0 5 0 4 0 5 0 5 0 4 0 5 0 5 0 4 0 5 0 5 0 4 0 5 0 5 0 5 0 4 0 5 0 5 0 4 0 5 0 5 0 4 0 5 0 5 0 4 0 5 0 5 0 4 0 5 0 5 0 4 0 5 0 5 0 5 0 4 0 5 0 5 0 4 0 5 0 5 0 4 0 5zM127 112l4 1 5 1 5 0 4 0 5 -1 1 -1 4 -1 4 -2 2 -1 2 -5 1 -5 -1 -4 -1 -5 -2 -5 -1 -1 -2 -3 -2 -4 -1 -1 -4 -4 -1 -1 -4 -3 -2 -1 -2 -2 -5 -2 -2 -1 -3 -1 -4 -1 -5 -1 -5 -1 -3 -1 -2 0 -4 -1 -5 -1 -5 0 -4 0 -5 0 -5 0 -4 -1 -5 0 -5 0 -4 0 -5 1 -5 0 -4 0 -5 0 -5 1 -5 0 -4 0 -5 1 -2 0 -3 1 -4 3 -3 1 -2 3 -1 2 1 0 4 4 1 1 4 4 1 0 4 3 3 2 2 1 4 3 2 0 3 2 5 3 5 2 4 2 2 1 3 0 5 2 4 1 5 1 0 1 5 1 4 1 5 2 2 0 3 1 4 1 5 2 4 1 1 0 4 1 5 1 5 1 5 1z"/>
<path fill="#00dcfe" fill-rule="evenodd" d="M1294 459l4 1 5 0 5 0 4 0 5 0 5 0 4 0 5 0 0 -1 0 -4 0 -5 0 -5 0 -2 -5 1 -4 0 -5 -1 -5 -2 -1 0 -2 -5 3 -3 3 -2 2 0 5 -1 4 0 5 0 0 -4 0 -4 0 -5 0 -5 0 -4 0 -5 0 -5 0 -4 0 -5 0 -5 0 -4 0 -5 0 -5 0 -4 0 -5 0 -5 0 -4 0 -5 0 -5 0 -5 0 -4 0 -5 0 -5 0 -4 0 -5 0 -5 0 -4 0 -5 0 -5 0 -4 0 -5 0 -5 0 -4 0 -5 0 -5 0 -5 0 -4 0 -5 0 -5 0 -4 0 -5 0 -5 0 -4 0 -5 0 -5 0 -4 0 -5 0 -5 0 -4 0 -5 0 -5 0 -5 0 -4 0 -5 0 -5 0 -4 0 -5 0 -5 0 -4 0 -5 0 -5 0 -2 -5 -1 -4 -1 -5 0 -5 0 -4 -1 -5 -1 -5 0 -4 -1 -5 -1 -5 -1 -1 0 -4 -1 -4 -1 -5 -1 -5 -1 -4 0 -5 -1 -3 0 -2 0 -4 0 -5 0 -5 -1 -4 0 -5 -1 -5 0 -4 0 -5 0 -5 0 -4 0 -5 -1 -5 0 -5 0 -4 0 -5 0 -5 0 -4 -1 -5 0 -5 0 -4 0 -5 0 -5 1 -4 0 -5 0 -5 0 -4 0 -5 1 -5 0 -5 0 -4 0 -5 1 -5 0 -4 1 -1 0 -4 1 -5 1 -4 1 -5 1 -5 1 -1 0 -3 1 -5 1 -5 1 -4 1 -4 1 -1 0 -5 1 -5 1 -4 2 -2 0 -3 1 -5 1 -4 2 -5 1 -5 1 -4 1 -5 0 -5 0 -4 1 -5 1 -1 1 -4 1 -4 2 -4 1 -1 1 -5 2 -5 2 -4 3 -3 2 -2 1 -4 3 -1 1 -4 4 -1 0 -4 4 -1 1 -4 3 -1 1 -3 5 -3 5 -2 3 -1 2 -1 4 -1 5 0 5 -1 4 -1 5 -1 5 -1 4 -2 5 -1 0 -2 5 -2 3 -1 1 -2 5 -2 4 0 1 -2 4 -1 5 -1 5 0 3 -1 2 0 4 1 1 0 4 1 5 1 4 1 5 1 2 1 3 3 4 1 3 1 2 2 5 2 2 1 2 3 5 0 1 3 4 2 3 1 1 3 5 1 0 3 5 1 1 4 4 1 1 3 3 2 2 3 3 1 1 4 4 1 0 5 4 4 4 2 1 3 2 4 3 1 1 5 3 1 0 3 2 5 3 5 3 4 2 5 2 5 2 4 2 5 2 3 1 2 1 4 1 5 2 1 1 4 1 4 2 4 1 1 1 5 2 5 2 1 0 3 1 5 2 4 2 1 0 4 2 5 2 1 0 4 2 4 2 2 1 3 1 5 2 4 2 5 1 5 0 4 0 5 0 5 1 5 1 4 0 5 1 3 1 2 0 4 0 5 1 5 1 4 0 5 1 5 0 4 1 5 0 2 0 3 1 4 0 5 0 5 1 5 0 4 1 5 0 5 1 4 1 3 0 2 0 5 1 4 0 5 1 5 0 4 1 5 0 5 1 2 1 2 0 5 0 5 1 4 1 5 1 5 0 5 1zM0 455l0 2 5 -1 4 0 5 0 5 -1 4 0 5 -1 5 -1 4 -1 5 -1 5 -1 1 0 4 -1 4 -1 5 -2 3 -1 2 0 4 -2 5 -2 1 0 4 -2 4 -2 5 -1 2 0 3 -1 4 -1 5 -1 5 -1 4 -1 5 0 5 0 5 0 4 0 5 0 5 0 4 -1 5 0 5 -1 4 0 5 -1 5 0 4 0 5 -1 4 -1 1 0 4 0 5 -1 5 -1 5 -1 4 0 5 0 5 0 4 0 5 0 5 -1 4 0 5 0 5 0 4 0 1 0 4 0 5 -1 4 0 5 0 5 -1 5 0 4 -1 5 0 5 -1 4 -1 3 0 2 0 5 -1 4 0 5 -1 5 0 4 -1 5 -1 5 0 3 -1 1 0 5 0 5 -1 5 -1 4 0 5 -1 5 -1 3 0 1 0 5 -1 5 -1 4 -1 5 -1 5 0 4 -1 2 0 3 0 5 -1 4 -1 5 -1 3 -2 2 -1 4 -2 5 -1 1 0 4 -3 3 -2 2 -4 0 -1 1 -4 1 -5 0 -5 -1 -4 -1 -4 -1 -1 -1 -5 -1 -4 -1 -5 0 -5 0 -5 1 -4 1 -5 2 -3 0 -2 3 -4 1 -1 4 -4 1 -1 4 -4 1 -1 3 -3 1 -1 4 -4 1 -2 3 -3 2 -3 1 -1 -1 -4 -1 -1 -4 -3 -5 -2 -4 0 -5 -1 -5 -1 -4 0 -5 -1 -5 0 -5 0 -4 -1 -5 0 -2 0 -3 -1 -4 0 -5 0 -5 -1 -4 0 -5 -1 -5 0 -4 -1 -5 -1 -2 0 -3 -1 -4 0 -5 -1 -5 -2 -4 -1 -5 -1 -5 -2 -5 -1 -1 -1 -3 -1 -5 -2 -2 -1 -3 -2 -4 -2 -1 -1 -4 -2 -4 -3 -1 0 -4 -4 -1 0 -4 -3 -2 -2 -3 -3 -2 -2 -2 -3 -2 -1 -3 -5 -4 -5 -1 -1 -4 -3 -1 0 -4 -3 -2 -2 -3 -2 -5 -2 -1 -1 -3 -2 -5 -2 -2 0 -3 -2 -4 -1 -5 0 -5 -1 -4 0 -5 0 -5 0 -4 0 -5 0 -5 0 -4 0 -5 -1 -5 0 -5 0 -4 0 -5 1 -5 0 -4 -1 -5 0 -5 0 -4 0 -5 -1 -5 0 -4 -1 -5 -2 -4 -1 -1 0 -4 -1 -5 -1 -5 -1 -5 -1 0 -1 -4 -1 -5 -1 -5 -1 -2 -1 -2 -1 -5 -1 -5 -2 -2 -1 -2 -1 -5 -1 -5 -2 -2 -1 -2 -1 -5 -1 -5 -2 -1 0 -3 -1 -5 -2 -5 -2 -5 -1 -4 -2 -5 -2 -5 -1 -4 -2 -4 -1 -1 -1 -5 -1 -4 -2 -5 -1 0 5 0 4 0 5 0 5 0 4 0 5 0 5 0 4 0 5 0 5 0 5 0 4 0 5 0 5 0 4 0 5 0 5 0 4 0 5 0 5 0 4 0 5 0 5 0 4 0 5 0 5 0 5 0 4 0 5 0 5 0 4 0 5 0 5 0 4 0 5 0 5 0 4 0 5 0 5 0 4 0 5 0 5 0 5 0 4 0 5 0 5 0 4 0 5 0 5 0 4 0 5 0 5 0 4 0 5 0 5 0 4 0 5 0 5 0 4 0 5 0 5 0 5 0 4 0 5 0 5z"/>
<path fill="#1cffdb" fill-rule="evenodd" d="M104 417l4 0 4 1 5 0 5 0 5 1 4 0 5 0 5 0 4 0 5 0 5 0 4 0 5 0 5 0 4 -1 5 0 5 0 4 -1 5 -1 5 -1 5 0 4 0 5 -1 5 0 4 0 5 0 5 0 4 0 5 0 5 -1 4 0 5 0 5 0 4 0 3 -1 2 0 5 0 5 -1 4 -1 5 -1 3 -1 2 -1 4 -3 2 -1 3 -4 0 -1 0 -4 0 -1 -1 -4 -2 -5 -2 -2 -1 -2 -3 -5 -3 -5 -2 -3 -1 -1 -1 -5 0 -5 2 -4 4 -5 1 -1 4 -3 2 -1 3 -1 5 -1 4 -1 5 0 5 -1 4 1 5 1 5 0 4 1 5 0 5 1 2 0 3 1 4 0 5 0 5 -1 4 -1 5 -1 5 -1 3 -2 1 0 5 -3 2 -1 3 -3 1 -2 3 -5 2 -4 2 -5 0 -5 -1 -4 -3 -4 0 -1 -4 -3 -2 -2 -3 -1 -5 -2 -3 -1 -1 -1 -5 -2 -5 -2 -1 0 -3 -1 -5 -2 -5 -2 -4 -1 -5 -1 -5 -2 -1 0 -4 -2 -4 -3 -5 -2 -4 -3 -1 0 -4 -2 -4 -3 -1 0 -5 -3 -1 -1 -3 -2 -4 -3 -1 -1 -5 -3 0 -1 -4 -3 -2 -1 -3 -2 -3 -3 -2 -2 -3 -3 -1 -1 -3 -3 -2 -2 -3 -3 -2 -2 -3 -3 -2 -1 -4 -2 -5 -1 -1 0 -4 -1 -4 -2 -5 -1 -3 -1 -2 -1 -4 -1 -5 0 -5 0 -4 0 -5 1 -5 1 -4 1 -5 1 -5 2 -1 1 -4 0 -4 1 -5 0 -5 0 -4 -1 -2 0 -3 -1 -5 -1 -4 -1 -5 -1 -5 -1 -4 -1 -5 -1 -5 -1 -4 0 -5 -1 -4 -1 -1 0 -5 -1 -4 -1 -5 -1 -5 0 -4 1 -5 1 -5 -2 -2 -1 -2 -2 -3 -3 -2 -1 -5 -2 -3 -2 -1 0 -5 -2 -5 -2 0 -1 -4 -1 -5 -2 -3 -1 -2 -1 -5 -2 -4 -2 -1 0 -4 -2 -5 -1 -2 -2 -2 0 -5 -2 -5 -2 -4 -2 -5 -2 0 4 0 4 0 5 0 5 0 4 0 5 0 5 0 5 0 4 0 5 0 5 0 4 0 5 0 5 0 4 0 5 0 5 0 4 0 5 0 5 0 4 0 5 0 5 0 5 0 4 0 5 0 5 0 4 0 5 0 5 0 4 0 5 0 5 0 4 0 5 0 5 0 4 0 5 0 5 0 5 0 4 0 5 0 5 0 4 0 5 0 5 0 4 0 5 0 5 0 4 0 5 0 5 0 2 5 0 4 1 5 0 5 1 4 0 5 0 3 0 2 1 4 0 5 0 5 1 5 0 4 0 5 1 5 0 4 0 5 0 5 1 4 0 5 0 5 0 4 1 5 0 1 0zM1143 417l1 0 4 0 5 1 5 0 4 0 5 1 5 0 4 0 5 0 5 0 4 0 5 0 5 0 5 0 4 0 5 0 5 -1 4 0 5 0 5 0 4 0 5 0 5 -1 2 0 2 0 5 0 5 0 4 -1 5 0 5 0 4 0 5 -1 5 0 5 0 4 0 5 -1 5 0 4 0 5 0 5 -1 4 0 5 0 0 -1 0 -4 0 -5 0 -5 0 -4 0 -5 0 -5 0 -4 0 -5 0 -5 0 -4 0 -5 0 -5 0 -4 0 -5 0 -5 0 -5 0 -4 0 -5 0 -5 0 -4 0 -5 0 -5 0 -4 0 -5 0 -5 0 -4 0 -5 0 -5 0 -4 0 -5 0 -5 0 -5 0 -4 0 -5 0 -5 0 -4 0 -5 0 -5 0 -4 0 -5 0 -5 0 -4 0 -5 0 -5 0 -4 0 -5 0 -5 0 -5 0 -4 0 -5 0 -5 0 -4 0 -5 0 -4 -4 -1 -1 0 -4 0 -5 -1 -5 0 -4 -2 -5 -1 -1 0 -4 -1 -4 -1 -5 -1 -5 -1 -5 0 -4 0 -5 0 -5 -1 -4 0 -5 0 -5 0 -4 0 -5 0 -5 -1 -4 0 -5 0 -5 -1 -4 0 -5 0 -5 0 -4 0 -5 0 -5 0 -5 0 -4 0 -5 0 -5 1 -4 0 -5 -1 -5 0 -4 0 -5 0 -5 1 -4 0 -5 0 -5 1 -4 0 -5 0 -5 1 -5 0 -4 1 -5 1 -5 1 -3 1 -1 0 -5 1 -5 1 -4 1 -3 1 -2 1 -4 4 -1 0 -2 5 -1 4 0 5 -1 5 0 1 -1 3 -3 5 -1 2 -4 3 -1 1 -4 1 -5 1 -5 0 -5 0 -4 -1 -5 0 -5 -1 -4 0 -5 -1 -5 -1 -4 -1 -5 0 -5 0 -3 2 -1 0 -5 4 -1 1 -4 3 -1 1 -3 5 -1 0 -3 5 -1 2 -1 2 -3 5 -1 1 -2 4 -3 4 -3 5 -1 1 -3 4 -2 2 -2 2 -3 2 -2 3 -2 2 -3 3 -2 2 -2 2 -3 5 -2 5 -2 4 -1 1 -1 4 -1 5 0 5 1 4 0 5 2 4 0 1 1 4 3 5 0 1 2 4 3 4 0 1 3 4 2 2 2 3 2 2 2 2 3 4 2 1 3 3 2 2 2 2 4 3 1 1 5 3 5 4 1 1 3 2 5 3 5 2 3 2 1 1 5 2 5 2 4 2 5 2 3 1 2 1 4 1 5 2 5 2 4 2 4 1 1 0 5 2 5 2 3 1 1 0 5 2 5 1 3 1 1 1 5 2 5 1 2 1 2 1 5 2 4 2 1 0 4 2 5 1 5 1 4 2 5 1 5 0 5 1 4 1 5 0 4 0z"/>
<path fill="#43ffb4" fill-rule="evenodd" d="M108 408l4 0 5 1 5 0 5 0 4 1 5 0 5 0 4 0 5 0 5 0 4 0 5 0 5 0 4 0 5 0 5 -1 4 -1 1 0 4 -2 5 -1 5 -2 2 0 2 0 5 -1 5 0 4 0 5 -1 5 0 4 -1 5 -1 3 -1 2 0 4 -1 5 -1 5 -2 1 0 3 -4 1 -1 1 -5 0 -4 -1 -5 -1 -2 0 -3 0 -4 0 -5 0 -3 1 -2 1 -4 2 -5 1 -1 3 -4 2 -2 2 -3 3 -2 2 -2 2 -2 5 -2 2 -1 3 -1 4 -2 5 -1 3 -1 2 0 4 -1 5 0 5 0 4 0 5 0 5 -1 4 0 5 -1 5 0 5 -1 4 0 5 -3 3 -2 2 -3 0 -2 0 -3 -1 -1 -4 -4 -1 -1 -4 -2 -4 -2 -2 -1 -3 -1 -5 -2 -3 -1 -2 -1 -4 -1 -5 -2 -2 -1 -3 -1 -4 -3 -3 -1 -2 -1 -5 -2 -2 -1 -2 -1 -5 -3 -2 -1 -3 -2 -4 -2 -1 -1 -4 -2 -3 -3 -2 -1 -4 -3 -5 -4 -1 -1 -4 -3 -2 -2 -3 -2 -3 -2 -1 -1 -5 -4 -5 -3 -2 -2 -2 -2 -4 -2 -1 -1 -5 -3 -1 -1 -3 -2 -5 -3 -5 0 -4 0 -5 2 -5 1 -4 1 -5 0 -5 1 -5 0 -4 0 -5 -1 -5 -1 -4 -1 -5 -1 -3 -1 -2 0 -4 -1 -5 -1 -5 -1 -3 -1 -1 -1 -5 0 -5 -1 -4 1 -5 0 -5 0 -5 -1 -4 0 -5 0 -3 2 -2 0 -4 0 -5 0 -4 0 -1 0 -4 -2 -5 -3 -1 0 -4 -2 -4 -1 -5 -1 -4 -1 -1 0 -4 -2 -5 -2 -1 0 -4 -2 -5 -3 -1 0 -3 -2 -5 -2 -2 -1 -3 -1 -4 -2 -4 -2 -1 0 -5 -2 -4 -2 -1 0 -4 -2 0 2 0 4 0 5 0 5 0 5 0 4 0 5 0 5 0 4 0 5 0 5 0 4 0 5 0 5 0 4 0 5 0 5 0 4 0 5 0 5 0 5 0 4 0 5 0 5 0 4 0 5 0 5 0 4 0 5 0 5 0 4 0 5 0 5 0 4 0 5 0 5 0 5 0 4 0 5 0 5 0 4 0 5 0 5 0 4 0 5 0 5 0 4 0 1 5 0 4 0 5 1 5 0 4 0 5 1 5 0 4 0 5 1 5 0 5 0 4 1 2 0 3 0 5 1 4 0 5 1 5 0 4 1 5 0 5 0 4 1 5 0 5 1zM1178 403l3 0 5 1 4 0 5 0 5 1 5 0 4 0 5 1 5 0 4 0 5 0 5 0 4 0 5 0 5 0 4 0 5 0 5 0 4 0 5 0 5 0 4 0 5 0 5 0 5 0 4 0 5 0 5 0 4 0 5 0 5 0 4 0 5 0 0 -3 0 -5 0 -4 0 -5 0 -5 0 -4 0 -5 0 -5 0 -4 0 -5 0 -5 0 -4 0 -5 0 -5 0 -5 0 -4 0 -5 0 -5 0 -4 0 -5 0 -5 0 -4 0 -5 0 -5 0 -4 0 -5 0 -5 0 -4 0 -5 0 -5 0 -5 0 -4 0 -5 0 -5 0 -4 0 -5 0 -5 0 -4 0 -5 0 -5 0 -4 0 -5 0 -5 0 -4 0 -5 0 -5 0 -5 0 -4 0 -5 0 -4 0 -1 -5 -1 -4 -1 -5 -1 -5 0 -4 -1 -5 0 -5 0 -4 0 -5 0 -4 0 -1 0 -5 0 -4 -1 -5 0 -5 -1 -4 -1 -5 0 -5 -1 -4 0 -5 -1 -5 0 -4 0 -5 0 -5 0 -4 0 -5 1 -5 1 -4 1 -5 1 -5 0 -5 0 -4 1 -2 0 -3 0 -5 0 -4 2 -4 2 -1 1 -5 3 -2 1 -2 1 -5 3 -3 1 -2 1 -4 3 -1 0 -4 3 -2 2 -3 1 -4 4 -5 4 -1 1 -4 4 -4 5 -1 1 -4 1 -2 -2 -3 -4 -1 -1 -3 -4 -1 -1 -4 -3 -3 -1 -2 -1 -5 0 -2 1 -2 0 -5 3 -3 2 -2 1 -4 2 -2 1 -3 2 -5 2 -4 1 -5 2 -5 1 -5 2 -4 1 -5 2 -2 1 -3 2 -4 3 -5 4 -2 1 -3 2 -3 2 -1 1 -5 3 -1 1 -4 3 -3 2 -1 1 -5 3 -1 0 -4 3 -2 2 -2 2 -5 3 -5 4 0 1 -4 4 -1 0 -4 5 -4 5 -1 1 -2 3 -2 5 -1 2 0 3 -1 4 0 5 1 4 1 1 2 4 2 5 3 5 2 2 2 2 2 4 2 1 3 3 2 2 3 3 2 1 3 3 3 2 1 1 5 4 5 3 2 2 2 1 5 2 2 1 3 1 4 2 4 2 1 1 5 2 4 2 5 2 5 2 4 2 5 2 4 1 1 0 5 2 4 1 4 2 1 0 5 2 4 1 4 1 1 1 5 1 4 1 5 1 2 1 3 1 4 1 5 1 5 1 1 1 3 1 5 0 5 1 5 1 4 1 5 0 1 0 4 1 4 1 5 0 5 1 4 1 5 0 5 1 4 0 2 0z"/>
<path fill="#6aff8d" fill-rule="evenodd" d="M96 398l2 1 5 0 5 1 4 0 5 0 5 1 5 0 4 0 5 1 5 0 4 0 5 0 5 0 4 0 5 -1 5 0 4 0 5 -1 5 -1 2 -1 2 -1 5 -2 4 -1 1 -1 5 -2 4 -2 1 0 4 -2 5 -1 2 -2 2 -1 5 -2 2 -1 3 -3 2 -2 2 -3 2 -2 3 -4 0 -2 1 -3 2 -5 2 -3 0 -1 3 -5 1 -4 1 -1 3 -5 1 -1 2 -3 3 -3 1 -2 3 -3 2 -2 3 -3 2 -1 3 -3 2 -2 3 -3 1 -2 3 -4 1 0 1 -5 -1 -5 -1 -1 -2 -3 -2 -4 -1 -1 -3 -5 -1 -1 -2 -3 -3 -4 -1 -1 -4 -3 -1 -2 -3 -2 -3 -3 -2 -1 -5 -3 -4 -3 -3 -2 -2 -1 -5 -3 -1 -1 -3 -2 -5 -1 -3 -1 -2 -1 -4 -1 -5 -2 -5 -1 -4 -1 -5 -1 -5 -2 -3 -1 -2 0 -4 -1 -5 -1 -5 -1 -2 -1 -2 -1 -5 -1 -5 -2 -3 -1 -1 0 -5 -1 -5 -2 -4 -1 -5 0 -5 0 -4 1 -5 0 -5 0 -5 -1 -4 0 -5 0 -5 0 -4 0 -5 -1 -1 0 -4 0 -4 -1 -5 -2 -4 -1 -1 -1 -4 -1 -5 0 -4 2 -1 0 -4 0 -5 0 -1 0 -4 -2 -5 -3 -1 0 -3 -2 -5 -2 -4 -1 -1 0 -4 -2 -5 -2 -1 0 -4 -2 -4 -2 -4 -1 -1 -1 0 1 0 5 0 4 0 5 0 5 0 4 0 5 0 5 0 4 0 5 0 5 0 4 0 5 0 5 0 4 0 5 0 5 0 5 0 4 0 5 0 5 0 4 0 5 0 5 0 4 0 5 0 5 0 4 0 5 0 5 0 4 0 5 0 5 0 5 0 4 0 5 0 5 0 4 0 5 0 5 0 4 0 5 0 2 5 0 4 0 5 1 5 0 4 0 5 1 5 0 4 0 5 1 1 0 4 0 5 0 4 1 5 0 5 1 4 0 5 0 5 1 4 0 5 1 5 0 2 0zM1200 394l5 0 4 0 5 1 5 0 4 0 5 0 5 1 4 0 5 0 5 0 4 0 5 1 5 0 4 0 5 0 5 0 4 0 5 0 5 0 5 0 4 0 5 1 5 0 4 0 5 0 5 0 4 0 5 0 0 -4 0 -5 0 -5 0 -4 0 -5 0 -5 0 -4 0 -5 0 -5 0 -4 0 -5 0 -5 0 -5 0 -4 0 -5 0 -5 0 -4 0 -5 0 -5 0 -4 0 -5 0 -5 0 -4 0 -5 0 -5 0 -4 0 -5 0 -5 0 -5 0 -4 0 -5 0 -5 0 -4 0 -5 0 -5 0 -4 0 -5 0 -5 0 -4 0 -5 0 -5 0 -4 0 -5 0 -5 0 -4 -1 -1 -4 0 -4 0 -5 -1 -5 0 -4 -1 -5 -1 -5 -1 -2 0 -2 -1 -5 -1 -5 0 -5 -1 -4 0 -5 0 -5 -1 -4 0 -5 0 -5 0 -4 0 -5 0 -5 0 -4 0 -5 0 -5 0 -4 0 -5 1 -5 1 -4 2 -5 3 -2 1 -3 1 -5 0 -4 0 -4 -1 -1 0 -5 -1 -4 0 -3 1 -2 2 -2 3 -1 5 -2 5 -4 4 0 1 -5 3 -1 1 -4 4 -4 0 -3 -4 -2 -2 -5 -2 -4 1 -5 3 -3 5 -2 1 -3 3 -2 1 -4 1 -5 -1 0 -1 -4 -4 -1 -1 -3 -4 -1 -1 -5 -2 -5 1 -4 1 -2 1 -3 1 -5 3 -2 1 -2 1 -5 2 -3 1 -2 1 -4 3 -2 1 -3 2 -4 3 -1 0 -5 3 -1 1 -3 3 -4 2 -1 1 -5 3 0 1 -4 2 -3 2 -2 2 -5 3 -4 3 -2 2 -3 2 -4 2 -1 1 -4 3 -2 1 -3 2 -4 3 -1 1 -3 4 -1 2 -2 2 -3 5 -2 5 -1 4 1 5 1 5 1 3 0 1 2 5 3 3 1 2 3 4 1 0 4 4 1 1 4 3 2 2 2 1 5 3 1 0 4 2 4 3 1 0 4 2 5 2 1 1 3 1 5 3 2 1 3 1 4 2 3 1 2 1 5 2 3 2 2 0 4 3 5 2 5 1 4 2 5 1 5 2 4 1 4 2 1 0 5 1 4 2 5 1 3 1 2 0 4 1 5 1 5 1 5 1 4 1 5 1 5 1 4 1 5 0 4 1 1 0 4 1 5 0 5 1 4 0 5 1 5 0 4 1 5 0 5 1z"/>
<path fill="#8dff6a" fill-rule="evenodd" d="M75 389l5 0 4 1 5 0 5 0 4 1 5 0 5 0 4 1 5 0 5 0 5 1 4 0 5 0 5 0 4 0 5 0 5 -1 4 0 5 -1 5 0 4 -1 5 -1 5 -2 4 -2 2 -1 3 -1 5 -3 5 -5 4 -5 4 -4 1 -2 3 -3 2 -3 1 -2 3 -4 4 -5 1 -1 2 -4 2 -5 1 0 3 -4 1 -2 3 -3 2 -2 2 -3 3 -3 1 -1 3 -5 3 -5 2 -4 1 -5 0 -5 -1 -4 -2 -5 -3 -5 -2 -4 -2 -3 -1 -2 -4 -3 -2 -2 -3 -1 -4 -3 -2 -1 -3 -1 -5 -2 -1 -1 -3 -2 -5 -2 -2 -1 -3 -1 -4 -2 -5 -1 -1 -1 -4 -1 -5 -1 -4 -1 -5 -1 -5 -2 -4 -1 -5 -2 -1 0 -4 -1 -4 -1 -5 -1 -5 -1 -2 -1 -2 0 -5 -2 -5 0 -4 -1 -5 -1 -4 0 -1 -1 -5 0 -4 -1 -5 -1 -5 -1 -3 -1 -1 0 -5 -1 -5 0 -4 -1 -5 -1 -5 -1 -4 -1 -1 0 -4 1 -5 0 -4 0 -5 0 -4 -1 -1 0 -5 -1 -4 -1 -5 0 -5 -1 -4 0 -5 -1 -2 0 -3 -2 -4 -2 -2 -1 -3 -1 0 1 0 5 0 4 0 5 0 5 0 4 0 5 0 5 0 4 0 5 0 5 0 4 0 5 0 5 0 5 0 4 0 5 0 5 0 4 0 5 0 5 0 4 0 5 0 5 0 4 0 5 0 5 0 4 0 5 0 5 0 5 0 4 0 5 0 5 0 4 0 5 0 5 0 4 5 0 3 0 1 0 5 1 5 0 4 0 5 1 5 0 4 0 5 0 5 1 5 0 4 0 5 1 5 0 4 1 5 0zM1329 389l2 0 0 -5 0 -4 0 -5 0 -5 0 -4 0 -5 0 -5 0 -4 0 -5 0 -5 0 -5 0 -4 0 -5 0 -5 0 -4 0 -5 0 -5 0 -4 0 -5 0 -5 0 -4 0 -5 0 -5 0 -4 0 -5 0 -5 0 -5 0 -4 0 -5 0 -5 0 -4 0 -5 0 -5 0 -4 0 -5 0 -5 0 -4 0 -5 0 -5 0 -4 0 -2 -5 -1 -4 -1 -5 0 -5 -1 -4 0 -3 0 -2 0 -5 -1 -4 0 -5 0 -5 -1 -5 0 -4 -1 -5 0 -5 0 -4 0 -5 0 -5 0 -4 0 -5 0 -5 1 -4 0 -5 1 -5 0 -4 1 -5 0 -5 0 -4 0 -3 0 -2 0 -5 -1 -5 -1 -4 1 -5 0 -5 0 -1 1 -3 2 -2 3 -3 3 -1 1 -4 3 -2 2 -2 2 -3 3 -2 2 -2 2 -3 2 -4 0 -3 -2 -2 -2 -2 -2 -3 -2 -4 1 -2 1 -3 3 -1 1 -4 4 -1 1 -4 2 -4 2 -5 0 -5 -2 -2 -2 -2 -2 -5 -2 -5 4 -4 3 -4 2 -1 0 -5 4 -1 0 -3 3 -4 2 -1 1 -5 3 0 1 -4 3 -2 1 -3 2 -4 3 -1 1 -5 4 -4 3 -2 1 -3 3 -3 2 -2 2 -4 3 -5 4 0 1 -5 3 -1 1 -3 3 -2 2 -3 2 -3 3 -2 2 -1 2 -1 5 1 5 1 1 3 3 2 2 4 3 1 1 4 3 1 1 4 3 2 1 3 2 4 3 0 1 5 3 2 1 3 2 4 2 1 0 4 3 4 2 1 1 5 2 3 2 1 0 5 3 4 2 1 0 4 2 5 2 1 0 4 2 4 2 3 1 2 0 5 2 4 1 5 1 2 1 3 1 4 1 5 1 3 1 2 1 5 1 4 1 5 1 5 0 4 1 5 1 5 1 4 1 5 0 5 1 3 1 1 0 5 1 5 0 4 0 5 1 5 0 5 1 4 0 5 1 5 0 1 0 3 1 5 0 5 0 4 1 5 0 5 0 4 0 5 1 5 0 4 0 5 0 5 0 4 1 5 0 5 0 5 0 4 0 5 0 5 0 4 1 5 0 5 0 4 0 3 0z"/>
<path fill="#b4ff43" fill-rule="evenodd" d="M54 380l2 0 5 0 5 0 4 1 5 0 5 0 4 0 5 1 5 0 4 0 5 0 5 1 4 0 5 0 5 0 5 0 4 0 5 0 5 0 4 0 5 0 5 -1 4 -1 5 -1 5 -2 4 -2 3 -1 2 -1 5 -3 1 -1 3 -3 2 -1 3 -4 1 -1 3 -5 1 -1 2 -3 1 -5 2 -3 0 -2 3 -5 1 -1 2 -3 3 -3 2 -2 3 -3 1 -2 3 -3 2 -1 3 -4 1 -1 3 -5 1 0 2 -4 2 -5 0 -1 1 -4 -1 -4 0 -1 -1 -4 -1 -5 -2 -4 -1 0 -4 -4 -1 -1 -4 -2 -4 -3 -5 -3 -2 -2 -3 -1 -4 -2 -2 -1 -3 -1 -5 -2 -5 -1 -2 -1 -2 0 -5 -1 -5 -2 -4 -1 -4 -1 -1 0 -5 -1 -4 -2 -5 -1 -3 0 -2 -1 -4 -1 -5 -1 -5 -1 -4 -1 -2 0 -3 -1 -5 -1 -5 -1 -4 -1 -3 -1 -2 0 -5 -1 -4 -1 -5 -1 -5 -1 -1 0 -3 -1 -5 -1 -5 0 -4 -1 -5 0 -5 0 -4 -1 -5 0 -5 -1 -3 0 -2 0 -4 -1 -5 0 -5 0 -4 0 -5 -1 -5 0 -4 -1 -5 0 0 3 0 5 0 4 0 5 0 5 0 4 0 5 0 5 0 4 0 5 0 5 0 5 0 4 0 5 0 5 0 4 0 5 0 5 0 4 0 5 0 5 0 4 0 5 0 5 0 4 0 5 0 5 0 5 0 4 0 5 0 5 0 4 0 5 0 3 5 0 4 0 5 0 5 0 4 0 5 0 5 1 4 0 5 0 5 0 5 1 2 0zM1304 380l4 0 4 0 5 0 5 0 4 0 5 0 0 -5 0 -5 0 -4 0 -5 0 -5 0 -4 0 -5 0 -5 0 -5 0 -4 0 -5 0 -5 0 -4 0 -5 0 -5 0 -4 0 -5 0 -5 0 -4 0 -5 0 -5 0 -4 0 -5 0 -5 0 -5 0 -4 0 -5 0 -5 0 -4 0 -5 0 -5 0 -4 0 -5 0 -5 0 -4 0 -5 -4 0 -1 0 -4 -1 -5 -1 -5 0 -4 -1 -5 0 -5 -1 -4 0 -5 0 -5 0 -5 -1 -4 0 -5 0 -5 0 -4 0 -5 0 -5 0 -4 0 -5 0 -5 0 -4 0 -5 0 -5 1 -2 -1 -2 0 -5 -1 -5 0 -4 1 -5 2 -5 0 -5 0 -4 0 -5 1 -5 0 -4 1 -2 1 -3 1 -5 3 0 1 -4 4 -5 5 -5 3 -4 0 -5 -2 -2 -1 -3 -3 -4 2 -2 1 -3 3 -2 2 -3 2 -5 2 -4 3 -5 2 -5 2 -4 3 -5 2 -4 2 -1 1 -4 2 -4 2 -1 1 -5 3 -1 1 -3 2 -4 2 -1 1 -5 3 -1 1 -3 2 -4 3 -1 0 -5 4 0 1 -5 3 0 1 -4 4 -1 1 -3 5 -1 1 -1 3 -1 5 0 5 2 4 2 5 3 4 0 1 4 4 0 1 5 3 1 1 4 3 3 2 2 1 4 3 5 3 5 2 4 2 5 3 5 2 4 2 1 1 4 1 5 2 4 1 1 0 4 1 5 1 4 2 5 1 5 1 5 1 4 1 5 1 5 1 4 0 5 1 5 1 4 0 5 1 5 1 2 0 2 1 5 0 5 1 4 0 5 1 5 0 5 1 4 0 5 1 4 0 1 0 4 1 5 0 5 0 4 1 5 0 5 0 4 0 5 1 5 0 4 0 5 0 5 1 4 0 5 0 5 0 5 0 4 0 5 1 1 0z"/>
<path fill="#dbff1c" fill-rule="evenodd" d="M0 370l0 1 5 0 4 0 5 0 5 0 4 0 5 0 5 0 4 0 5 1 5 0 5 0 4 0 5 0 5 0 4 0 5 0 5 0 4 0 5 0 5 0 4 0 5 0 5 0 4 0 5 0 5 -1 5 0 2 -1 2 0 5 -1 5 -1 4 -2 4 0 1 -1 5 -2 2 -2 2 -2 3 -3 2 -1 4 -3 1 -2 3 -3 1 -2 2 -3 3 -3 1 -2 4 -4 4 -5 1 0 4 -3 2 -2 3 -2 3 -2 2 -1 4 -4 5 -5 3 -4 2 -3 1 -2 1 -5 1 -4 -1 -5 -1 -5 -1 -1 -4 -3 -1 -2 -5 -3 -4 -4 -1 -1 -4 -2 -5 -2 0 -1 -5 -1 -4 -2 -5 -1 -1 0 -4 -1 -4 -1 -5 -2 -5 -1 -4 -1 -5 -1 -5 -1 -4 -2 -5 -1 -5 -1 -4 0 -5 -1 -4 -1 -1 0 -5 -2 -4 -1 -5 -1 -5 -1 -2 0 -2 0 -5 -1 -5 -1 -4 -1 -5 -1 -5 0 -1 -1 -3 0 -5 -1 -5 -1 -4 0 -5 -1 -5 0 -5 -1 -4 0 -5 0 -5 -1 -4 0 -5 0 -5 0 -4 -1 -5 0 0 2 0 4 0 5 0 5 0 4 0 5 0 5 0 4 0 5 0 5 0 5 0 4 0 5 0 5 0 4 0 5 0 5 0 4 0 5 0 5 0 4 0 5 0 5 0 4 0 5 0 5 0 5 0 4 0 5 0 5 0 4zM1265 370l5 1 5 0 4 0 5 0 5 0 5 0 4 0 5 0 5 1 4 0 5 0 5 0 4 0 5 0 0 -2 0 -4 0 -5 0 -5 0 -4 0 -5 0 -5 0 -5 0 -4 0 -5 0 -5 0 -4 0 -5 0 -5 0 -4 0 -5 0 -5 0 -4 0 -5 0 -5 0 -4 0 -5 0 -5 0 -5 0 -4 0 -5 0 -5 0 -4 0 -5 0 -5 0 -4 0 -5 0 -3 -5 -1 -4 -1 -5 -1 -5 0 -4 -1 -5 0 -5 -1 -4 0 -5 -1 -3 0 -2 -1 -5 0 -4 0 -5 0 -5 0 -4 0 -5 0 -5 0 -4 0 -5 1 -5 0 -4 0 -5 0 -5 1 -4 0 -5 1 -5 -1 -4 -1 -5 0 -5 1 -5 1 -4 1 -5 1 -5 1 -4 3 -4 1 -1 0 -5 1 -4 4 -5 3 -4 1 -1 1 -4 2 -5 2 -5 4 -1 1 -3 2 -3 2 -2 2 -4 3 -1 1 -5 3 0 1 -4 3 -2 1 -3 3 -2 2 -3 3 -2 2 -2 2 -3 3 -2 1 -3 3 -2 1 -3 4 -1 1 -4 4 -1 1 -4 3 -1 1 -3 4 -1 5 -1 4 0 5 1 0 1 5 2 4 1 2 2 3 3 2 2 3 3 1 3 3 1 1 5 4 1 0 4 2 4 2 4 1 1 0 5 2 4 1 4 2 1 0 5 1 5 1 4 1 5 1 3 0 2 1 4 0 5 1 5 1 4 1 5 0 3 1 2 0 4 1 5 0 5 1 4 0 5 1 5 1 5 0 2 1 2 0 5 0 5 1 4 0 5 1 5 0 4 0 5 1 5 0 4 0 5 1 5 0 4 0z"/>
<path fill="#feed00" fill-rule="evenodd" d="M0 361l0 1 5 1 4 0 5 0 5 0 4 0 5 0 5 0 4 0 5 0 5 0 5 0 4 0 5 0 5 0 4 -1 5 0 5 0 4 -1 5 0 5 -1 4 0 5 -1 5 0 4 -1 5 -1 2 -1 3 -1 5 -2 4 -1 0 -1 5 -3 2 -1 3 -2 2 -3 2 -1 4 -4 1 0 4 -4 1 -1 4 -3 2 -1 3 -1 5 -2 1 -2 3 -1 5 -3 5 -3 3 -2 1 -1 5 -3 0 -1 5 -3 2 -1 3 -4 0 -1 2 -5 1 -4 0 -5 -3 -5 -4 -4 -1 -2 -4 -3 -1 -1 -5 -3 -2 -1 -2 -1 -5 -1 -5 -2 -2 -1 -2 0 -5 -1 -5 -2 -4 -1 -1 0 -4 -1 -5 -1 -4 -1 -5 -2 -1 0 -4 -1 -4 -1 -5 -1 -5 -1 -5 -1 -4 -1 -5 -1 -5 -1 -4 -1 -4 0 -1 -1 -5 0 -4 -1 -5 -1 -5 -1 -4 0 -4 -1 -1 0 -5 -1 -4 -1 -5 0 -5 -1 -5 0 -4 0 -5 -1 -5 0 -4 0 -5 -1 -1 0 -4 0 -4 0 -5 0 0 5 0 5 0 4 0 5 0 5 0 4 0 5 0 5 0 5 0 4 0 5 0 5 0 4 0 5 0 5 0 4 0 5 0 5 0 4 0 5 0 5 0 4 0 5 0 5 0 5 0 4 0 5zM1262 361l3 0 5 0 5 1 4 0 5 0 5 0 5 0 4 0 5 0 5 1 4 0 5 0 5 0 4 0 5 0 0 -2 0 -5 0 -4 0 -5 0 -5 0 -5 0 -4 0 -5 0 -5 0 -4 0 -5 0 -5 0 -4 0 -5 0 -5 0 -4 0 -5 0 -5 0 -4 0 -5 0 -5 0 -5 0 -4 0 -5 0 -5 0 -4 0 -5 0 -5 0 -3 -5 -1 -2 0 -2 -1 -5 -1 -5 0 -4 -1 -5 -1 -5 -1 -2 0 -2 0 -5 -1 -5 0 -5 0 -4 -1 -5 0 -5 0 -4 0 -5 0 -5 0 -4 0 -5 1 -5 0 -4 0 -5 0 -5 1 -3 0 -1 0 -5 1 -5 1 -4 1 -5 0 -5 0 -5 -1 -4 0 -5 2 -1 1 -4 3 -4 1 0 1 -5 4 -2 5 -3 4 -2 5 -2 5 0 1 -2 3 -2 5 -1 2 -1 3 -2 5 -2 3 -1 1 -3 5 0 1 -3 4 -2 2 -3 2 -2 2 -3 3 -1 1 -4 4 -1 0 -5 4 -1 0 -4 3 -2 2 -2 2 -2 3 -1 4 2 5 1 1 3 4 1 0 5 3 3 1 2 1 5 2 4 2 5 2 5 1 4 1 5 1 5 1 4 0 5 1 5 1 4 1 5 1 5 0 4 1 5 1 5 0 5 1 4 1 3 0 2 1 5 0 4 1 5 0 5 1 4 0 5 1 5 0 4 0 5 0 5 1 1 0z"/>
<path fill="#ffc100" fill-rule="evenodd" d="M1300 352l3 0 5 0 4 0 5 0 5 0 4 1 5 0 0 -1 0 -5 0 -5 0 -5 0 -4 0 -5 0 -5 0 -4 0 -5 0 -5 0 -4 0 -5 0 -5 0 -4 0 -5 0 -5 0 -4 0 -5 0 -5 0 -5 0 -4 0 -5 0 -5 0 -4 0 -4 -5 0 -3 -1 -1 0 -5 -1 -5 -1 -4 -1 -5 0 -5 -1 -4 -1 -1 0 -4 0 -5 -1 -5 -1 -4 0 -5 0 -5 0 -4 0 -5 0 -5 1 -4 0 -5 1 -5 0 -1 0 -3 1 -5 1 -5 1 -4 1 -4 1 -1 0 -5 3 -2 2 -2 2 -2 2 -3 3 -2 2 -3 5 -2 4 -1 5 1 5 1 5 1 4 1 5 1 5 -1 4 0 5 -1 1 -1 4 -3 4 -1 1 -2 4 -2 3 -1 2 -1 4 2 3 1 2 3 3 4 2 1 0 5 2 5 1 2 1 2 1 5 1 5 2 4 1 2 0 3 1 5 0 4 1 5 1 5 1 4 1 2 0 3 0 5 1 4 0 5 1 5 0 4 1 5 0 5 1 5 0 4 0 2 1zM0 347l0 4 5 -1 4 0 5 0 5 -1 4 0 5 0 5 0 4 0 5 0 5 0 5 -1 4 0 5 0 5 0 4 0 5 0 5 -1 4 -1 5 -1 5 -2 4 -1 5 -2 5 -3 4 -3 3 -1 2 -2 5 -3 1 0 4 -2 3 -3 1 0 5 -3 3 -1 2 -1 4 -1 5 -2 2 -1 3 -1 4 -2 4 -2 1 0 5 -2 4 -2 2 0 3 -3 3 -2 2 -1 3 -4 1 -2 1 -2 0 -5 -1 -2 0 -3 -4 -4 -5 -3 -4 -2 -1 0 -4 -2 -5 -1 -4 -2 -1 0 -4 -1 -5 -1 -5 -2 -4 -1 -5 -1 -5 -1 -4 -1 -5 -1 -1 0 -4 -1 -5 -1 -4 -1 -5 -1 -3 -1 -2 0 -4 -1 -5 -1 -5 -1 -4 -1 -2 -1 -3 0 -5 -1 -4 -1 -5 -1 -5 -1 -4 0 -5 -1 -5 0 -5 0 -4 -1 -5 0 -5 0 -4 -1 -5 0 -5 0 -4 0 -5 -1 0 4 0 4 0 5 0 5 0 4 0 5 0 5 0 5 0 4 0 5 0 5 0 4 0 5 0 5 0 4 0 5 0 5 0 4 0 5 0 5 0 4 0 5 0 5z"/>
<path fill="#ff9400" fill-rule="evenodd" d="M1320 337l2 1 4 0 5 0 0 -1 0 -4 0 -5 0 -5 0 -4 0 -5 0 -5 0 -4 0 -5 0 -5 0 -4 0 -5 0 -5 0 -4 0 -5 0 -5 0 -5 0 -4 0 -5 0 -4 -5 0 -4 -1 -5 -1 -5 0 -4 -1 -5 -1 -5 -1 -2 0 -2 -1 -5 0 -5 0 -5 0 -4 -1 -5 0 -5 0 -4 1 -5 1 -5 1 -4 1 -5 1 -4 1 -1 1 -4 2 -3 2 -2 2 -3 3 -2 2 -2 2 -1 5 1 5 1 5 1 1 2 3 3 5 3 5 2 2 1 2 3 4 1 1 3 5 1 1 3 3 2 3 1 2 3 4 1 1 4 2 3 2 2 1 4 3 3 1 2 1 5 1 4 2 4 1 1 0 5 1 5 1 4 1 5 0 5 1 4 0 5 0 3 0zM44 328l3 0 5 1 4 0 5 0 5 0 4 -1 1 0 4 -1 5 -1 4 -3 5 -2 4 -2 1 -1 4 -3 3 -1 2 -1 5 -3 0 -1 4 -2 5 -2 1 0 4 -2 5 -3 4 -2 5 -2 5 -1 4 -1 5 -1 5 -2 1 0 1 -5 -2 -4 -1 -1 -4 -2 -5 -2 -2 0 -2 -1 -5 -1 -5 -2 -4 -1 -1 0 -4 -1 -5 -2 -5 -1 -2 -1 -2 0 -5 -2 -5 -1 -4 -2 -5 -1 -5 -1 -4 -2 -2 0 -3 -1 -5 -1 -4 -1 -5 -2 -2 0 -3 -1 -4 0 -5 -1 -5 0 -5 -1 -4 0 -5 0 -5 0 -4 -1 -5 0 -5 0 -4 0 -3 -1 -2 0 0 5 0 5 0 4 0 5 0 5 0 5 0 4 0 5 0 5 0 4 0 5 0 5 0 4 0 5 0 5 0 1 5 0 4 0 5 0 5 1 4 1 5 1 0 1 5 1 4 2 5 1 2 0z"/>
<path fill="#ff6c00" fill-rule="evenodd" d="M48 305l4 1 4 0 5 0 5 0 4 -1 3 0 2 -1 5 -2 3 -2 1 -1 5 -4 4 -4 1 -5 -2 -5 -3 -2 -2 -2 -3 -3 -4 -2 -5 -2 -5 -1 -4 -2 -5 -1 -5 -1 -4 -2 -5 0 -3 -1 -2 0 -5 0 -4 0 -5 0 -5 0 -4 -1 -5 0 -5 0 -4 0 -5 0 0 1 0 5 0 5 0 5 0 4 0 5 0 5 0 1 5 1 4 1 5 1 5 2 4 1 5 1 3 1 2 1 4 1 5 1 5 1 1 1zM1288 286l1 0 5 1 4 1 5 0 5 1 4 0 5 0 5 1 4 0 5 0 0 -4 0 -5 0 -4 0 -5 0 -5 0 -5 0 -2 -5 0 -4 -1 -5 0 -5 -1 -2 0 -2 0 -5 -1 -5 0 -4 0 -5 0 -5 0 -5 0 -4 1 -5 1 -5 2 -4 1 -4 5 1 5 3 3 2 2 2 1 5 2 3 1 2 1 4 2 5 1 4 1z"/>
</g>
<use href="#coast" class="c"/>
</g>
<rect class="fr" x="78.45" y="132.50" width="1331.05" height="656.15"/>
<rect x="78.45" y="831.50" width="61.10" height="65.80" fill="#000096"/>
<rect x="138.95" y="831.50" width="61.10" height="65.80" fill="#0000cd"/>
<rect x="199.45" y="831.50" width="61.10" height="65.80" fill="#0000ff"/>
<rect x="259.96" y="831.50" width="61.10" height="65.80" fill="#0020ff"/>
<rect x="320.46" y="831.50" width="61.10" height="65.80" fill="#0050ff"/>
<rect x="380.96" y="831.50" width="61.10" height="65.80" fill="#0080ff"/>
<rect x="441.46" y="831.50" width="61.10" height="65.80" fill="#00acff"/>
<rect x="501.97" y="831.50" width="61.10" height="65.80" fill="#00dcfe"/>
<rect x="562.47" y="831.50" width="61.10" height="65.80" fill="#1cffdb"/>
<rect x="622.97" y="831.50" width="61.10" height="65.80" fill="#43ffb4"/>
<rect x="683.47" y="831.50" width="61.10" height="65.80" fill="#6aff8d"/>
<rect x="743.98" y="831.50" width="61.10" height="65.80" fill="#8dff6a"/>
<rect x="804.48" y="831.50" width="61.10" height="65.80" fill="#b4ff43"/>
<rect x="864.98" y="831.50" width="61.10" height="65.80" fill="#dbff1c"/>
<rect x="925.48" y="831.50" width="61.10" height="65.80" fill="#feed00"/>
<rect x="985.98" y="831.50" width="61.10" height="65.80" fill="#ffc100"/>
<rect x="1046.49" y="831.50" width="61.10" height="65.80" fill="#ff9400"/>
<rect x="1106.99" y="831.50" width="61.10" height="65.80" fill="#ff6c00"/>
<rect x="1167.49" y="831.50" width="61.10" height="65.80" fill="#ff3f00"/>
<rect x="1227.99" y="831.50" width="61.10" height="65.80" fill="#ff1600"/>
<rect x="1288.50" y="831.50" width="61.10" height="65.80" fill="#cd0000"/>
<rect x="1349.00" y="831.50" width="60.50" height="65.80" fill="#960000"/>
<rect class="fr" x="78.45" y="831.50" width="1331.05" height="65.80"/>
<path class="tk" d="M78.45 897.30v14.6M259.96 897.30v14.6M441.46 897.30v14.6M622.97 897.30v14.6M804.48 897.30v14.6M985.98 897.30v14.6M1167.49 897.30v14.6M1349.00 897.30v14.6"/>
<text class="l" x="77.9" y="959.2">0.0</text>
<text class="l" x="259.4" y="959.2">7.5</text>
<text class="l" x="440.9" y="959.2">15.0</text>
<text class="l" x="622.4" y="959.2">22.5</text>
<text class="l" x="803.9" y="959.2">30.0</text>
<text class="l" x="985.4" y="959.2">37.5</text>
<text class="l" x="1166.9" y="959.2">45.0</text>
<text class="l" x="1348.4" y="959.2">52.5</text>
</g>
<g>
<text class="t" x="743.0" y="1092.8">Ionosphere  (h=450.0 km), 2004-06-09 03:00 UT</text>
<g transform="translate(78.45 1117.50)" clip-path="url(#cp)">
<g shape-rendering="crispEdges">
<rect x="0" y="0" width="1331.05" height="656.15" fill="#000096"/>
<path fill="#0000cd" fill-rule="evenodd" d="M0 656l5 0 4 0 5 0 5 0 4 0 5 0 5 0 4 0 5 0 5 0 5 0 4 0 5 0 5 0 4 0 5 0 5 0 4 0 5 0 5 0 4 0 5 0 5 0 4 0 5 0 5 0 5 0 4 0 5 0 5 0 4 0 5 0 5 0 4 0 5 0 5 0 4 0 5 0 5 0 4 0 5 0 5 0 5 0 4 0 5 0 5 0 4 0 5 0 5 0 4 0 5 0 5 0 4 0 5 0 3 0 2 -3 0 -2 4 -3 1 -1 4 -4 1 -1 4 -2 5 -1 4 -1 3 -1 2 0 5 -1 4 -2 3 -1 2 -1 5 -1 4 0 5 -1 5 0 4 1 2 2 -2 2 -1 2 -1 5 2 5 5 0 5 -4 1 -1 1 -5 0 -4 -1 -5 3 -2 5 -3 5 -1 5 -2 4 -1 2 0 3 -1 5 -2 4 -1 4 -1 1 -1 2 -4 -2 -3 -2 -1 -3 -2 -4 -1 -5 -2 -5 -2 -4 -1 -5 -1 -2 -1 -3 -1 -5 -1 -4 -2 -1 0 -4 -1 -5 -1 -4 0 -5 -1 -5 0 -4 0 -5 0 -5 0 -4 0 -5 -1 -5 0 -4 0 -5 0 -5 1 -5 1 -4 1 -1 1 -4 1 -5 1 -4 2 -1 0 -4 3 -3 2 -2 2 -2 3 -2 4 0 1 -3 4 -2 5 -5 4 -1 0 -3 1 -5 1 -5 1 -4 0 -5 1 -5 0 -5 0 -4 0 -5 0 -5 0 -4 0 -5 0 -5 0 -4 0 -5 0 -5 0 -4 0 -5 -1 -5 0 -4 0 -5 0 -5 0 -5 -1 -4 0 -5 0 -5 0 -4 -1 -5 0 -5 0 -2 -1 -2 0 -5 0 -5 -1 -4 -1 -5 0 -5 -1 -4 0 -5 -1 -3 0 -2 -1 -5 0 -4 -1 -5 -1 -5 0 -4 -1 -5 -1 -1 0 -4 -1 -4 0 -5 -1 0 2 0 5 0 4 0 5 0 5 0 4 0 5 0 5 0 4 0 5zM291 651l4 1 5 0 2 -1 -2 -2 -5 -1 -4 3zM814 656l2 0 4 0 5 0 5 0 4 0 5 0 5 0 4 0 5 0 5 0 4 0 5 0 5 0 4 0 5 0 5 0 4 0 5 0 5 0 5 0 4 0 5 0 5 0 4 0 5 0 5 0 4 0 5 0 5 0 4 0 5 0 5 0 4 0 5 0 5 0 5 0 4 0 5 0 5 0 4 0 5 0 5 0 4 0 5 0 5 0 4 0 5 0 5 0 4 0 5 0 5 0 5 0 4 0 5 0 5 0 4 0 5 0 5 0 4 0 5 0 5 0 4 0 5 0 5 0 4 0 5 0 5 0 5 0 4 0 5 0 5 0 4 0 5 0 5 0 4 0 5 0 5 0 4 0 5 0 5 0 4 0 5 0 5 0 5 0 4 0 5 0 5 0 4 0 5 0 5 0 4 0 5 0 5 0 4 0 5 0 5 0 4 0 5 0 5 0 4 0 5 0 5 0 5 0 4 0 5 0 5 0 4 0 5 0 5 0 4 0 5 0 0 -5 0 -4 0 -5 0 -5 0 -4 0 -5 0 -5 0 -4 0 -5 0 -5 0 -4 0 -5 0 -5 0 -4 0 -5 0 -5 0 -5 0 -4 0 -5 0 -5 0 -4 0 -5 0 -5 0 -4 0 -5 0 -5 0 -4 0 -5 0 -5 0 -4 0 -5 0 -5 0 -5 0 -4 0 -5 0 -5 0 -4 0 -5 0 -5 0 -4 0 -5 0 -5 0 -4 0 -5 0 -5 0 -4 0 -5 0 -5 0 -5 0 -4 0 -5 0 -5 0 -4 0 -5 0 -5 0 -4 0 -5 0 -5 0 -4 0 -5 0 -5 0 -4 0 -5 0 -5 0 -4 0 -5 0 -5 0 -5 0 -4 0 -5 0 -5 0 -4 0 -5 0 -5 0 -4 0 -5 0 -5 0 -4 0 -5 0 -5 0 -4 0 -5 0 -5 0 -5 0 -4 0 -5 0 -5 0 -4 0 -5 0 -5 0 -4 0 -5 0 -5 0 -4 0 -5 0 -5 0 -4 0 -5 0 -5 0 -5 0 -4 0 -5 0 -5 0 -4 0 -5 0 -5 0 -4 0 -5 0 -5 0 -4 0 -5 0 -5 0 -4 0 -5 0 -5 0 -5 0 -4 0 -5 0 -5 0 -4 0 -5 0 -5 0 -4 0 -5 0 -5 0 -4 0 -5 0 -5 0 -4 0 -5 0 -5 0 -5 0 -4 0 -5 0 -5 0 -4 0 -5 0 -5 0 -4 0 -5 -5 0 -4 0 -5 0 -5 0 -4 0 -5 0 -5 0 -4 0 -5 0 -5 0 -5 0 -4 0 -5 0 -5 0 -4 0 -5 0 -5 0 -4 0 -5 0 -5 0 -4 0 -5 0 -5 0 -4 0 -5 0 -5 0 -4 0 -5 0 -5 0 -5 0 -4 0 -5 0 -5 0 -4 0 -5 0 -5 0 -4 0 -5 0 -5 0 -4 0 -5 0 -5 0 -4 0 -5 0 -5 0 -5 0 -4 0 -5 0 -5 0 -4 0 -5 0 -5 0 -4 0 -5 0 -5 0 -4 0 -5 0 -5 0 -4 0 -5 0 -5 0 -5 0 -4 0 -5 0 -5 0 -4 0 -5 0 -5 0 -4 0 -5 0 -5 0 -4 0 -5 0 -5 0 -4 0 -5 0 -5 0 -5 0 -4 0 -5 0 -5 0 -4 0 -5 0 -5 0 -4 0 -5 0 -5 0 -4 0 -5 0 -5 0 -4 0 -5 0 -5 0 -5 0 -4 0 -5 0 -5 0 -4 0 -5 0 -5 0 -4 0 -5 0 -5 0 -4 0 -5 0 -5 0 -4 0 -5 0 -5 0 -4 0 -5 0 -5 0 -5 0 -4 0 -5 0 -5 0 -4 0 -5 0 -5 0 -4 0 -5 0 -5 0 -4 0 -5 0 -5 0 -4 0 -5 0 -5 0 -5 0 -4 0 -5 0 -5 0 -4 0 -5 0 -5 0 -4 0 -5 0 -5 0 -4 0 -5 0 -5 0 -4 0 -5 0 -5 0 -5 0 -4 0 -5 0 -5 0 -4 0 -5 0 -5 0 -4 0 -5 0 -5 0 -4 0 -5 0 -5 0 -4 0 -5 0 -5 0 -5 0 -4 0 -5 0 -5 0 -4 0 -5 0 -5 0 -4 0 -5 0 -5 0 -4 0 -5 0 -5 0 -4 0 -5 0 -5 0 -5 0 -4 0 -5 0 -5 0 -4 0 -5 0 -5 0 -4 0 -5 0 -5 0 -4 0 -5 0 -5 0 -4 0 -5 0 -5 0 -5 0 -4 0 -5 0 -5 0 -4 0 -5 0 -5 0 -4 0 -5 0 -5 0 -4 0 -5 0 -5 0 -4 0 -5 0 -5 0 -4 0 -5 0 -5 0 -5 0 -4 0 -5 0 -5 0 -4 0 -5 0 -5 0 -4 0 -5 0 -5 0 -4 0 -5 0 -5 0 -4 0 -5 0 -5 0 -5 0 -4 0 -5 0 -5 0 -4 0 -5 0 -5 0 -4 0 -5 0 -5 0 -4 0 -5 0 -5 0 -4 0 -5 0 -5 0 -5 0 -4 0 -5 0 -5 0 -4 0 -5 0 -5 0 -4 0 -5 0 -5 0 -4 0 -5 0 -5 0 -4 0 -5 0 -5 0 -5 0 -4 0 -5 0 -5 0 -4 0 -5 0 -5 0 -4 0 -5 0 -5 0 -4 0 -5 0 -5 0 -4 0 -5 0 -5 0 -5 0 -4 0 -5 0 -5 0 -4 0 -5 0 -5 0 -4 0 -5 0 0 5 0 4 0 5 0 5 0 4 0 5 0 5 0 4 0 5 0 5 0 5 0 4 0 5 0 5 0 4 0 5 0 5 0 4 0 5 0 5 0 4 0 5 0 5 0 4 0 5 0 5 0 5 0 4 0 5 0 5 0 4 0 5 0 5 0 4 0 5 0 5 0 4 0 5 0 5 0 4 0 5 0 5 0 5 0 4 0 5 0 5 0 4 0 5 0 5 0 4 0 5 0 5 0 4 0 5 0 5 0 4 0 5 0 5 0 5 0 4 0 5 0 5 0 4 0 5 0 5 0 4 0 5 0 5 0 4 0 5 0 5 0 4 0 5 0 5 0 5 0 4 0 5 0 5 0 4 0 5 0 5 0 4 0 5 0 5 0 4 0 5 0 5 0 4 0 5 0 5 0 4 0 5 0 5 0 5 0 4 0 5 0 5 0 4 0 5 0 5 0 4 0 5 0 5 0 4 0 5 0 5 0 4 0 5 0 5 0 5 0 4 0 5 0 5 0 4 0 5 0 5 0 4 0 5 0 5 0 4 0 5 0 5 0 4 0 5 0 3 5 0 4 -1 5 0 5 -1 4 0 5 -1 1 0 4 0 4 -1 5 0 5 -1 5 0 4 -1 5 -1 1 -1 4 0 4 -1 5 -2 5 -1 1 0 3 -1 5 -1 5 -2 3 -1 1 -1 5 -1 5 -2 0 -1 4 -1 5 -3 1 0 4 -3 3 -2 2 -1 4 -4 5 -3 2 -1 3 -2 4 -2 2 -1 3 -1 5 -2 4 -1 5 -1 5 0 4 -1 5 0 5 -1 4 0 5 0 5 0 5 -1 4 0 5 0 5 -1 4 0 5 0 4 0 1 0 4 -1 5 0 5 0 4 0 5 -1 5 0 4 0 5 -1 5 -1 5 0 4 -1 2 0 3 -1 5 0 4 -1 5 0 5 -1 4 0 5 -1 5 -1 2 0 2 0 5 0 5 -1 4 0 5 0 5 1 5 0 4 1 5 1 5 1 4 0 5 1 5 1 1 0 3 0 5 1 5 0 4 0 5 0 5 0 4 0 5 0 5 0 4 0 5 -1 5 0 1 0 4 -1 4 0 5 -1 5 -1 4 -1 5 0 2 -1 3 0 4 -1 5 -2 5 -1 1 0 3 -2 5 -1 5 -2 4 -3 2 -2 3 -4 1 -1 -1 -2 0 -2 -5 -2 -4 -1 -5 -2 -1 0 -4 -1 -4 -1 -5 0 -5 -1 -4 -1 -5 0 -5 0 -4 0 -5 -1 -5 0 -4 0 -5 0 -5 0 -5 0 -4 0 -5 0 -5 0 -4 0 -3 0 -2 0 -5 1 -4 0 -5 0 -5 0 -4 1 -5 0 -5 0 -4 0 -5 0 -5 1 -4 0 -5 -1 -5 0 -5 -2 -4 0 -5 0 -5 -2 -4 -2 -2 0 -3 -1 -5 -1 -4 0 -5 -1 -5 0 -4 -1 -5 0 -5 -1 -1 0 -3 0 -5 -1 -5 -1 -5 -1 -4 0 -5 -1 -5 -1 -4 0 -5 -1 -5 -1 -4 -1 -3 -1 -2 -1 -5 -2 -4 -2 -1 0 -4 -3 -3 -2 -2 -2 -1 -2 1 -4 1 -1 4 -2 5 -2 1 -1 3 -1 5 -1 5 0 4 0 5 0 5 0 4 1 5 0 5 0 4 1 3 0 2 1 5 0 5 1 4 0 5 1 5 0 4 1 5 0 5 0 4 0 5 -1 5 0 4 -1 5 0 5 -1 4 0 2 -1 3 0 5 -1 5 -1 4 -1 5 -1 2 0 3 -1 4 -1 5 -1 5 0 4 0 5 1 5 0 4 0 5 0 5 -1 4 0 5 -1 4 -1 1 0 4 -1 5 -1 5 -1 5 -1 4 0 2 -1 3 0 5 -1 4 0 5 -1 5 -1 4 0 5 -1 3 -1 2 0 4 0 5 0 5 -1 4 0 5 0 5 0 5 -1 4 0 5 0 5 0 4 -1 5 0 5 0 4 0 5 0 5 0 4 0 5 0 5 0 4 0 5 0 5 0 5 -1 3 0 1 0 5 -2 5 -1 4 -1 1 -1 4 -1 4 -4 1 0 2 -4 2 -5 0 -5 -1 -4 -3 -5 0 -1 -3 -4 -2 -2 -2 -2 -3 -4 -1 -1 -3 -3 -2 -2 -3 -3 -1 -1 -4 -5 -4 -5 0 -1 -3 -3 -2 -3 -1 -2 -2 -5 -2 -5 0 -4 3 -5 2 -2 4 -3 1 0 4 -3 2 -1 3 -2 5 -2 3 -1 1 -1 5 -1 5 -2 2 -1 2 0 5 -2 4 -2 1 -1 4 -3 2 -1 3 -2 3 -3 2 -2 2 -2 2 -5 0 -1 2 -4 2 -4 1 -3 1 -2 4 -5 4 -5 1 0 4 -4 0 -1 5 -3 1 -1 4 -2 3 -3 1 0 5 -4 5 -5 4 -5 4 -4 1 -3 2 -2 3 -4 0 -1 4 -4 0 -1 3 -4 2 -3 1 -2 4 -3 2 -1 2 -2 5 -2 5 -1 4 0 1 0 4 0 3 0 2 0 5 2 3 3 1 0 5 4 3 5 2 3 1 2 3 3 1 1 4 4 0 1 4 5 1 1 3 3 1 2 3 3 2 3 2 2 3 3 1 1 3 4 2 1 3 3 2 2 3 3 1 1 4 4 1 1 3 3 2 2 3 3 2 2 3 3 0 1 3 5 1 2 2 3 2 4 1 2 1 3 2 5 2 2 0 2 2 5 1 5 1 4 0 2 1 3 1 5 0 4 1 5 0 5 1 5 0 4 1 3 0 2 2 5 1 4 2 4 0 1 2 5 2 4 0 1 2 4 3 5 0 1 2 3 2 5 1 3 0 2 1 4 0 5 -1 5 0 2 -1 2 -2 5 -2 4 -1 1 -4 3 -2 2 -2 1 -5 3 -2 0 -3 1 -4 2 -5 1 -4 1 -1 0 -4 1 -5 1 -5 1 -4 1 -2 1 -3 1 -5 1 -5 1 -2 1 -2 1 -5 2 -4 2 -1 1 -4 2 -3 2 -2 2 -3 2 -1 5 4 5 5 2 4 1 5 1 5 1 4 0 5 0 5 0 5 1 4 -1 5 0 5 0 0 -1 4 0 5 -1 5 0 4 -1 5 -1 5 0 4 -1 5 0 5 0 4 1 5 0 5 0 4 1 5 1 5 1 3 0 2 1 4 2 5 1 3 1 2 1 4 2 3 2 2 1 4 3 1 1 4 4 0 1 3 4 2 3 1 2 1 4 1 5 0 5 -1 4 0 5 0 5 2 4 1 1 4 4 0 1 5 2 5 2 4 1 5 2 5 1 4 0 1 1 4 1 5 1 5 1 2 1 2 2 5 2 3 1 2 0 4 1 5 1 5 1 4 1 1 0 4 2 5 2 3 1 1 1 2 4 -2 4 0 1 -4 3 -3 1 -2 1 -5 2 -4 1 -3 1 -2 1 -5 1 -4 1 -4 2 -1 0 -5 2 -4 2 -1 0 -4 2 -5 1 -4 1 -2 1 -3 1 -5 1 -5 1 -3 2 -1 0 -5 1 -5 2 -3 1 -1 1 -5 1 -5 2 -3 1 -1 1 -5 1 -5 2 -4 1 -5 1 -5 1 -4 1 -5 1 0 1 -5 1 -5 1 -4 1 -5 1 -5 1 -4 1 -5 1 -5 1 -4 1 -5 1 -5 1 -4 1 -5 0 -5 1 -4 1 -5 1 -5 1 -4 1 -2 1zM806 581l5 2 5 1 4 0 5 1 5 0 4 0 5 0 5 -1 4 -1 5 -1 5 0 2 -1 2 0 5 -1 5 -2 4 -2 5 -3 3 -1 1 -5 -4 -2 -5 -2 -1 -1 -3 0 -5 -1 -5 -1 -4 0 -5 0 -5 -1 -4 1 -5 0 -5 1 -4 0 -5 1 -2 0 -3 1 -4 2 -5 2 -5 3 -2 2 -1 4 3 5zM650 506l1 1 5 2 5 1 5 1 4 -1 5 -1 5 0 4 -1 5 0 5 -1 3 -1 1 0 5 -1 5 -2 3 -2 1 0 5 -3 4 -1 1 -1 4 -4 -1 -5 -3 -1 -5 -2 -3 -1 -2 -1 -4 0 -5 0 -5 -1 -4 0 -5 1 -5 0 -4 0 -5 0 -3 1 -2 0 -4 3 -3 1 -2 2 -5 2 -3 1 -2 1 -3 4 -1 4 3 5z"/>
<path fill="#0000ff" fill-rule="evenodd" d="M0 656l5 0 4 0 5 0 5 0 4 0 5 0 2 0 -2 -1 -5 -2 -2 -2 -2 -1 -5 -2 -1 -1 -4 -2 -4 -2 -1 -1 -4 -2 0 2 0 5 0 4 0 5zM1085 651l2 1 5 0 5 1 4 1 5 0 5 0 4 0 5 0 5 0 5 1 4 0 5 0 5 0 4 0 5 0 5 0 4 0 5 1 5 0 4 0 5 0 1 0 4 0 4 0 5 0 5 0 5 0 4 0 5 0 5 0 4 0 5 0 5 0 4 0 5 0 5 0 4 0 5 0 5 0 4 0 5 0 5 0 4 0 5 0 5 0 5 0 4 0 5 0 5 0 4 0 5 0 5 0 4 0 5 0 0 -5 0 -4 0 -5 0 -5 0 -4 0 -5 0 -2 -5 -1 -4 -2 -1 0 -4 -1 -5 -1 -4 -2 -3 0 -2 -1 -5 -1 -4 -1 -5 -1 -3 -1 -2 0 -5 -1 -4 -1 -5 -1 -5 -1 -3 -1 -1 0 -5 -1 -5 -1 -4 0 -5 -1 -5 -1 -4 0 -3 0 -2 -1 -5 0 -4 0 -5 -1 -5 0 -4 -1 -5 0 -5 -1 -5 0 -4 0 -5 0 -5 0 -4 0 -5 0 -5 0 -4 0 -5 0 -5 0 -4 0 -5 0 -5 0 -4 1 -5 0 -5 1 -5 0 -4 1 -5 0 -4 1 -1 0 -4 0 -5 1 -5 1 -4 1 -4 1 -1 1 -5 1 -4 2 -4 1 -1 1 -5 1 -4 2 -2 1 -3 1 -5 3 -5 4 -1 1 -3 3 -2 2 -3 3 -1 1 0 5 1 1 5 1 4 0 5 2 4 1 1 0 5 1 4 1 5 0 5 1 4 0 5 1 5 0 2 0zM1150 572l3 0 5 0 4 1 5 0 5 0 4 1 5 0 5 0 4 0 5 0 5 -1 5 -1 1 0 3 -1 5 0 5 -1 4 0 5 -1 5 0 4 0 5 0 5 -1 4 0 5 0 5 0 4 0 5 0 5 0 4 0 5 0 5 0 5 0 4 1 5 0 5 0 4 0 5 0 5 0 4 0 5 0 0 -2 0 -5 0 -4 0 -5 0 -5 0 -4 0 -5 0 -5 0 -4 0 -5 0 -5 0 -4 0 -5 0 -5 0 -5 0 -4 0 -5 0 -5 0 -4 0 -5 0 -5 0 -4 0 -5 0 -5 0 -4 0 -5 0 -5 0 -4 0 -5 0 -5 0 -5 0 -4 0 -5 0 -5 0 -4 0 -5 0 -5 0 -4 0 -5 0 -5 0 -4 0 -5 0 -5 0 -4 0 -5 0 -5 0 -4 0 -5 0 -5 0 -5 0 -4 0 -5 0 -5 0 -4 0 -5 0 -5 0 -4 0 -5 0 -5 0 -4 0 -5 0 -5 0 -4 0 -5 0 -5 0 -5 0 -4 0 -5 0 -5 0 -4 0 -5 0 -5 0 -4 0 -5 0 -5 0 -4 0 -5 0 -5 0 -4 0 -5 0 -5 0 -5 0 -4 0 -5 0 -5 0 -4 0 -5 0 -5 0 -4 0 -5 0 -5 0 -4 0 -5 0 -5 0 -4 0 -5 0 -5 0 -5 0 -4 0 -5 0 -5 0 -4 0 -5 0 -5 0 -4 0 -5 0 -5 0 -4 0 -5 0 -5 0 -4 0 -5 0 -5 0 -5 0 -4 0 -5 0 -5 0 -4 0 -5 0 -5 0 -4 0 -5 -5 0 -4 0 -5 0 -5 0 -4 0 -5 0 -5 0 -4 0 -5 0 -5 0 -5 0 -4 0 -5 0 -5 0 -4 0 -5 0 -5 0 -4 0 -5 0 -5 0 -4 0 -5 0 -5 0 -4 0 -5 0 -5 0 -4 0 -5 0 -5 0 -5 0 -4 0 -5 0 -5 0 -4 0 -5 0 -5 0 -4 0 -5 0 -5 0 -4 0 -5 0 -5 0 -4 0 -5 0 -5 0 -5 0 -4 0 -5 0 -5 0 -4 0 -5 0 -5 0 -4 0 -5 0 -5 0 -4 0 -5 0 -5 0 -4 0 -5 0 -5 0 -5 0 -4 0 -5 0 -5 0 -4 0 -5 0 -5 0 -4 0 -5 0 -5 0 -4 0 -5 0 -5 0 -4 0 -5 0 -5 0 -5 0 -4 0 -5 0 -5 0 -4 0 -5 0 -5 0 -4 0 -5 0 -5 0 -4 0 -5 0 -5 0 -4 0 -5 0 -5 0 -5 0 -4 0 -5 0 -5 0 -4 0 -5 0 -5 0 -4 0 -5 0 -5 0 -4 0 -5 0 -5 0 -4 0 -5 0 -5 0 -4 0 -5 0 -5 0 -5 0 -4 0 -5 0 -5 0 -4 0 -5 0 -5 0 -4 0 -5 0 -5 0 -4 0 -5 0 -5 0 -4 0 -5 0 -5 0 -5 0 -4 0 -5 0 -5 0 -4 0 -5 0 -5 0 -4 0 -5 0 -5 0 -4 0 -5 0 -5 0 -4 0 -5 0 -5 0 -5 0 -4 0 -5 0 -5 0 -4 0 -5 0 -5 0 -4 0 -5 0 -5 0 -4 0 -5 0 -5 0 -4 0 -5 0 -5 0 -5 0 -4 0 -5 0 -5 0 -4 0 -5 0 -5 0 -4 0 -5 0 -5 0 -4 0 -5 0 -5 0 -4 0 -5 0 -5 0 -5 0 -4 0 -5 0 -5 0 -4 0 -5 0 -5 0 -4 0 -5 0 -5 0 -4 0 -5 0 -5 0 -4 0 -5 0 -5 0 -5 0 -4 0 -5 0 -5 0 -4 0 -5 0 -5 0 -4 0 -5 0 -5 0 -4 0 -5 0 -5 0 -4 0 -5 0 -5 0 -4 0 -5 0 -5 0 -5 0 -4 0 -5 0 -5 0 -4 0 -5 0 -5 0 -4 0 -5 0 -5 0 -4 0 -5 0 -5 0 -4 0 -5 0 -5 0 -5 0 -4 0 -5 0 -5 0 -4 0 -5 0 -5 0 -4 0 -5 0 -5 0 -4 0 -5 0 -5 0 -4 0 -5 0 -5 0 -5 0 -4 0 -5 0 -5 0 -4 0 -5 0 -5 0 -4 0 -5 0 -5 0 -4 0 -5 0 -5 0 -4 0 -5 0 -5 0 -5 0 -4 0 -5 0 -5 0 -4 0 -5 0 -5 0 -4 0 -5 0 -5 0 -4 0 -5 0 -5 0 -4 0 -5 0 -5 0 -5 0 -4 0 -5 0 -5 0 -4 0 -5 0 -5 0 -4 0 -5 0 0 5 0 4 0 5 0 5 0 4 0 5 0 5 0 4 0 5 0 5 0 5 0 4 0 5 0 5 0 4 0 5 0 5 0 4 0 5 0 5 0 4 0 5 0 5 0 4 0 5 0 5 0 5 0 4 0 5 0 5 0 4 0 5 0 5 0 4 0 5 0 5 0 4 0 5 0 5 0 4 0 5 0 5 0 5 0 4 0 5 0 5 0 4 0 5 0 5 0 4 0 5 0 5 0 4 0 5 0 5 0 4 0 5 0 5 0 5 0 4 0 5 0 5 0 4 0 5 0 5 0 4 0 5 0 5 0 4 0 5 0 5 0 4 0 5 0 5 0 5 0 4 0 5 0 5 0 4 0 5 0 5 0 4 0 5 0 5 0 4 0 5 0 5 0 4 0 5 0 5 0 4 0 5 0 5 0 5 0 4 0 5 0 5 0 4 0 5 0 5 0 4 0 5 0 5 0 4 0 5 0 5 0 4 0 5 0 5 0 5 0 4 0 5 0 5 0 4 0 5 0 5 0 4 0 5 0 5 0 4 0 5 0 2 5 0 4 0 5 0 5 -1 4 0 5 0 4 -1 1 0 4 -1 5 0 5 -1 5 0 4 -1 5 -1 3 -1 2 0 4 -2 5 -2 5 -2 4 -2 1 -1 4 -2 4 -3 1 -1 3 -3 1 -2 3 -3 2 -3 1 -2 2 -4 2 -5 2 -5 2 -4 1 0 4 -4 2 -1 3 -1 5 -2 4 -1 1 -1 4 -1 5 -1 4 -1 5 -1 5 0 4 0 2 -1 3 0 5 0 4 -1 5 0 5 -1 4 -1 5 0 4 -1 -1 -5 -3 -2 -2 -3 -3 -1 -4 -3 -5 -3 -2 -2 -3 -2 -2 -3 -2 -3 -1 -1 -3 -5 -1 -4 0 -1 0 -1 1 -3 -1 -3 -1 -2 -4 -2 -1 -3 1 -1 5 -3 5 0 4 0 1 0 4 -2 3 -3 2 0 4 -1 5 -1 5 -1 5 -1 4 -1 1 0 4 0 5 0 4 -1 5 0 5 0 4 0 5 0 5 0 4 0 5 1 5 0 4 1 5 0 5 1 5 0 4 0 5 1 5 0 4 0 5 0 5 0 4 0 5 0 5 -1 4 -1 5 -1 2 0 3 0 4 -1 5 -1 5 -2 2 -1 3 0 4 -1 5 -1 5 -1 4 0 5 -1 1 0 4 -1 4 -1 5 -1 5 -1 4 -1 2 0 3 0 5 -1 4 -1 5 -1 5 -1 4 0 1 -1 4 0 5 -1 5 -1 4 0 5 -1 5 -1 3 0 1 -1 5 0 5 -1 4 -1 5 0 5 -1 4 -1 1 0 4 -1 5 0 4 -1 5 -1 5 -1 5 0 2 -1 2 0 5 -1 5 -1 4 -1 5 0 4 -1 1 -1 4 -2 4 -2 1 -1 3 -4 1 -4 -1 -5 -3 -4 0 -1 -5 -4 -4 -4 -2 -1 -3 -3 -3 -2 -2 -2 -4 -2 0 -1 -5 -4 -1 0 -4 -4 0 -1 -3 -5 -1 -4 2 -5 2 -2 3 -3 2 -1 4 -3 1 -1 4 -3 1 -1 4 -3 2 -2 3 -1 4 -3 0 -1 5 -3 2 -1 3 -2 3 -3 1 -1 5 -3 0 -1 5 -4 4 -5 3 -4 2 -5 0 -1 1 -4 1 -5 1 -4 0 -5 -1 -5 -1 -4 -1 -3 0 -2 -1 -5 -1 -4 -2 -5 -1 -4 0 -1 -1 -4 -1 -5 -2 -4 -1 -1 -4 -4 -5 -4 -2 -1 -2 -1 -5 -2 -5 -1 -3 -1 -1 0 -5 -2 -5 -1 -4 -1 -1 -1 -4 -1 -5 -1 -4 -2 -1 0 -4 -3 -4 -2 -1 -1 -5 -3 0 -1 -4 -3 -2 -1 -3 -5 -2 -5 0 -4 2 -5 0 -1 5 -2 4 -2 5 -1 5 -2 5 -1 1 0 3 -1 5 -1 5 -1 4 -1 5 -1 1 0 4 -1 4 0 5 -1 5 -1 4 -1 5 0 3 -1 2 0 4 0 5 -1 5 0 5 -1 4 0 5 -1 5 0 4 -1 5 0 2 0 3 -1 4 0 5 0 5 -1 4 0 5 0 5 0 4 0 5 -1 5 0 5 0 4 1 5 2 5 1 4 2 5 1 5 2 4 2 3 1 2 1 5 2 2 2 2 2 4 2 1 1 5 3 1 1 3 3 3 2 2 1 4 3 1 1 5 3 1 1 3 3 2 2 3 2 3 2 2 2 3 3 1 1 4 4 1 0 5 4 0 1 4 4 5 5 4 5 1 0 3 4 1 2 3 3 2 3 2 2 3 2 2 2 2 3 2 2 3 3 1 2 4 4 5 5 4 5 4 4 1 2 3 3 2 2 2 3 2 2 2 2 3 4 1 1 4 4 0 1 4 5 4 4 1 2 3 3 2 3 1 2 3 4 1 0 3 5 1 1 2 4 3 4 2 5 2 5 2 4 2 5 1 4 0 1 1 4 1 5 1 5 1 5 1 2 0 2 2 5 1 5 1 4 1 0 1 5 2 5 1 4 2 5 2 5 1 3 0 1 2 5 1 5 1 4 1 2 0 3 1 5 0 4 0 5 0 5 1 5 1 4 1 2 2 3 3 5 3 4 2 1 3 4 1 1 4 4 1 1 5 3 4 4 2 1 3 3 3 2 2 1 4 3 1 0 4 3 3 2 2 1 4 3 1 1 4 3 3 1 2 2 3 3 2 1 4 4 4 5 1 0 3 4 2 4 0 1 3 5 1 2 2 2 3 2 5 2 4 1 5 1 5 2 4 1 2 1 3 0 5 2 4 1 5 1 5 2 5 1 4 1 3 1 2 0 5 2 4 1 5 1 1 1 4 1 4 1 5 1 5 1 4 2 5 1 5 1 4 1 5 1 5 1 5 0 4 1 5 1 5 0 4 1 2 0z"/>
<path fill="#0020ff" fill-rule="evenodd" d="M1134 558l5 0 5 1 4 0 5 0 5 0 4 1 5 0 5 0 4 0 5 0 5 0 4 0 5 0 5 0 5 0 4 -1 5 0 5 0 4 0 5 -1 5 0 4 0 1 0 4 0 5 -1 4 0 5 -1 5 0 4 0 5 0 5 -1 4 0 5 0 5 -1 5 0 4 0 5 0 5 0 4 -1 5 0 4 0 1 0 4 0 5 0 0 -5 0 -4 0 -5 0 -5 0 -4 0 -5 0 -5 0 -4 0 -5 0 -5 0 -5 0 -4 0 -5 0 -5 0 -4 0 -5 0 -5 0 -4 0 -5 0 -5 0 -4 0 -5 0 -5 0 -4 0 -5 0 -5 0 -5 0 -4 0 -5 0 -5 0 -4 0 -5 0 -5 0 -4 0 -5 0 -5 0 -4 0 -5 0 -5 0 -4 0 -5 0 -5 0 -4 0 -5 0 -5 0 -5 0 -4 0 -5 0 -5 0 -4 0 -5 0 -5 0 -4 0 -5 0 -5 0 -4 0 -5 0 -5 0 -4 0 -5 0 -5 0 -5 0 -4 0 -5 0 -5 0 -4 0 -5 0 -5 0 -4 0 -5 0 -5 0 -4 0 -5 0 -5 0 -4 0 -5 0 -5 0 -5 0 -4 0 -5 0 -5 0 -4 0 -5 0 -5 0 -4 0 -5 0 -5 0 -4 0 -5 0 -5 0 -4 0 -5 0 -5 0 -5 0 -4 0 -5 0 -5 0 -4 0 -5 0 -5 0 -4 0 -5 0 -5 0 -4 0 -5 0 -5 0 -4 0 -5 0 -5 0 -5 0 -4 0 -5 0 -5 0 -4 0 -5 0 -5 0 -4 0 -5 -5 0 -4 0 -5 0 -5 0 -4 0 -5 0 -5 0 -4 0 -5 0 -5 0 -5 0 -4 0 -5 0 -5 0 -4 0 -5 0 -5 0 -4 0 -5 0 -5 0 -4 0 -5 0 -5 0 -4 0 -5 0 -5 0 -4 0 -5 0 -5 0 -5 0 -4 0 -5 0 -5 0 -4 0 -5 0 -5 0 -4 0 -5 0 -5 0 -4 0 -5 0 -5 0 -4 0 -5 0 -5 0 -5 0 -4 0 -5 0 -5 0 -4 0 -5 0 -5 0 -4 0 -5 0 -5 0 -4 0 -5 0 -5 0 -4 0 -5 0 -5 0 -5 0 -4 0 -5 0 -5 0 -4 0 -5 0 -5 0 -4 0 -5 0 -5 0 -4 0 -5 0 -5 0 -4 0 -5 0 -5 0 -5 0 -4 0 -5 0 -5 0 -4 0 -5 0 -5 0 -4 0 -5 0 -5 0 -4 0 -5 0 -5 0 -4 0 -5 0 -5 0 -5 0 -4 0 -5 0 -5 0 -4 0 -5 0 -5 0 -4 0 -5 0 -5 0 -4 0 -5 0 -5 0 -4 0 -5 0 -5 0 -4 0 -5 0 -5 0 -5 0 -4 0 -5 0 -5 0 -4 0 -5 0 -5 0 -4 0 -5 0 -5 0 -4 0 -5 0 -5 0 -4 0 -5 0 -5 0 -5 0 -4 0 -5 0 -5 0 -4 0 -5 0 -5 0 -4 0 -5 0 -5 0 -4 0 -5 0 -5 0 -4 0 -5 0 -5 0 -5 0 -4 0 -5 0 -5 0 -4 0 -5 0 -5 0 -4 0 -5 0 -5 0 -4 0 -5 0 -5 0 -4 0 -5 0 -5 0 -5 0 -4 0 -5 0 -5 0 -4 0 -5 0 -5 0 -4 0 -5 0 -5 0 -4 0 -5 0 -5 0 -4 0 -5 0 -5 0 -5 0 -4 0 -5 0 -5 0 -4 0 -5 0 -5 0 -4 0 -5 0 -5 0 -4 0 -5 0 -5 0 -4 0 -5 0 -5 0 -5 0 -4 0 -5 0 -5 0 -4 0 -5 0 -5 0 -4 0 -5 0 -5 0 -4 0 -5 0 -5 0 -4 0 -5 0 -5 0 -4 0 -5 0 -5 0 -5 0 -4 0 -5 0 -5 0 -4 0 -5 0 -5 0 -4 0 -5 0 -5 0 -4 0 -5 0 -5 0 -4 0 -5 0 -5 0 -5 0 -4 0 -5 0 -5 0 -4 0 -5 0 -5 0 -4 0 -5 0 -5 0 -4 0 -5 0 -5 0 -4 0 -5 0 -5 0 -5 0 -4 0 -5 0 -5 0 -4 0 -5 0 -5 0 -4 0 -5 0 -5 0 -4 0 -5 0 -5 0 -4 0 -5 0 -5 0 -5 0 -4 0 -5 0 -5 0 -4 0 -5 0 -5 0 -4 0 -5 0 -5 0 -4 0 -5 0 -5 0 -4 0 -5 0 -5 0 -5 0 -4 0 -5 0 -5 0 -4 0 -5 0 -5 0 -4 0 -5 0 0 5 0 4 0 5 0 5 0 4 0 5 0 5 0 4 0 5 0 5 0 5 0 4 0 5 0 5 0 4 0 5 0 5 0 4 0 5 0 5 0 4 0 5 0 5 0 4 0 5 0 5 0 5 0 4 0 5 0 5 0 4 0 5 0 5 0 4 0 5 0 5 0 4 0 5 0 5 0 4 0 5 0 5 0 5 0 4 0 5 0 5 0 4 0 5 0 5 0 4 0 5 0 5 0 4 0 5 0 5 0 4 0 5 0 5 0 5 0 4 0 5 0 5 0 4 0 5 0 5 0 4 0 5 0 5 0 4 0 5 0 5 0 4 0 5 0 5 0 5 0 4 0 5 0 5 0 4 0 5 0 5 0 4 0 5 0 5 0 4 0 5 0 5 0 4 0 5 0 5 0 4 0 5 0 5 0 5 0 4 0 5 0 5 0 4 0 5 0 5 0 4 0 5 0 5 0 4 0 5 0 5 0 4 0 5 0 5 0 5 0 4 0 5 0 5 0 4 0 5 0 5 0 4 0 5 0 4 5 -1 4 0 5 0 5 -1 4 0 5 -1 5 0 4 -1 1 0 4 -1 5 -1 5 -1 3 -2 1 0 5 -3 2 -1 3 -5 1 -5 0 -4 0 -5 -1 -5 -1 -4 0 -5 0 -5 1 0 2 -5 2 -4 1 0 4 -5 5 -4 0 -1 4 -3 3 -1 2 -2 4 -3 1 0 4 -4 1 -1 4 -4 3 -5 2 -5 3 -4 1 -5 -2 -5 2 -3 5 0 5 -1 1 0 4 -1 4 -2 5 -2 5 -2 4 -1 5 -1 1 -1 4 -1 4 -1 5 -1 5 0 4 -1 5 0 5 -1 4 0 5 -1 5 0 5 -1 4 -1 5 0 5 0 4 0 5 -1 2 0 3 -1 4 0 5 0 5 0 4 0 5 0 5 0 4 0 5 0 5 1 5 0 4 -1 5 0 5 0 4 0 5 0 5 -1 4 -1 5 0 5 -2 4 -1 5 -2 5 -1 1 -1 3 -1 5 -2 5 -1 1 0 4 -1 4 -1 5 -1 5 0 4 -1 5 0 3 -1 2 0 4 -1 5 -1 5 -1 4 -1 3 -1 2 0 5 -1 4 -2 5 -1 5 -2 4 -2 3 -1 2 -1 5 -3 1 -1 4 -3 2 -1 2 -5 -1 -5 -3 -4 -1 0 -4 -4 -1 -1 -4 -4 0 -1 -3 -4 -2 -3 0 -2 0 -5 0 -5 2 -4 3 -5 5 -4 2 -1 3 -1 4 -3 1 0 4 -3 5 -2 4 -2 5 -1 3 -2 2 0 4 -2 5 -2 1 0 4 -2 4 -2 3 -1 2 -1 5 -2 4 -2 5 -3 3 -1 2 -1 5 -3 2 -1 2 -2 4 -3 1 0 3 -4 2 -3 0 -2 1 -5 -1 -5 -5 -4 -5 -2 -4 -1 -5 -2 -2 0 -3 -1 -5 -1 -4 0 -5 0 -5 -1 -4 0 -5 0 -5 0 -4 0 -5 0 -5 -1 -4 0 -5 0 -4 -1 -1 0 -4 0 -5 0 -5 -1 -5 0 -4 -2 -4 -1 -1 -1 -5 -2 -3 -2 -1 -1 -5 -3 -1 -1 -4 -3 -1 -1 -3 -4 -1 -1 -3 -5 -1 -3 0 -1 -1 -5 0 -5 -1 -4 -1 -5 -1 -5 -1 -1 -1 -4 -2 -4 -1 -2 -2 -3 -2 -5 -1 -1 -2 -3 -3 -4 0 -1 -3 -5 -1 -2 -2 -2 -2 -5 -1 -3 -1 -2 -1 -4 -2 -5 0 -5 0 -4 4 -5 5 -3 4 -1 2 -1 3 -1 5 -1 4 -1 5 -1 2 -1 3 0 4 -1 5 0 5 -1 4 -1 5 0 5 -1 4 -1 5 -1 5 0 5 -1 4 0 5 -1 5 0 4 -1 1 0 4 0 5 -1 4 0 5 -1 5 0 4 -1 5 0 5 0 4 -1 5 0 5 -1 1 0 4 0 4 0 5 -1 5 0 4 0 5 -1 5 0 4 0 5 0 5 -1 4 0 5 0 5 0 4 -1 5 0 5 0 5 0 4 0 5 0 5 0 4 0 5 0 5 0 4 0 5 0 5 1 4 0 5 0 5 1 4 0 5 0 5 1 5 1 2 0 2 1 5 1 5 1 4 0 5 1 3 1 2 1 4 1 5 1 4 2 1 0 4 2 5 1 4 1 1 1 4 1 5 2 1 1 4 2 4 3 1 0 4 3 3 2 2 0 5 3 1 1 3 3 3 2 2 2 4 3 1 0 4 4 5 4 1 1 4 4 1 1 3 4 1 0 4 5 4 5 1 0 3 4 1 2 3 3 2 3 1 2 4 4 3 5 2 2 1 3 3 4 1 1 3 4 1 2 1 3 3 5 1 0 2 4 2 3 1 2 3 5 1 1 2 3 3 4 1 1 3 5 0 1 2 3 3 5 3 5 2 3 0 1 3 5 1 2 2 3 3 5 3 4 2 3 1 2 3 4 1 1 4 4 4 5 1 1 3 4 1 1 3 3 2 3 1 2 4 5 4 4 1 2 2 3 2 5 2 4 2 5 1 4 0 1 2 5 2 4 1 3 0 2 2 5 2 4 0 1 2 4 3 5 3 4 2 3 1 2 3 5 0 1 2 3 2 5 1 2 1 3 2 4 1 5 0 5 0 4 0 5 0 5 1 3 0 2 2 4 2 5 4 5 1 0 5 4 4 4 2 1 3 2 5 3 5 2 4 2 0 1 5 1 5 2 2 1 2 1 5 1 5 1 4 1 1 1 4 1 5 1 4 2 1 0 4 3 4 2 1 0 4 4 1 1 2 4 1 5 1 4 0 1 1 5 2 4 2 4 0 1 4 5 1 0 4 3 2 1 3 2 4 3 1 0 4 2 5 2 1 1 4 1 4 2 4 1 1 1 5 1 4 2 5 1 5 1 4 1 5 0 5 1 5 1 4 1z"/>
<path fill="#0050ff" fill-rule="evenodd" d="M1166 548l1 0 5 0 4 0 4 0 1 0 5 0 4 0 5 0 5 0 5 0 4 0 5 -1 5 0 4 0 5 -1 5 0 4 -1 5 0 5 -1 4 0 2 0 3 -1 5 0 4 -1 5 0 5 0 4 -1 5 0 5 0 5 0 4 0 5 -1 5 0 4 0 5 0 5 0 4 -1 5 0 0 -5 0 -4 0 -5 0 -5 0 -4 0 -5 0 -5 0 -5 0 -4 0 -5 0 -5 0 -4 0 -5 0 -5 0 -4 0 -5 0 -5 0 -4 0 -5 0 -5 0 -4 0 -5 0 -5 0 -5 0 -4 0 -5 0 -5 0 -4 0 -5 0 -5 0 -4 0 -5 0 -5 0 -4 0 -5 0 -5 0 -4 0 -5 0 -5 0 -4 0 -5 0 -5 0 -5 0 -4 0 -5 0 -5 0 -4 0 -5 0 -5 0 -4 0 -5 0 -5 0 -4 0 -5 0 -5 0 -4 0 -5 0 -5 0 -5 0 -4 0 -5 0 -5 0 -4 0 -5 0 -5 0 -4 0 -5 0 -5 0 -4 0 -5 0 -5 0 -4 0 -5 0 -5 0 -5 0 -4 0 -5 0 -5 0 -4 0 -5 0 -5 0 -4 0 -5 0 -5 0 -4 0 -5 0 -5 0 -4 0 -5 0 -5 0 -5 0 -4 0 -5 0 -5 0 -4 0 -5 0 -5 0 -4 0 -5 0 -5 0 -4 0 -5 0 -5 0 -4 0 -5 0 -5 0 -5 0 -4 0 -5 0 -5 0 -4 0 -5 0 -5 0 -4 0 -5 -5 0 -4 0 -5 0 -5 0 -4 0 -5 0 -5 0 -4 0 -5 0 -5 0 -5 0 -4 0 -5 0 -5 0 -4 0 -5 0 -5 0 -4 0 -5 0 -5 0 -4 0 -5 0 -5 0 -4 0 -5 0 -5 0 -4 0 -5 0 -5 0 -5 0 -4 0 -5 0 -5 0 -4 0 -5 0 -5 0 -4 0 -5 0 -5 0 -4 0 -5 0 -5 0 -4 0 -5 0 -5 0 -5 0 -4 0 -5 0 -5 0 -4 0 -5 0 -5 0 -4 0 -5 0 -5 0 -4 0 -5 0 -5 0 -4 0 -5 0 -5 0 -5 0 -4 0 -5 0 -5 0 -4 0 -5 0 -5 0 -4 0 -5 0 -5 0 -4 0 -5 0 -5 0 -4 0 -5 0 -5 0 -5 0 -4 0 -5 0 -5 0 -4 0 -5 0 -5 0 -4 0 -5 0 -5 0 -4 0 -5 0 -5 0 -4 0 -5 0 -5 0 -5 0 -4 0 -5 0 -5 0 -4 0 -5 0 -5 0 -4 0 -5 0 -5 0 -4 0 -5 0 -5 0 -4 0 -5 0 -5 0 -4 0 -5 0 -5 0 -5 0 -4 0 -5 0 -5 0 -4 0 -5 0 -5 0 -4 0 -5 0 -5 0 -4 0 -5 0 -5 0 -4 0 -5 0 -5 0 -5 0 -4 0 -5 0 -5 0 -4 0 -5 0 -5 0 -4 0 -5 0 -5 0 -4 0 -5 0 -5 0 -4 0 -5 0 -5 0 -5 0 -4 0 -5 0 -5 0 -4 0 -5 0 -5 0 -4 0 -5 0 -5 0 -4 0 -5 0 -5 0 -4 0 -5 0 -5 0 -5 0 -4 0 -5 0 -5 0 -4 0 -5 0 -5 0 -4 0 -5 0 -5 0 -4 0 -5 0 -5 0 -4 0 -5 0 -5 0 -5 0 -4 0 -5 0 -5 0 -4 0 -5 0 -5 0 -4 0 -5 0 -5 0 -4 0 -5 0 -5 0 -4 0 -5 0 -5 0 -5 0 -4 0 -5 0 -5 0 -4 0 -5 0 -5 0 -4 0 -5 0 -5 0 -4 0 -5 0 -5 0 -4 0 -5 0 -5 0 -4 0 -5 0 -5 0 -5 0 -4 0 -5 0 -5 0 -4 0 -5 0 -5 0 -4 0 -5 0 -5 0 -4 0 -5 0 -5 0 -4 0 -5 0 -5 0 -5 0 -4 0 -5 0 -5 0 -4 0 -5 0 -5 0 -4 0 -5 0 -5 0 -4 0 -5 0 -5 0 -4 0 -5 0 -5 0 -5 0 -4 0 -5 0 -5 0 -4 0 -5 0 -5 0 -4 0 -5 0 -5 0 -4 0 -5 0 -5 0 -4 0 -5 0 -5 0 -5 0 -4 0 -5 0 -5 0 -4 0 -5 0 -5 0 -4 0 -5 0 -5 0 -4 0 -5 0 -5 0 -4 0 -5 0 -5 0 -5 0 -4 0 -5 0 -5 0 -4 0 -5 0 -5 0 -4 0 -5 0 0 5 0 4 0 5 0 5 0 4 0 5 0 5 0 4 0 5 0 5 0 5 0 4 0 5 0 5 0 4 0 5 0 5 0 4 0 5 0 5 0 4 0 5 0 5 0 4 0 5 0 5 0 5 0 4 0 5 0 5 0 4 0 5 0 5 0 4 0 5 0 5 0 4 0 5 0 5 0 4 0 5 0 5 0 5 0 4 0 5 0 5 0 4 0 5 0 5 0 4 0 5 0 5 0 4 0 5 0 5 0 4 0 5 0 5 0 5 0 4 0 5 0 5 0 4 0 5 0 5 0 4 0 5 0 5 0 4 0 5 0 5 0 4 0 5 0 5 0 5 0 4 0 5 0 5 0 4 0 5 0 5 0 4 0 5 0 5 0 4 0 5 0 5 0 4 0 5 0 5 0 4 0 5 0 5 0 5 0 4 0 5 0 5 0 4 0 5 0 5 0 4 0 5 0 5 0 4 0 5 0 2 3 -2 2 -1 4 -2 4 -2 1 0 5 -2 4 -2 5 -2 5 -2 1 -1 3 -1 5 -2 3 -2 2 -1 5 -2 2 -1 2 -2 3 -3 2 -3 1 -2 2 -4 1 -5 1 -5 -1 -4 -3 -5 2 -5 2 0 4 -2 5 -2 2 -1 3 0 4 -1 5 0 5 -1 4 0 5 -1 5 0 4 0 5 0 5 0 5 0 4 0 5 0 5 0 4 0 5 -1 5 0 4 0 5 0 5 -1 4 0 5 -1 5 -1 4 -1 5 -1 3 0 2 0 5 0 4 0 5 0 5 0 4 0 5 -1 5 -1 4 -2 5 0 5 -1 4 0 5 0 5 0 4 0 5 -1 5 0 5 -1 4 -1 5 -1 5 -2 4 -2 2 -1 3 -2 3 -3 2 -3 0 -1 1 -5 -1 -5 -2 -4 -3 -5 0 -1 -2 -4 -2 -4 -1 -4 0 -1 0 -1 1 -4 3 -4 1 -2 4 -3 1 -1 4 -2 5 -2 5 -1 4 -1 5 -1 5 -1 2 -1 2 0 5 0 5 -1 5 -1 4 -1 4 -1 1 0 5 -2 4 -2 3 -1 2 -1 5 -3 1 -1 3 -2 3 -2 2 -3 2 -2 3 -5 1 -4 1 -5 -1 -5 -1 -4 -3 -5 -2 -2 -2 -3 -3 -1 -4 -3 -1 0 -4 -2 -5 -2 -2 -1 -2 -1 -5 -1 -5 -2 -4 -1 -2 0 -3 -1 -5 -1 -5 -1 -2 -2 -2 -4 0 -2 1 -3 -1 -1 -2 -4 -3 -4 -1 -5 0 -5 1 -4 0 -2 2 -3 3 -4 1 -1 3 -2 3 -2 2 -5 0 -4 0 -1 0 -4 0 -3 0 -2 0 -5 -1 -5 -2 -4 -1 -5 -1 0 -1 -5 -2 -4 -1 -2 -2 -3 -3 -4 -1 -1 -4 -4 -4 -5 -1 0 -4 -4 0 -1 -5 -4 -4 -5 -5 -5 -4 -4 -1 -1 -3 -4 -1 -2 -3 -3 -2 -3 -1 -2 -4 -4 -2 -5 -2 -5 -2 -4 1 -5 1 -1 2 -4 2 -1 5 -2 5 -1 1 0 3 -1 5 -1 5 -1 4 0 5 -1 5 0 4 -1 4 0 1 0 5 -1 4 0 5 -1 5 0 5 -1 4 -1 5 0 4 -1 1 0 4 0 5 -1 5 -1 4 0 5 -1 5 -1 4 -1 5 -1 5 -1 4 -2 3 0 2 -1 5 -1 4 -1 5 -2 1 0 4 -1 5 -1 4 -2 3 0 2 -1 5 -1 4 -1 5 -2 2 0 3 -1 4 -1 5 -1 5 -1 4 0 3 -1 2 0 5 -1 4 -1 5 0 5 -1 5 -1 4 0 2 -1 3 0 5 0 4 -1 5 0 5 -1 4 0 5 -1 5 0 4 0 5 -1 5 0 2 0 2 0 5 0 5 -1 5 0 4 0 5 0 5 0 4 -1 5 0 5 0 4 0 5 0 5 0 4 0 5 0 5 0 4 0 5 0 5 0 5 0 4 0 5 0 5 0 4 1 5 0 5 0 4 0 5 0 5 1 2 0 2 0 5 0 5 1 4 0 5 0 5 1 5 0 4 0 5 1 5 0 4 0 5 1 5 0 4 0 0 1 5 0 5 0 4 1 5 0 5 1 4 0 5 0 5 1 5 0 4 0 5 1 1 0 4 1 4 1 5 0 5 1 4 1 5 1 1 0 4 1 4 1 5 2 2 1 3 1 4 3 0 2 1 3 -1 1 -3 4 -1 0 -5 2 -5 2 -4 2 -5 2 -2 1 -3 1 -4 2 -3 2 -2 0 -5 3 -3 1 -1 1 -5 3 -2 1 -3 2 -3 3 -1 1 -5 3 0 1 -4 4 -1 2 -2 3 -1 4 -1 5 -1 2 0 3 0 1 1 4 1 4 2 5 1 2 1 3 4 4 4 5 1 1 3 4 1 1 2 3 3 4 1 1 3 5 1 0 2 4 2 3 2 2 3 5 2 4 3 4 0 1 3 5 1 2 2 3 3 4 0 1 2 4 3 4 0 1 3 4 1 2 3 3 2 2 2 3 3 3 1 1 3 5 4 5 1 2 2 2 2 5 1 2 1 3 1 4 1 5 1 5 2 5 2 4 1 4 0 1 3 5 2 4 3 5 2 2 2 3 2 3 1 1 4 5 4 5 1 1 3 3 1 2 3 3 2 3 1 2 4 4 4 5 4 5 1 1 4 4 1 0 4 4 0 1 5 3 1 1 4 3 1 2 3 2 4 2 1 1 5 3 2 1 3 2 4 3 5 3 2 1 3 3 2 2 2 3 1 2 4 4 0 1 5 4 4 5 0 1 2 3 2 5 0 5 0 4 -2 5 -2 4 -1 1 -1 5 2 3 1 1 4 3 2 2 3 1 4 2 4 2 1 0 5 2 4 2 0 1 5 2 4 2 1 0 5 3 3 2 1 0 5 3 2 1 3 2 4 3 1 0 4 3 3 2 2 1 3 3 1 2 3 3 2 4 0 1 1 4 0 5 -1 3 0 2 -1 5 0 4 1 2 1 3 3 5 1 0 4 4 1 0 4 2 5 2 1 1 3 1 5 2 5 1 1 1 4 0 4 1 5 1 5 0 4 1 5 0 5 1 4 0 4 0zM0 539l0 1 4 -1 1 0 4 -1 5 -2 5 -1 0 -1 2 -4 -1 -5 -1 -1 -3 -4 -2 -1 -5 -3 -4 -3 -3 -2 -2 -2 0 2 0 5 0 4 0 5 0 5 0 4 0 5z"/>
<path fill="#0080ff" fill-rule="evenodd" d="M1163 534l4 1 5 0 4 0 5 0 5 -1 4 0 5 0 5 -1 5 -1 4 -1 5 -1 3 0 2 -1 4 -1 5 -2 3 -1 2 -2 3 -3 1 -3 1 -1 0 -5 -1 -1 -2 -4 -2 -1 -5 -3 -1 -1 -4 -1 -4 -2 -5 -1 -5 -1 -4 0 -5 0 -5 0 -5 -1 -4 0 -5 0 -5 1 -4 1 -5 1 -5 1 -4 1 -5 1 -1 0 -4 2 -4 3 0 1 -4 4 -1 1 -2 4 0 4 2 3 1 2 4 2 4 3 5 1 5 2 4 1 1 0zM1159 473l3 1 5 1 5 0 4 1 5 0 5 0 4 0 5 0 5 1 5 0 4 0 5 0 5 0 4 0 5 0 5 0 4 0 5 -1 5 0 4 0 5 0 5 -1 4 0 5 0 5 -1 4 0 5 0 4 -1 1 0 5 0 4 -1 5 -1 5 -1 4 -1 5 -1 5 -1 4 -1 5 -1 0 -1 0 -5 0 -4 0 -5 0 -5 0 -4 0 -5 0 -5 0 -1 -5 -1 -4 -1 -4 -2 -1 0 -2 -4 2 -5 5 -2 4 -2 3 -1 2 0 0 -4 0 -5 0 -5 0 -4 0 -5 0 -5 0 -4 0 -5 0 -5 0 -4 0 -5 0 -5 0 -4 0 -5 0 -5 0 -5 0 -4 0 -5 0 -5 0 -4 0 -5 0 -5 0 -4 0 -5 0 -5 0 -4 0 -5 0 -5 0 -4 0 -5 0 -5 0 -5 0 -4 0 -5 0 -5 0 -4 0 -5 0 -5 0 -4 0 -5 0 -5 0 -4 0 -5 0 -5 0 -4 0 -5 0 -5 0 -5 0 -4 0 -5 0 -5 0 -4 0 -5 0 -5 0 -4 0 -5 0 -5 0 -4 0 -5 0 -5 0 -4 0 -5 0 -5 0 -5 0 -4 0 -5 0 -5 0 -4 0 -5 0 -5 0 -4 0 -5 0 -5 0 -4 0 -5 0 -5 0 -4 0 -5 0 -5 0 -5 0 -4 -5 0 -4 0 -5 0 -3 0 -2 0 -4 0 -5 0 -5 0 -4 0 -5 -1 -5 0 -5 0 -4 0 -5 0 -5 0 -4 0 -5 0 -5 0 -4 0 -5 -1 -5 0 -4 0 -5 0 -5 0 -4 0 -5 0 -5 0 -4 0 -5 -1 -5 0 -5 0 -4 0 -5 0 -5 0 -4 0 -5 0 -5 1 -4 0 -5 0 -5 0 -4 0 -5 0 -5 0 -4 0 -5 0 -5 0 -5 0 -4 0 -5 0 -5 1 -4 0 -5 0 -5 0 -3 1 -1 0 -5 1 -5 1 -4 0 -5 1 -5 1 -2 0 -2 1 -5 2 -5 1 -2 1 -3 2 -4 2 -2 1 -3 1 -5 3 -2 1 -2 1 -5 3 -5 4 -1 1 -3 2 -3 3 -2 2 -2 2 -3 4 0 1 -4 3 -4 2 -1 0 -5 1 -4 2 -4 1 -1 1 -5 1 -5 2 -2 1 -2 1 -5 1 -5 2 -2 1 -2 0 -5 2 -5 2 -1 0 -3 2 -5 1 -4 2 -1 0 -4 2 -5 2 -1 1 -4 2 -3 2 -1 2 -5 3 0 1 -4 4 -1 4 0 1 0 4 0 1 1 4 1 5 1 4 2 3 1 2 1 5 1 4 1 5 1 3 0 2 0 4 1 5 2 5 1 4 2 5 3 4 0 1 5 4 0 1 4 4 1 0 4 4 1 1 4 3 2 2 2 1 5 3 0 1 5 4 3 5 1 4 0 5 -3 5 -1 1 -3 3 -2 3 -1 2 -4 4 0 1 -4 4 0 1 -3 4 -2 4 0 1 -2 5 -1 4 -1 5 0 5 0 4 2 5 2 5 2 4 3 5 3 5 1 1 3 3 2 3 1 2 4 4 1 1 3 3 1 1 4 4 1 1 4 3 2 2 2 2 4 3 1 0 5 4 1 0 4 3 4 2 5 3 3 2 2 1 3 3 1 1 4 4 1 0 5 3 3 2 1 0 5 3 3 1 2 1 4 3 3 1 2 1 5 2 2 2 2 1 5 2 2 1 3 2 5 2 1 1 3 2 4 3 1 0 5 3 2 1 2 2 4 3 1 1 4 4 1 2 2 2 1 5 -3 1 -5 3 -1 1 0 5 1 2 2 2 3 2 3 3 1 0 5 3 2 2 3 1 4 3 1 0 4 2 5 2 4 1 5 2 5 1 5 1 1 1 3 1 5 1 5 0 4 1 5 1 5 0 1 0zM13 412l1 0 5 1 4 0 5 0 5 1 4 0 5 0 5 0 5 0 4 0 5 0 5 0 4 1 5 0 5 0 4 1 5 0 5 0 4 0 5 0 5 0 4 0 5 0 5 0 5 0 4 0 5 0 5 0 4 1 5 0 5 -1 4 0 5 -2 5 -1 1 -1 3 -1 5 -1 5 0 4 -1 5 -1 5 -3 3 -2 2 -1 4 -1 5 0 5 -1 4 0 5 -1 5 0 4 1 5 2 3 1 2 0 3 0 1 0 5 -4 2 -1 -2 -2 -5 -2 0 -1 5 -2 5 1 4 0 5 -1 3 -2 1 -5 0 -4 -1 -5 -1 -5 -1 -4 0 -5 1 -5 1 -4 2 -3 1 -2 4 -3 2 -2 2 -2 5 -3 5 -3 2 -1 2 -2 5 -2 1 -1 4 -1 4 -2 5 -2 5 -1 4 -2 5 -1 5 -2 4 0 5 -1 5 -2 5 -2 2 -3 2 -2 1 -2 1 -5 -1 -5 -1 -1 -2 -3 -2 -3 -3 -2 -2 -1 -5 -2 -5 -2 -4 -1 -5 -3 0 -1 -5 -3 -1 -1 -3 -4 -2 -1 -3 -3 -2 -2 -3 -3 -1 -1 -3 -5 -3 -5 -2 -4 -2 -5 0 -5 0 -4 1 -5 1 -4 0 -1 2 -4 1 -5 1 -5 1 -4 0 -1 0 -4 0 -5 0 -2 -1 -3 -1 -4 -2 -5 -1 -3 -1 -2 -3 -4 -1 -1 -2 -4 -2 -5 0 -1 -2 -3 -3 -4 -1 -1 -3 -5 -1 0 -4 -4 0 -1 -4 -4 -1 -1 -4 -4 -1 0 -4 -4 -1 -1 -4 -4 -5 -4 -1 -1 -4 -2 -3 -3 -1 0 -5 -3 -1 -1 -4 -3 -3 -2 -1 -1 -5 -3 -1 -1 -4 -2 -3 -2 -1 -1 -5 -4 -1 0 -4 -3 -2 -2 -2 -1 -5 -3 0 -1 -5 -4 -4 -5 -1 0 -3 -4 -1 -2 -3 -3 -2 -3 -2 -2 -3 -3 -1 -1 -3 -3 -4 -2 -1 -1 -5 -2 -4 -1 -2 -1 -3 -1 -5 -1 -4 -2 -5 -1 -5 0 -4 -1 -5 0 -5 -1 -5 -1 -4 0 -5 -1 -5 0 -4 0 -5 0 -5 0 -2 0 -2 0 -5 0 -5 0 -4 0 -5 0 -5 0 -4 0 -5 0 -5 0 -5 0 -4 0 -5 0 -5 0 -4 0 -5 0 -5 0 -4 0 -5 0 0 4 0 5 0 5 0 5 0 4 0 5 0 5 0 4 0 5 0 5 0 4 0 5 0 5 0 4 0 5 0 5 0 4 0 5 0 5 0 5 0 4 0 5 0 5 0 4 0 5 0 5 0 4 0 5 0 5 0 4 0 5 0 5 0 4 0 5 0 5 0 5 0 4 0 5 0 5 0 4 0 5 0 5 0 4 0 5 0 5 0 4 0 5 0 5 0 4 0 5 0 5 0 5 0 4 0 5 0 5 0 4 0 5 0 5 0 4 0 5 0 5 0 4 0 5 0 5 0 4 0 5 0 5 0 5 0 4 0 5 0 5 0 4 0 5 0 5 0 4 0 5 0 5 0 4 0 5 0 5 0 4 5 0 4 0 4 0zM416 0l1 0 5 2 4 -1 4 -1 -4 0 -4 0 -5 0 -1 0z"/>
<path fill="#00acff" fill-rule="evenodd" d="M1211 445l3 1 5 0 4 1 5 -1 5 0 2 -1 2 0 5 -2 5 -2 4 -5 0 -5 0 -5 0 -4 2 -5 3 -3 3 -2 2 0 4 -1 5 -1 5 -2 2 0 2 -1 5 -1 5 0 5 -1 4 0 5 -1 5 0 4 -1 5 0 5 0 4 0 5 0 0 -5 0 -4 0 -5 0 -5 0 -4 0 -5 0 -5 0 -4 0 -5 0 -5 0 -4 0 -5 0 -5 0 -5 0 -4 0 -5 0 -5 0 -4 0 -5 0 -5 0 -4 0 -5 0 -5 0 -4 0 -5 0 -5 0 -4 0 -5 0 -5 0 -5 0 -4 0 -5 0 -5 0 -4 0 -5 0 -5 0 -4 0 -5 0 -5 0 -4 0 -5 0 -5 0 -4 0 -5 0 -5 0 -5 0 -4 0 -5 0 -5 0 -4 0 -5 0 -5 0 -4 0 -5 0 -5 0 -4 0 -5 0 -5 0 -1 -5 0 -4 -1 -5 -1 -5 -1 -4 0 -5 -2 -5 -2 -4 -1 -1 0 -4 -1 -5 -1 -5 -1 -4 -1 -4 -1 1 -5 -2 0 -5 -1 -4 0 -5 -1 -5 -2 -4 -4 -3 -1 -2 -1 -5 -3 -1 -1 -3 -4 0 -5 0 -5 0 -1 -1 -3 -4 -4 -2 -1 -3 -1 -4 -2 -5 -1 -5 0 -4 -1 -5 0 -5 0 -5 0 -4 0 -5 0 -5 0 -4 1 -5 1 -5 0 -4 1 -5 1 -3 1 -2 1 -4 4 -3 4 -2 5 -3 5 -2 2 -2 2 -2 2 -5 1 -4 2 -1 0 -5 2 -4 1 -5 1 -4 1 -1 0 -4 1 -5 1 -5 1 -4 1 -4 0 -1 1 -5 1 -4 1 -5 1 -3 1 -2 1 -4 1 -5 1 -5 1 -2 1 -3 1 -4 1 -5 1 -5 1 0 1 -4 1 -5 1 -5 1 -3 1 -1 1 -5 1 -4 3 -1 0 -4 4 -1 1 -4 3 -2 1 -3 3 -3 2 -1 2 -3 3 -2 2 -2 2 -3 4 0 1 -3 5 -1 4 -1 1 0 4 0 5 0 4 1 0 2 5 2 3 1 2 4 3 2 2 3 2 4 2 3 -4 2 -2 3 -3 2 -1 4 -2 5 1 3 2 2 3 0 2 0 3 -1 1 -4 5 -5 1 -4 0 -5 0 -5 0 -1 4 -1 4 -1 5 0 5 1 4 2 5 4 5 1 1 2 3 -2 5 -5 3 -2 2 -2 2 -4 2 -1 2 -5 3 -5 4 -1 1 -3 3 -2 2 -3 2 -2 2 -3 4 -1 1 -2 5 -1 4 0 5 0 1 0 4 2 4 1 5 1 2 2 3 3 4 1 0 4 4 0 1 4 4 2 1 3 3 3 1 2 2 5 3 4 3 3 2 2 1 4 4 1 0 4 3 2 1 3 2 5 2 1 1 3 2 5 2 1 1 4 1 4 2 2 1 3 1 5 3 3 1 1 1 5 2 5 2 5 1 4 2 4 1 1 1 5 1 4 2 3 1 2 1 5 1 4 1 5 2 5 1 4 1 5 1 5 0 4 0 5 0 5 -1 5 0 4 0 5 0 5 -1 4 0 5 0 5 0 4 1 5 0 5 1 4 1 3 0 2 1 5 2 3 2 1 2 4 3 1 1 3 3 1 5 0 5 0 4 0 5 0 5 1 3 1 2 4 2 4 2 2 0zM85 408l4 0 5 1 4 0 5 0 5 1 4 -1 5 0 5 0 5 0 4 0 5 -1 4 0 1 0 4 -2 5 -2 5 0 4 0 5 0 5 0 4 -1 2 0 3 0 5 -1 4 -2 2 -2 3 -2 5 -2 1 0 4 -1 4 0 5 -2 3 -2 2 -2 2 -3 2 -1 4 -3 1 -2 2 -3 2 -5 1 -1 1 -3 1 -5 1 -5 1 -4 4 -5 1 -2 3 -3 2 -2 2 -3 2 -1 5 -3 5 -3 3 -2 1 -1 5 -2 2 -2 3 -1 5 -1 4 -2 1 0 4 -2 3 -3 2 -1 3 -4 1 -1 4 -3 1 -1 5 -3 1 -1 3 -4 1 -1 0 -4 -1 -4 0 -1 -4 -5 0 -1 -4 -3 -1 -1 -4 -4 -1 -1 -4 -4 0 -1 -5 -4 -5 -4 -4 -4 -1 -1 -4 -3 -2 -2 -3 -2 -2 -2 -3 -3 -2 -2 -2 -2 -4 -3 -1 -1 -4 -3 -1 -1 -4 -4 -4 -5 -1 -2 -3 -2 -2 -1 -4 -3 -3 -1 -2 -1 -5 -2 -4 -1 -5 0 -4 -1 -1 0 -4 0 -5 -1 -5 0 -5 0 -4 0 -5 -1 -5 0 -4 0 -5 0 -5 -1 -4 0 -5 0 -5 -1 -4 0 -5 0 -2 0 -3 -1 -4 0 -5 -1 -5 0 -5 0 -4 -1 -5 0 -5 -1 -4 -1 -5 -2 -5 -1 -4 -1 -2 -1 -3 -1 -5 -3 0 -1 -4 -4 -1 0 -4 -5 -3 -5 -2 -3 -1 -1 -2 -5 -1 -2 -3 -3 -2 -3 -2 -1 -3 -2 -5 -2 -4 -1 -1 0 -4 -1 -5 -2 -4 -1 -1 -1 -4 -1 -5 -1 -4 -2 -4 0 -1 -1 0 1 0 4 0 5 0 5 0 4 0 5 0 5 0 4 0 5 0 5 0 4 0 5 0 5 0 5 0 4 0 5 0 5 0 4 0 5 0 5 0 4 0 5 0 5 0 4 0 5 0 5 0 4 0 5 0 5 0 5 0 4 0 5 0 5 0 4 0 5 0 5 0 4 0 5 0 5 0 4 0 5 0 5 0 4 0 5 0 5 0 5 0 4 0 5 0 5 0 4 0 5 0 5 0 4 0 5 0 5 0 4 0 5 0 1 5 0 4 0 5 0 5 1 4 0 5 0 5 0 4 0 5 1 5 0 5 0 4 0 5 0 5 0 4 0 5 1 5 0 4 1 1 0zM66 94l4 1 5 1 5 1 4 0 5 0 5 0 4 0 5 -1 5 -1 2 -1 2 -2 4 -3 1 -5 -2 -4 -3 -2 -3 -3 -1 0 -5 -2 -5 -2 -4 -1 -1 0 -4 0 -5 -1 -4 0 -5 0 -5 1 -3 0 -1 1 -5 2 -2 2 -2 5 0 4 3 5 1 1 5 3 0 1z"/>
<path fill="#00dcfe" fill-rule="evenodd" d="M42 398l5 1 4 -1 1 0 4 -1 5 -2 3 -1 2 -1 4 0 3 1 2 0 5 1 4 1 5 1 5 0 4 1 5 0 1 0 4 1 4 0 5 -1 1 0 4 0 5 -1 4 0 5 -1 5 0 4 0 5 -1 5 0 3 -1 1 -1 5 -3 5 0 4 1 5 1 5 -1 4 -1 4 -1 1 0 5 -1 5 -3 0 -1 4 -4 0 -1 4 -4 1 -3 1 -2 0 -4 1 -5 3 -5 2 -4 2 -3 2 -2 3 -4 0 -1 4 -5 1 0 4 -4 5 -5 5 -4 0 -1 4 -4 1 0 4 -4 1 -1 4 -4 1 -1 3 -4 1 0 4 -5 3 -5 2 -4 0 -5 0 -4 0 -1 -3 -4 -2 -3 -1 -2 -4 -3 -1 -2 -3 -3 -2 -2 -3 -2 -2 -2 -3 -3 -2 -2 -2 -2 -4 -3 -1 0 -5 -4 -4 -3 -3 -2 -2 -1 -5 -3 -1 -1 -3 -2 -5 -2 -5 -3 -4 -2 -1 0 -4 -2 -5 -2 -2 -1 -3 -1 -4 -1 -5 -1 -5 -1 -4 0 -2 0 -3 -1 -5 0 -4 -1 -5 0 -5 0 -4 -1 -5 0 -5 0 -4 -1 -5 0 -5 -1 -5 0 -2 0 -2 0 -5 -1 -5 0 -4 -1 -5 0 -5 -1 -4 0 -5 -1 -4 -1 -1 0 -4 -1 -5 -1 -5 -1 -4 -1 -2 0 -3 -1 -5 -2 -4 -2 -1 -1 -4 -3 -2 -1 -3 -2 -2 -3 -3 -2 -1 -2 -3 -5 -4 -5 -1 0 -4 -4 -1 -1 -4 -3 -2 -1 -3 -2 0 2 0 5 0 4 0 5 0 5 0 4 0 5 0 5 0 5 0 4 0 5 0 5 0 4 0 5 0 5 0 4 0 5 0 5 0 4 0 5 0 5 0 4 0 5 0 5 0 5 0 4 0 5 0 5 0 4 0 5 0 5 0 4 0 5 0 5 0 4 0 5 0 5 0 4 0 5 0 5 0 5 0 4 0 5 0 5 0 4 0 5 0 5 0 4 0 5 0 5 0 2 5 0 4 1 5 0 5 0 4 0 5 1 5 0 4 0 5 0zM1176 389l5 0 5 1 4 0 5 1 5 0 5 0 4 0 5 0 5 0 4 0 5 0 5 0 4 0 5 0 5 0 4 0 5 0 5 0 4 0 5 0 5 0 4 -1 5 0 5 0 5 0 4 0 5 0 5 0 4 0 5 -1 5 0 4 0 5 0 0 -5 0 -4 0 -5 0 -5 0 -4 0 -5 0 -5 0 -4 0 -5 0 -5 0 -5 0 -4 0 -5 0 -5 0 -4 0 -5 0 -5 0 -4 0 -5 0 -5 0 -4 0 -5 0 -5 0 -4 0 -5 0 -5 0 -5 0 -4 0 -5 0 -5 0 -4 0 -5 0 -5 0 -4 0 -5 0 -5 0 -4 0 -5 0 -5 0 -4 0 -5 0 -5 0 -5 0 -4 0 -5 0 -5 0 -4 0 -5 0 -5 0 -4 0 -5 0 -1 -5 -1 -4 -1 -5 -1 -5 -1 -4 0 -5 -1 -5 -1 -4 -1 -5 -1 -5 0 -2 0 -3 -1 -4 0 -5 -1 -5 0 -4 0 -5 -1 -5 0 -4 0 -5 -1 -5 0 -4 0 -5 0 -5 -1 -4 0 -5 0 -5 1 -4 0 -5 1 -5 0 -5 1 -4 1 -5 1 -1 0 -4 0 -4 1 -5 2 -4 1 -1 2 -4 0 -3 -2 -2 0 -5 -1 -4 0 -5 0 -5 0 -4 -1 -5 0 -5 -1 -5 -1 -4 0 -5 0 -5 0 -4 0 -5 0 -5 0 -4 0 -5 0 -5 1 -4 1 -5 1 -3 1 -2 1 -4 2 -5 2 -1 0 -4 3 -1 2 -1 4 2 3 2 2 3 1 5 2 4 2 5 1 5 0 4 1 5 0 5 1 4 1 1 0 4 2 5 2 1 1 -1 2 -1 3 -4 4 -5 5 -4 5 0 1 -4 4 -1 1 -3 3 -2 1 -4 4 -5 3 -2 2 -3 1 -4 3 -2 0 -3 1 -5 2 -5 2 -4 2 -5 1 -4 2 -1 0 -4 2 -5 2 -2 0 -3 2 -4 3 0 5 0 2 -1 2 -3 5 -1 1 -5 3 -1 1 -3 3 -2 1 -1 5 3 4 0 1 0 2 -2 3 -3 1 -5 2 -1 1 -3 4 -1 1 -4 4 0 1 -4 4 -1 2 -1 3 0 5 1 4 0 1 2 4 3 4 0 1 5 4 4 4 2 1 3 2 3 3 2 1 4 3 0 1 5 4 1 0 4 3 3 2 1 0 5 3 5 2 4 2 5 2 2 0 3 2 4 1 5 2 5 2 5 1 4 2 5 1 5 2 4 1 5 2 5 1 4 1 2 1 3 1 5 1 4 1 5 2 5 1 4 1 5 1 5 0 5 1 1 0 3 1 5 1 5 0 4 1 5 0 5 1 4 0 5 0 5 1 4 0zM1139 203l-3 -1 -2 -1 -2 -4 -2 -3 -2 -2 -3 -4 -1 -1 -4 -4 -5 -4 -1 -1 -3 -4 -1 -1 1 0 4 -3 1 -1 4 -3 5 -2 5 -2 4 -1 5 -1 3 -1 2 0 4 -2 5 -1 5 2 0 1 4 3 5 1 0 1 0 5 -5 3 -2 1 -2 1 -4 4 -1 1 -3 4 -2 1 -2 3 -2 5 0 1 -3 4 -1 5 -1 1z"/>
<path fill="#1cffdb" fill-rule="evenodd" d="M42 389l5 0 5 0 4 -1 5 -2 5 -2 1 0 3 0 5 0 5 0 4 0 2 0 3 0 5 1 4 0 5 0 5 0 4 -1 1 0 4 0 5 0 5 0 4 0 5 -1 5 0 4 -1 5 -1 2 -1 3 -2 4 -3 5 -2 3 -3 2 -1 4 -3 0 -1 5 -3 5 1 4 1 3 -3 2 -3 2 -2 3 -4 3 -5 2 -4 0 -1 3 -5 1 -1 3 -3 2 -3 2 -2 3 -3 1 -2 3 -3 1 -1 4 -4 1 -1 4 -3 1 -2 3 -3 2 -1 3 -4 0 -1 4 -5 1 -2 1 -2 1 -5 1 -5 -2 -4 -1 -4 -1 -1 -3 -5 -1 -1 -3 -4 -2 -1 -2 -3 -2 -2 -3 -3 -2 -1 -4 -4 -1 0 -4 -4 -1 0 -4 -3 -4 -2 -1 -1 -4 -2 -4 -2 -1 0 -5 -2 -5 -1 -4 -1 -5 -1 -5 -1 -4 -1 -5 -1 -5 0 -4 -1 -2 0 -3 0 -5 -1 -4 -1 -5 0 -5 -1 -4 0 -5 -1 -5 0 -5 -1 -4 0 -5 -1 -5 0 -4 0 -5 -1 -5 0 -4 -1 -5 -1 -3 0 -2 -1 -4 -1 -5 0 -5 -1 -4 -1 -5 -1 -1 0 -4 -1 -5 -1 -4 -2 -4 -1 -1 0 -5 -1 -4 -1 -5 -2 -3 0 -2 -1 -4 -1 -5 -2 0 4 0 4 0 5 0 5 0 4 0 5 0 5 0 4 0 5 0 5 0 4 0 5 0 5 0 4 0 5 0 5 0 5 0 4 0 5 0 5 0 4 0 5 0 5 0 4 0 5 0 5 0 4 0 5 0 5 0 4 0 5 0 5 0 5 0 4 0 5 0 5 0 4 0 5 0 5 0 4 0 2 5 0 4 0 5 1 5 0 4 1 5 0 5 0 4 1 5 0zM1156 380l2 0 4 0 5 0 5 0 4 1 5 0 5 0 4 0 5 1 5 0 5 0 4 0 5 0 5 0 4 0 5 0 5 0 4 0 5 0 5 -1 4 0 5 0 5 0 4 0 5 0 5 0 4 -1 5 0 5 0 5 0 4 0 5 0 5 0 4 0 5 0 5 0 4 0 5 0 0 -5 0 -5 0 -4 0 -5 0 -5 0 -4 0 -5 0 -5 0 -5 0 -4 0 -5 0 -5 0 -4 0 -5 0 -5 0 -4 0 -5 0 -5 0 -4 0 -5 0 -5 0 -4 0 -5 0 -5 0 -5 0 -4 0 -5 0 -5 0 -4 0 -5 0 -5 0 -4 0 -5 0 -5 0 -4 0 -5 0 -5 0 -4 0 -5 0 -5 0 -5 0 -4 0 -5 0 -5 0 -4 0 -4 -4 -1 -1 0 -4 -1 -5 -1 -5 -1 -4 -1 -5 0 -1 -1 -4 0 -4 -1 -5 0 -5 -1 -5 0 -4 0 -5 0 -5 0 -4 0 -5 0 -5 0 -4 0 -5 1 -5 0 -4 1 -1 0 -4 1 -5 2 -4 2 -5 3 -2 2 -3 2 -2 2 -2 4 -2 1 -3 4 -1 1 -4 3 -1 1 -4 3 -3 2 -1 1 -5 2 -3 2 -2 0 -4 3 -3 2 -2 0 -5 2 -4 1 -2 1 -3 4 0 1 -2 5 -3 3 -1 1 -3 2 -5 -2 -4 -4 -1 -2 -4 -3 -1 0 -4 -2 -5 0 -5 1 -1 1 -3 2 -4 3 -1 0 -5 3 -2 1 -2 2 -5 2 -2 1 -3 1 -4 2 -3 2 -2 1 -5 2 -3 1 -1 1 -5 2 -4 2 -1 0 -4 3 -5 2 -5 2 -5 2 -4 2 -5 2 -2 1 -3 1 -4 2 -4 2 -1 0 -5 3 -4 1 1 5 2 5 0 5 -2 4 -1 2 -3 3 -2 2 -3 3 -2 1 -3 3 -1 2 -2 3 0 5 1 4 1 1 1 4 3 4 1 1 4 4 1 0 4 4 2 1 2 2 5 3 5 2 3 2 1 1 5 2 3 2 2 1 4 2 4 2 1 0 5 2 5 2 0 1 4 1 5 2 3 1 2 1 4 2 5 1 1 1 4 1 4 2 5 2 5 1 4 2 4 1 1 1 5 1 4 1 5 1 4 1 1 0 5 1 4 0 5 1 5 1 4 1 5 0 3 1z"/>
<path fill="#43ffb4" fill-rule="evenodd" d="M49 380l3 0 1 0 3 -1 5 -1 5 -1 4 1 5 0 5 0 4 1 5 0 5 0 4 0 5 0 5 0 4 0 5 0 5 0 5 -1 4 0 5 0 5 -1 4 -1 3 -1 2 -1 5 -2 2 -2 2 -1 5 -3 4 -5 1 -1 2 -4 2 -4 1 0 2 -5 2 -4 0 -1 3 -5 2 -1 3 -3 1 -2 3 -3 2 -1 3 -4 2 -1 3 -3 2 -2 4 -3 5 -4 1 -1 4 -3 1 -1 3 -4 1 -1 3 -5 1 -1 2 -3 1 -5 0 -5 -1 -4 -2 -5 -3 -5 -2 -3 -1 -2 -3 -3 -2 -1 -3 -3 -2 -2 -3 -2 -3 -3 -1 -1 -5 -2 -2 -1 -3 -2 -5 -2 -2 -1 -2 -1 -5 0 -5 -1 -4 -1 -5 -1 -4 -1 -1 0 -4 0 -5 -1 -5 -1 -4 0 -5 -1 -5 -1 -4 0 -1 0 -4 -1 -5 -1 -5 0 -4 -1 -5 -1 -5 0 -4 -1 -5 0 -5 -1 -4 0 -5 -1 -5 0 -4 -1 -5 -1 -5 0 -4 -1 -5 0 -5 -1 -5 0 -4 0 -5 -1 -5 0 -4 0 -5 -1 -5 0 -4 -1 0 -1 -5 -1 0 2 0 4 0 5 0 5 0 4 0 5 0 5 0 4 0 5 0 5 0 4 0 5 0 5 0 5 0 4 0 5 0 5 0 4 0 5 0 5 0 4 0 5 0 5 0 4 0 5 0 5 0 4 0 5 0 5 0 5 0 4 0 5 0 5 0 4 0 5 0 1 5 0 4 1 5 0 5 0 4 1 5 0 5 0 4 1 5 0 5 0 2 1zM1234 370l3 0 5 1 5 0 4 0 5 0 5 0 4 1 5 0 5 0 4 0 5 0 5 0 5 1 4 0 5 0 5 0 4 0 5 1 5 0 4 0 5 0 0 -4 0 -4 0 -5 0 -5 0 -4 0 -5 0 -5 0 -5 0 -4 0 -5 0 -5 0 -4 0 -5 0 -5 0 -4 0 -5 0 -5 0 -4 0 -5 0 -5 0 -4 0 -5 0 -5 0 -5 0 -4 0 -5 0 -5 0 -4 0 -5 0 -5 0 -4 0 -5 0 -5 0 -4 0 -5 0 -5 0 -4 0 -5 0 -5 0 -1 -5 -2 -4 -2 -5 0 -5 -1 -4 -1 -5 -1 -5 0 -4 -1 -3 0 -2 0 -5 -1 -5 0 -4 0 -5 0 -5 -1 -4 0 -5 1 -5 0 -4 0 -4 1 -1 0 -5 0 -4 1 -5 2 -5 1 -4 2 -5 2 -2 1 -3 2 -4 2 -2 1 -3 2 -5 2 0 1 -5 2 -4 2 -1 0 -4 2 -5 2 -1 1 -3 1 -5 2 -3 2 -2 0 -4 3 -3 1 -2 2 -3 3 -2 2 -4 2 -5 0 -5 -3 -3 -1 -1 -1 -5 0 -1 1 -4 2 -3 3 -2 0 -4 3 -2 1 -3 3 -4 2 -1 0 -4 3 -3 2 -2 1 -5 3 -4 3 -4 2 -1 1 -5 2 -2 2 -2 1 -5 3 -1 0 -4 3 -4 2 -5 3 -3 2 -2 1 -5 3 -1 1 -3 1 -4 3 -1 1 -4 4 -1 1 -2 4 0 4 0 5 2 4 1 1 3 4 1 1 4 4 1 1 4 4 5 4 1 0 4 4 2 1 3 2 4 3 5 3 3 1 2 1 4 3 3 1 2 1 5 2 4 2 5 2 5 2 2 1 2 0 5 2 5 1 4 1 5 1 5 1 5 1 4 1 4 1 1 0 5 1 4 1 5 1 5 0 4 1 5 0 5 0 3 1 1 0 5 0 5 1 4 0 5 1 5 0 5 0 4 1 5 0 5 0 4 1 5 0 5 0 1 0z"/>
<path fill="#6aff8d" fill-rule="evenodd" d="M84 370l5 0 5 1 4 0 5 -1 5 0 1 0 3 -1 5 -1 5 -2 4 0 1 0 4 1 5 1 5 0 4 -1 5 -1 2 0 3 -2 3 -3 0 -5 -3 -4 0 -3 -2 -2 2 -3 0 -2 3 -5 1 -1 2 -3 3 -3 2 -2 3 -2 4 -3 5 -2 5 -2 4 -4 2 -1 3 -3 2 -2 3 -2 3 -2 2 -2 2 -3 2 -2 2 -3 3 -4 0 -1 1 -4 1 -5 -1 -4 -1 -4 -1 -1 -3 -5 -1 -1 -3 -4 -1 -1 -4 -3 -1 -1 -5 -4 -5 -2 -4 -3 -5 -1 -5 -1 -4 -1 -4 -1 -1 0 -5 -1 -4 -1 -5 -1 -5 0 -4 -1 -5 -1 -5 -1 -4 0 -5 -1 -5 -1 -5 -1 -4 0 -1 -1 -4 0 -5 -1 -4 0 -5 -1 -5 0 -4 -1 -5 -1 -5 0 -2 0 -2 -1 -5 0 -5 -1 -4 0 -5 -1 -5 0 -5 0 -4 0 -5 -1 -5 0 -4 0 -5 0 -5 -1 -4 0 -4 0 -1 0 0 5 0 4 0 5 0 5 0 4 0 5 0 5 0 4 0 5 0 5 0 5 0 4 0 5 0 5 0 4 0 5 0 5 0 4 0 5 0 5 0 4 0 5 0 5 0 4 0 5 0 5 0 5 0 4 0 5 0 4 5 0 4 0 5 0 2 1 3 0 4 0 5 0 5 1 4 0 5 0 5 1 5 0 4 0 5 0 5 0 4 1 5 0 5 1 4 0zM1314 366l3 0 5 0 4 0 5 1 0 -1 0 -5 0 -5 0 -4 0 -5 0 -5 0 -5 0 -4 0 -5 0 -5 0 -4 0 -5 0 -5 0 -4 0 -5 0 -5 0 -4 0 -5 0 -5 0 -4 0 -5 0 -5 0 -5 0 -4 0 -5 0 -5 0 -4 0 -5 0 -5 0 -4 0 -5 0 -5 0 -4 0 -3 -5 -1 -3 -1 -1 0 -5 -1 -5 -1 -4 -1 -5 -1 -5 0 -2 -1 -2 0 -5 -1 -5 0 -5 0 -4 -1 -5 0 -5 0 -4 -1 -5 1 -5 0 -4 0 -5 0 -5 0 -4 1 -5 1 -1 0 -4 1 -4 1 -5 2 -3 1 -2 1 -4 1 -5 2 -1 1 -4 1 -5 3 -1 0 -3 2 -5 2 -5 0 -4 0 -5 1 -5 3 -2 2 -2 4 -1 0 -4 4 -1 1 -4 3 -4 2 -5 4 -1 0 -4 3 -2 2 -2 2 -4 3 -1 0 -5 4 -5 4 -1 1 -3 2 -4 3 -1 0 -5 3 -2 2 -2 1 -5 3 -1 0 -4 3 -3 2 -1 1 -5 3 -1 1 -4 2 -3 2 -1 2 -3 3 -2 5 1 4 4 5 4 5 5 3 1 1 4 3 3 2 1 1 5 2 2 2 3 1 4 2 4 1 1 1 5 1 4 2 4 1 1 1 5 1 5 1 4 2 1 0 4 1 5 1 4 1 5 1 3 1 2 0 4 0 5 1 5 0 4 1 5 0 5 1 4 0 5 1 4 0 1 0 5 1 4 0 5 1 5 0 4 0 5 1 5 0 4 1 5 0 5 0 4 1 3 0 2 0 5 0 4 1 5 0 5 0 4 1 5 0 5 0 5 1 4 0 5 1 5 0 4 0 2 1z"/>
<path fill="#8dff6a" fill-rule="evenodd" d="M1326 356l5 1 0 -1 0 -4 0 -5 0 -5 0 -5 0 -4 0 -5 0 -5 0 -4 0 -5 0 -5 0 -4 0 -5 0 -5 0 -4 0 -5 0 -5 0 -4 0 -5 0 -5 0 -5 0 -4 0 -5 0 -5 0 -4 0 -5 0 -5 0 -4 0 -4 -5 0 -3 -1 -1 0 -5 -1 -5 -1 -4 -1 -5 -1 -5 0 -3 -1 -1 0 -5 0 -5 -1 -5 0 -4 0 -5 0 -5 0 -4 0 -5 0 -5 0 -4 1 -4 0 -1 0 -5 1 -4 1 -5 1 -5 1 -3 1 -1 0 -5 2 -5 2 -1 1 -3 2 -4 2 -1 1 -5 2 -3 2 -2 1 -3 4 -1 0 -4 4 -1 1 -2 4 -1 5 0 4 1 5 2 3 1 2 4 4 0 1 4 3 2 1 3 3 3 2 2 2 4 3 1 0 4 3 2 1 3 2 5 2 1 1 3 1 5 3 2 1 3 1 4 3 5 5 5 5 3 4 1 2 3 3 2 3 2 2 3 1 4 3 1 0 4 2 5 3 4 2 5 2 3 1 2 1 5 1 4 1 5 1 1 1 4 0 4 1 5 1 5 1 4 1zM0 347l0 3 5 0 4 0 5 -1 5 0 4 0 5 0 5 0 4 0 5 0 5 0 5 0 4 0 5 -1 5 0 4 0 5 -1 5 0 1 0 3 0 5 -1 5 0 4 -1 5 -1 5 -1 2 -1 2 -1 5 -2 5 -2 5 -2 3 -2 1 -1 4 -4 1 0 5 -4 0 -1 4 -2 5 -2 2 0 3 -1 4 -2 5 -2 5 -3 4 -2 5 -3 2 -1 3 -3 3 -2 1 -1 4 -4 1 -1 2 -3 3 -5 0 -2 0 -3 0 -3 0 -1 -3 -5 -2 -3 -1 -2 -4 -2 -2 -3 -2 -1 -5 -2 -2 -1 -3 -1 -4 -2 -5 -1 -3 -1 -2 0 -4 -1 -5 -1 -5 -1 -4 -1 -5 0 -1 -1 -4 0 -4 -1 -5 -1 -5 -1 -5 0 -4 -1 -1 0 -4 -1 -5 -1 -4 0 -5 -1 -5 -1 -4 0 -5 -1 -5 -1 -4 0 -5 -1 -5 -1 -4 0 -5 0 -5 -1 -5 0 -4 0 -5 0 -5 0 -4 -1 -2 0 -3 0 -5 0 -4 0 -5 0 0 5 0 5 0 4 0 5 0 5 0 4 0 5 0 5 0 5 0 4 0 5 0 5 0 4 0 5 0 5 0 4 0 5 0 5 0 4 0 5 0 5 0 4 0 5 0 5zM1208 337l1 1 5 0 5 0 2 -1 2 -1 5 -3 0 -3 0 -2 -5 -2 -4 -2 -3 -1 -2 -1 -5 -2 -3 -1 -1 -1 -5 -1 -5 0 -5 0 -4 0 -5 0 -5 0 -4 1 -3 1 -2 1 -5 2 -3 -3 -1 0 -5 -2 -5 -2 -4 0 -5 1 -5 3 -1 0 -3 3 -2 1 2 1 4 1 5 2 3 1 2 0 4 0 1 0 4 -1 5 -2 4 -1 5 1 5 3 4 2 5 3 5 1 4 1 5 1 5 0 5 1 3 0z"/>
<path fill="#b4ff43" fill-rule="evenodd" d="M48 323l4 1 4 0 5 0 5 0 3 -1 1 0 5 0 5 0 4 -1 5 0 5 -2 3 -1 1 -1 5 -3 3 -1 2 -1 4 -2 4 -2 1 0 5 -2 5 -2 4 -2 5 -2 4 -1 1 0 4 -2 5 -1 5 -1 4 -1 5 -2 5 -2 4 -5 0 -1 2 -4 -2 -3 0 -1 -4 -5 -1 0 -4 -2 -5 -2 -1 -1 -3 -1 -5 -1 -5 -1 -4 -1 -1 -1 -4 0 -5 -1 -4 -2 -5 -1 -2 0 -3 -1 -5 -1 -4 -1 -5 -1 -4 -1 -1 0 -4 -1 -5 -1 -5 0 -4 -1 -5 -1 -3 -1 -2 0 -4 -1 -5 -1 -5 0 -4 -1 -5 0 -5 -1 -5 0 -4 0 -3 0 -2 0 -5 -1 -4 0 -5 0 -5 0 -4 0 -5 0 0 1 0 4 0 5 0 5 0 4 0 5 0 5 0 5 0 4 0 5 0 5 0 4 0 5 0 5 0 4 0 1 5 1 4 1 5 2 1 0 4 1 4 2 5 1 3 1 2 0 4 2 5 1 5 1 1 0zM1311 300l1 0 5 1 5 1 4 2 5 0 0 -4 0 -5 0 -4 0 -5 0 -5 0 -4 0 -5 0 -5 0 -5 0 -4 0 -5 0 -5 0 -4 0 -5 0 -5 -5 0 -4 0 -5 0 -5 0 -4 0 -5 0 -5 0 -4 0 -5 0 -5 0 -5 0 -4 0 -5 0 -5 0 -2 0 -2 0 -5 1 -5 0 -4 1 -5 2 -5 1 -4 2 -5 2 -2 1 -3 1 -4 2 -4 1 -1 2 -3 3 1 5 2 3 2 1 3 3 3 2 1 1 5 2 3 2 2 1 4 2 4 2 1 0 5 2 4 1 2 1 3 1 5 2 4 2 1 0 4 2 5 1 4 2 5 2 5 1 3 1 2 1 4 1 5 1 5 1 3 1z"/>
<path fill="#dbff1c" fill-rule="evenodd" d="M40 300l2 0 5 1 5 1 4 0 5 0 5 0 4 -1 5 0 3 -1 2 -1 4 -2 5 -2 5 -3 3 -1 1 -2 4 -3 1 -4 1 -1 -1 -1 -2 -3 -3 -3 -4 -2 -5 -2 -5 -2 -1 -1 -3 -1 -5 -2 -5 -1 -1 -1 -3 0 -5 -1 -5 -1 -4 -1 -5 -1 -1 0 -4 -1 -5 0 -4 -1 -5 0 -5 0 -4 0 -5 0 -5 0 -4 0 -5 -1 0 3 0 4 0 5 0 5 0 5 0 4 0 5 0 2 5 1 4 2 5 1 5 1 4 2 1 0 4 1 5 2 4 1 3 1zM1325 277l1 0 5 2 0 -2 0 -5 0 -5 0 -5 0 -4 0 -5 -4 0 -1 0 -4 1 -5 1 -5 0 -4 1 -5 1 -5 1 -4 2 -4 2 4 5 1 0 3 1 5 1 5 2 2 1 2 1 5 1 5 2 3 1z"/>
</g>
<use href="#coast" class="c"/>
</g>
<rect class="fr" x="78.45" y="1117.50" width="1331.05" height="656.15"/>
<rect x="78.45" y="1816.50" width="61.10" height="65.80" fill="#000096"/>
<rect x="138.95" y="1816.50" width="61.10" height="65.80" fill="#0000cd"/>
<rect x="199.45" y="1816.50" width="61.10" height="65.80" fill="#0000ff"/>
<rect x="259.96" y="1816.50" width="61.10" height="65.80" fill="#0020ff"/>
<rect x="320.46" y="1816.50" width="61.10" height="65.80" fill="#0050ff"/>
<rect x="380.96" y="1816.50" width="61.10" height="65.80" fill="#0080ff"/>
<rect x="441.46" y="1816.50" width="61.10" height="65.80" fill="#00acff"/>
<rect x="501.97" y="1816.50" width="61.10" height="65.80" fill="#00dcfe"/>
<rect x="562.47" y="1816.50" width="61.10" height="65.80" fill="#1cffdb"/>
<rect x="622.97" y="1816.50" width="61.10" height="65.80" fill="#43ffb4"/>
<rect x="683.47" y="1816.50" width="61.10" height="65.80" fill="#6aff8d"/>
<rect x="743.98" y="1816.50" width="61.10" height="65.80" fill="#8dff6a"/>
<rect x="804.48" y="1816.50" width="61.10" height="65.80" fill="#b4ff43"/>
<rect x="864.98" y="1816.50" width="61.10" height="65.80" fill="#dbff1c"/>
<rect x="925.48" y="1816.50" width="61.10" height="65.80" fill="#feed00"/>
<rect x="985.98" y="1816.50" width="61.10" height="65.80" fill="#ffc100"/>
<rect x="1046.49" y="1816.50" width="61.10" height="65.80" fill="#ff9400"/>
<rect x="1106.99" y="1816.50" width="61.10" height="65.80" fill="#ff6c00"/>
<rect x="1167.49" y="1816.50" width="61.10" height="65.80" fill="#ff3f00"/>
<rect x="1227.99" y="1816.50" width="61.10" height="65.80" fill="#ff1600"/>
<rect x="1288.50" y="1816.50" width="61.10" height="65.80" fill="#cd0000"/>
<rect x="1349.00" y="1816.50" width="60.50" height="65.80" fill="#960000"/>
<rect class="fr" x="78.45" y="1816.50" width="1331.05" height="65.80"/>
<path class="tk" d="M78.45 1882.30v14.6M259.96 1882.30v14.6M441.46 1882.30v14.6M622.97 1882.30v14.6M804.48 1882.30v14.6M985.98 1882.30v14.6M1167.49 1882.30v14.6M1349.00 1882.30v14.6"/>
<text class="l" x="77.9" y="1944.2">0.0</text>
<text class="l" x="259.4" y="1944.2">7.5</text>
<text class="l" x="440.9" y="1944.2">15.0</text>
<text class="l" x="622.4" y="1944.2">22.5</text>
<text class="l" x="803.9" y="1944.2">30.0</text>
<text class="l" x="985.4" y="1944.2">37.5</text>
<text class="l" x="1166.9" y="1944.2">45.0</text>
<text class="l" x="1348.4" y="1944.2">52.5</text>
</g>
<g>
<text class="t" x="743.0" y="2077.8">Plasmasphere (h=1500.0 km), 2004-06-09 03:00 UT</text>
<g transform="translate(78.45 2102.50)" clip-path="url(#cp)">
<g shape-rendering="crispEdges">
<rect x="0" y="0" width="1331.05" height="656.15" fill="#0000c8"/>
<path fill="#0040ff" fill-rule="evenodd" d="M252 623l1 0 5 1 4 0 5 0 5 0 5 0 4 0 5 0 5 0 4 0 5 0 5 1 4 0 5 0 5 -1 4 0 5 0 5 0 4 0 5 0 5 0 5 0 4 0 5 -1 5 0 4 0 5 0 5 0 4 0 5 0 5 -1 4 -1 5 0 5 -1 4 0 5 -1 5 0 1 0 3 -1 5 0 5 -1 5 -1 4 -1 3 -1 2 -1 5 -1 4 -1 5 -2 5 -1 4 -2 5 -1 1 0 4 -2 4 -1 5 -2 5 -3 4 -2 5 -3 2 -1 3 -3 1 -2 2 -5 0 -5 2 -4 4 -3 5 -1 2 -1 3 -1 4 -1 5 -1 5 -1 4 0 5 0 5 0 4 0 5 0 5 0 4 0 5 0 5 0 5 0 4 0 5 0 5 0 4 0 5 0 5 0 4 0 5 0 5 0 4 0 5 0 5 0 4 0 5 0 5 0 1 -1 4 -2 1 -2 3 -3 2 -2 3 -2 3 -3 2 -1 4 -3 5 -4 2 -1 3 -2 3 -3 1 -1 5 -3 0 -1 5 -3 1 -1 3 -3 3 -2 2 -2 4 -2 1 -1 4 -4 5 -4 2 -1 3 -1 5 -2 4 -2 5 -1 5 -2 2 -1 2 -1 5 -2 5 -1 1 -1 3 -1 5 -2 4 -2 1 0 4 -2 5 -1 4 -1 1 -1 4 -1 5 -1 5 0 5 -1 2 -1 2 0 5 -1 5 -1 4 -1 5 -1 3 -1 2 0 4 -1 5 -1 5 -1 4 -1 3 0 2 -1 5 -1 4 -1 5 -1 5 -1 1 0 3 -1 5 -1 5 -1 5 -1 4 -1 5 -1 5 -1 4 -1 5 -1 4 0 1 -1 4 -1 5 -1 5 0 4 -1 5 -1 5 0 4 0 5 0 5 -1 5 0 4 0 5 0 5 -1 4 0 5 0 5 0 4 0 5 -1 5 0 4 0 5 0 5 0 4 0 5 0 5 0 5 0 4 0 5 0 5 0 4 0 5 0 5 0 4 0 5 0 5 0 4 0 5 1 5 0 4 0 5 0 5 0 5 0 4 0 5 1 5 0 4 1 5 1 5 0 4 1 5 1 5 0 4 1 5 1 5 1 4 1 5 1 3 1 2 1 5 1 4 2 5 1 5 2 4 2 2 1 3 1 5 3 4 4 3 1 2 2 3 3 2 2 1 2 0 5 -1 3 -2 2 -3 2 -5 2 0 1 -4 2 -5 2 -2 0 -3 1 -4 0 -5 1 -5 1 -4 1 -5 1 -1 0 -4 1 -5 0 -4 1 -5 1 -5 1 -1 1 -3 1 -5 2 -5 1 -2 0 -2 1 -5 1 -5 0 -4 0 -5 1 -5 1 -3 1 -1 0 -5 1 -5 2 -5 1 0 1 -4 1 -5 1 -5 2 -2 0 -2 1 -5 2 -4 2 -1 1 -4 3 -1 1 -4 3 -3 1 -2 2 -2 3 -2 5 2 4 2 5 5 5 5 2 4 2 2 0 3 2 5 2 4 1 5 2 5 1 4 1 5 1 2 0 3 0 5 1 4 0 5 1 5 1 4 1 5 0 0 1 5 0 4 1 5 0 5 1 4 0 5 1 5 0 4 1 5 0 1 0 4 1 5 0 4 1 5 0 5 1 4 1 5 0 3 1 2 0 4 1 5 1 5 0 4 1 5 1 5 0 4 1 1 0 4 0 5 1 4 0 5 1 5 0 5 0 4 1 5 0 5 1 4 0 5 1 5 0 4 0 5 1 0 -2 0 -4 0 -5 0 -5 0 -4 0 -5 0 -5 0 -5 0 -4 0 -5 0 -5 0 -4 0 -5 0 -5 0 -4 0 -5 0 -5 0 -4 0 -5 0 -5 0 -4 0 -5 0 -5 0 -5 0 -4 0 -5 0 -5 0 -4 0 -5 0 -5 0 -4 0 -5 0 -5 0 -4 0 -5 0 -5 0 -4 0 -5 0 -5 0 -5 0 -4 0 -5 0 -5 0 -4 0 -5 0 -5 0 -4 0 -5 0 -5 0 -4 0 -5 0 -5 0 -4 0 -5 0 -5 0 -4 0 -5 0 -5 0 -5 0 -4 0 -5 0 -5 0 -4 0 -5 0 -5 0 -4 0 -5 0 -5 0 -4 0 -5 0 -5 0 -4 0 -5 0 -5 0 -5 0 -4 0 -5 0 -5 0 -4 0 -5 0 -5 0 -4 0 -5 0 -5 0 -4 0 -5 0 -5 0 -4 0 -5 0 -5 0 -5 0 -4 0 -5 0 -5 0 -4 -5 0 -4 0 -5 0 -5 0 -4 0 -5 0 -5 1 -4 0 -5 0 -5 0 -5 0 -4 0 -5 0 -5 0 -4 0 -5 -1 -5 0 -4 -1 -5 -1 -5 0 -4 -1 -5 -1 -5 0 -4 -1 -5 -1 -5 0 -4 -1 -5 -1 -5 0 -5 -1 -2 -1 -2 0 -5 -1 -5 0 -4 -1 -5 -1 -5 0 -4 -1 -5 1 -5 0 -4 1 -5 0 -5 1 -4 1 -5 0 -5 1 -5 1 -4 0 -5 1 -5 1 -4 1 -1 0 -4 1 -5 1 -4 1 -5 1 -5 1 -4 1 -5 1 -5 0 -4 1 -5 1 -5 0 -5 -1 -4 0 -5 0 -5 0 -4 1 -5 0 -5 0 -4 0 -5 -1 -5 0 -4 0 -5 0 -5 -1 -4 0 -5 0 -5 -1 -5 0 -4 0 -5 -1 -5 0 -4 0 -3 0 -2 0 -5 -1 -4 0 -5 0 -5 -1 -4 0 -5 0 -5 -1 -4 0 -5 0 -5 -1 -5 0 -4 0 -5 0 -5 -1 -3 0 -1 0 -5 -1 -5 0 -4 0 -5 0 -5 -1 -4 0 -5 0 -5 -1 -4 0 -5 0 -5 -1 -4 0 -5 0 -5 0 -2 -1 -3 0 -4 0 -5 -1 -5 0 -4 0 -5 0 -5 -1 -4 0 -5 0 -5 0 -4 0 -5 0 -5 1 -4 0 -5 0 -5 0 -5 0 -4 1 -5 0 -5 0 -4 0 -5 0 -5 0 -4 0 -5 0 -5 0 -4 0 -5 -1 -5 0 -4 0 -5 -1 -5 -1 -5 -1 -3 0 -1 0 -5 -1 -5 0 -4 -1 -5 0 -5 0 -4 -1 -5 0 -5 0 -4 -1 -5 0 -5 0 -4 -1 -5 0 -5 0 -5 0 -4 0 -5 0 -5 0 -3 0 -1 0 -5 0 -5 0 -4 0 -5 0 -5 -1 -4 0 -5 0 -5 0 -4 0 -5 0 -5 0 -5 0 -4 1 -5 0 -5 0 -4 0 -5 0 -5 0 -4 0 -5 0 -5 0 -4 0 -5 0 -5 0 -4 1 -5 0 -5 1 -5 0 -4 1 -5 1 -5 0 -4 1 -5 0 -5 1 -4 0 -5 1 -5 1 -4 1 -2 0 -3 1 -5 1 -4 2 -5 1 -1 0 -4 1 -4 1 -5 1 -5 1 -1 1 -4 1 -4 0 -5 1 -5 1 -4 1 -5 0 -5 1 -4 1 -5 0 -5 1 -4 1 -5 0 -5 1 -4 0 -5 -1 -5 0 -5 0 -4 0 -5 0 -5 0 -4 0 -5 0 -5 0 -4 0 -5 0 -5 0 -4 0 -5 -1 -5 0 -4 0 -5 0 -5 0 -5 0 -4 -1 -5 0 -5 0 -4 0 -5 0 -5 0 -4 -1 -5 0 -5 0 -4 0 -5 0 -5 0 -4 0 -5 -1 -1 0 -4 0 -5 0 -4 0 -5 0 -5 0 -4 -1 -5 0 -5 0 -4 0 -5 0 -5 0 -4 -1 -5 0 -5 0 -4 0 -5 0 -5 0 -5 -1 -4 0 -5 0 -5 0 -4 0 -5 0 -5 -1 -4 0 -5 0 0 4 0 5 0 5 0 4 0 5 0 5 0 5 0 4 0 5 0 5 0 4 0 5 0 5 0 4 0 5 0 5 0 4 0 5 0 5 0 4 0 5 0 5 0 5 0 4 0 5 0 5 0 4 0 5 0 5 0 4 0 5 0 5 0 4 0 5 0 5 0 4 0 5 0 5 0 5 0 4 0 5 0 5 0 4 0 5 0 5 0 4 0 5 0 5 0 4 0 5 0 5 0 4 0 5 0 5 0 4 0 5 0 5 0 5 0 4 0 5 0 5 0 4 0 5 0 5 0 4 0 5 0 5 0 4 0 5 0 5 0 4 0 5 0 5 0 5 0 4 0 5 0 5 0 4 0 5 0 5 0 4 0 5 0 5 0 4 0 5 0 5 0 4 0 5 0 5 0 5 0 4 0 5 0 5 0 4 0 2 5 0 4 0 5 0 5 0 4 0 5 1 5 1 4 0 5 0 5 0 5 0 3 1 1 0 5 0 5 1 4 0 5 0 5 0 4 1 5 0 5 0 4 0 5 1 5 0 4 0 5 0 5 1 5 0 4 0 5 0 3 1 2 0 4 0 5 0 5 0 4 1 5 0 5 0 4 0 5 1 5 0 4 0 5 0 5 0 5 1 4 0 5 0 5 0 4 0 5 1 5 0 4 0 5 0 5 0 4 0 4 0z"/>
<path fill="#00c0ff" fill-rule="evenodd" d="M275 520l2 0 4 1 5 0 5 1 4 0 5 0 5 1 4 0 5 0 5 0 4 0 5 0 5 0 4 0 5 0 5 0 5 0 4 -1 5 0 5 0 4 0 5 0 5 0 4 0 5 0 5 -1 4 0 5 -1 5 0 4 -1 5 0 5 -1 4 0 5 -1 5 0 5 -1 4 0 2 0 3 -1 5 0 4 -1 5 0 5 -1 4 0 5 0 5 -1 4 0 5 -1 2 0 3 0 4 -1 5 0 5 -1 5 0 4 -1 5 0 5 -1 4 0 5 -1 2 0 3 0 4 0 5 -1 5 0 4 0 5 -1 5 0 4 0 5 -1 5 0 5 0 4 -1 5 0 5 0 4 0 1 -1 4 0 5 0 4 -1 5 0 5 -1 4 0 5 -1 5 0 4 -1 5 0 2 0 3 0 5 -2 4 -2 2 -1 3 -1 5 -2 3 -2 1 0 5 -2 5 -1 2 -1 2 -1 5 -2 5 -2 4 -1 5 -2 4 -2 1 0 4 -2 5 -1 4 -1 1 -1 5 -1 4 -2 3 -1 2 -1 5 -1 4 -2 2 -1 3 -1 5 -1 4 -1 4 -1 1 -1 5 -1 4 -1 5 -1 4 -1 1 0 4 -2 5 -1 5 -1 3 -1 2 0 4 -1 5 -2 5 -1 1 0 3 -1 5 -2 5 -1 3 -1 1 -1 5 -1 5 -1 4 -2 5 -1 5 -2 4 -1 2 -1 3 -1 5 -1 4 -1 3 -1 2 -1 5 -1 5 -2 3 -1 1 0 5 -2 5 -1 4 0 5 -1 3 -1 2 0 4 0 5 0 2 0 3 1 4 0 5 0 5 1 4 0 5 1 5 0 5 0 4 1 5 0 5 0 4 0 5 0 5 1 4 0 4 0 1 0 5 0 4 1 5 0 5 0 4 -1 5 0 5 0 5 0 4 0 5 0 1 0 4 0 4 0 5 0 5 0 4 0 5 0 5 0 4 -1 5 0 5 0 4 0 5 0 5 0 5 0 4 0 5 0 5 0 4 0 5 0 5 0 4 0 5 0 5 0 4 0 5 0 5 0 4 0 5 0 5 0 5 0 4 1 5 0 3 0 2 0 4 0 5 1 5 0 4 1 5 1 5 1 2 1 2 0 5 1 5 2 4 1 3 0 2 1 5 2 4 1 3 1 2 1 5 2 5 2 4 2 5 2 2 1 3 1 4 2 4 1 1 1 5 2 4 1 2 1 3 1 0 -1 0 -5 0 -4 0 -5 0 -5 0 -5 0 -4 0 -5 0 -5 0 -4 0 -5 0 -5 0 -4 0 -5 0 -5 0 -4 0 -5 0 -5 0 -4 0 -5 0 -5 0 -4 0 -5 0 -5 0 -5 0 -4 0 -5 0 -5 0 -4 0 -5 0 -5 0 -4 0 -5 0 -5 0 -4 0 -5 0 -5 0 -4 0 -5 0 -5 0 -5 0 -4 0 -5 0 -5 0 -4 0 -5 0 -5 0 -4 0 -5 0 -5 0 -4 0 -5 0 -5 0 -4 0 -3 -5 0 -4 0 -5 0 -5 0 -4 0 -5 1 -5 0 -4 0 -5 0 -5 0 -5 0 -4 1 -5 0 -5 0 -4 0 -5 0 -5 1 -4 0 -5 0 -5 0 -4 0 -5 1 -5 0 -4 0 -5 0 -5 0 -4 0 -5 0 -5 -1 -5 0 -2 0 -2 -1 -5 0 -5 -1 -4 0 -5 -1 -5 0 -4 -1 -5 -1 -2 0 -3 -1 -4 -1 -5 -1 -5 -1 -2 -1 -2 0 -5 -2 -5 -1 -5 0 -4 0 -5 1 -5 1 -4 1 -5 1 -5 1 -4 1 -5 1 -4 1 -1 0 -4 1 -5 0 -5 1 -4 1 -5 1 -5 0 -2 1 -3 0 -4 1 -5 0 -5 0 -4 1 -5 -1 -5 0 -4 0 -5 0 -5 -1 -4 0 -5 0 -5 0 -4 0 -5 0 -5 0 -5 1 -4 1 -5 0 -5 1 -4 1 -4 0 -1 0 -5 1 -4 1 -5 1 -5 0 -4 1 -3 1 -2 1 -5 1 -4 1 -5 1 -2 1 -3 0 -5 1 -4 2 -5 1 -3 0 -2 1 -4 0 -5 1 -5 0 -4 -1 -5 0 -5 0 -4 0 -5 -1 -1 0 -4 0 -4 0 -5 0 -5 -1 -4 0 -5 0 -5 -1 -5 0 -4 0 -5 0 -5 0 -4 1 -3 1 -2 1 -5 4 -4 3 -3 2 -2 1 -5 3 -4 3 -5 2 -5 3 -4 2 -5 1 -5 1 -5 -1 -4 -1 -2 0 -3 -1 -5 -2 -4 -1 -3 -1 -2 -1 -5 -1 -4 -3 -1 0 -4 -2 -4 -2 -1 -1 -4 -2 -4 -2 -1 -1 -5 -3 0 -1 -4 -4 -1 0 -4 -3 -5 -2 -5 -1 -4 -1 -5 -2 -5 -1 -4 -1 -5 -1 -5 -1 -4 -1 -5 0 -5 0 -4 -1 -5 0 -5 0 -4 -1 -5 0 -5 0 -5 -1 -4 0 -5 0 -5 0 -4 0 -5 0 -5 1 -4 0 -5 0 -5 0 -4 0 -5 1 -5 0 -4 0 -5 0 -5 1 -5 0 -4 0 -5 0 -5 1 -4 0 -5 1 -5 0 -4 1 -5 1 -4 0 -1 0 -4 1 -5 0 -5 1 -4 1 -5 1 -5 1 -5 1 -4 1 -5 1 -5 1 0 1 -4 1 -5 1 -5 1 -4 1 -1 0 -4 1 -5 2 -4 1 -3 1 -2 0 -5 2 -4 1 -5 2 -5 1 -4 1 -5 2 -2 0 -3 1 -5 1 -4 1 -5 1 -5 1 -1 0 -3 0 -5 1 -5 1 -4 0 -5 1 -5 1 -4 0 -5 0 -5 1 -4 -1 -5 0 -5 0 -5 -1 -4 0 -5 0 -5 -1 -4 0 -5 -1 -5 0 -4 -1 -1 0 -4 -1 -5 -1 -4 -1 -5 -1 -2 -1 -3 0 -4 -1 -5 -1 -5 -1 -4 -1 -1 -1 -4 -1 -5 -1 -5 -1 -4 -1 -1 0 -4 -1 -5 -1 -4 -1 -5 -1 -3 -1 -2 0 -4 -1 -5 -1 -5 -1 -4 -1 -3 0 -2 -1 -5 -1 -5 -1 -4 -1 -5 -1 -3 0 -2 0 -4 -1 -5 -1 -5 -1 -4 -1 -5 -1 -5 0 -4 -1 -5 0 -5 0 -4 -1 -5 0 -5 -1 -5 0 -4 0 -5 -1 -5 0 -4 0 -1 0 -4 -1 -5 0 -4 0 -5 -1 0 2 0 4 0 5 0 5 0 4 0 5 0 5 0 4 0 5 0 5 0 4 0 5 0 5 0 4 0 5 0 5 0 5 0 4 0 5 0 5 0 4 0 5 0 5 0 4 0 5 0 5 0 4 0 5 0 5 0 4 0 5 0 5 0 5 0 4 0 5 0 5 0 4 0 5 0 5 0 4 0 5 0 5 0 4 0 5 0 5 0 4 0 5 0 5 0 4 0 5 0 5 0 5 0 4 0 5 0 5 0 4 0 5 0 1 5 2 4 1 2 1 3 1 5 2 4 1 1 0 4 2 5 2 3 1 1 1 5 1 5 2 3 1 2 0 4 2 5 2 5 2 4 2 4 1 1 0 5 2 4 1 5 0 5 1 4 1 1 0 4 1 5 0 4 1 5 1 5 1 5 0 4 1 5 1 5 1 4 0 5 1 5 1 1 0 3 1 5 0 5 1 4 1 5 0 5 1 4 0 4 1 1 0 5 1 5 0 4 1 5 1 5 0 4 1 5 0 0 1 5 0 4 1 5 0 5 1 4 0 5 0 5 1 4 0 5 1 5 0 3 0z"/>
<path fill="#49ffad" fill-rule="evenodd" d="M252 492l1 0 5 1 4 0 5 0 5 0 5 0 4 1 5 0 5 0 4 0 5 0 5 0 4 0 5 0 5 0 4 1 5 0 5 0 4 0 5 0 5 0 5 0 4 0 5 0 5 0 4 0 5 0 5 -1 4 0 5 0 5 -1 4 0 5 0 5 -1 4 0 5 0 5 -1 4 0 5 0 5 -1 5 0 4 -1 5 -1 5 0 1 -1 3 0 5 -1 5 -1 4 0 5 -1 5 -1 1 0 3 -1 5 -1 5 0 4 -1 5 -1 5 -1 1 0 4 -1 4 -1 5 -1 5 -1 2 -1 2 0 5 -2 5 -1 4 -1 1 0 4 -1 5 -2 4 -1 5 -1 5 -1 4 -2 5 -1 3 -1 2 0 5 -2 4 -1 4 -1 1 -1 5 -2 4 -2 1 0 4 -2 5 -2 2 -1 2 -1 5 -2 3 -1 2 -1 4 -2 4 -2 1 0 5 -3 4 -2 1 0 4 -2 5 -2 0 -1 4 -4 1 -1 1 -4 0 -5 1 -4 1 -5 0 -5 1 -4 0 -5 0 -5 -1 -4 0 -5 0 -5 -1 -4 -1 -5 0 -5 -1 -4 1 -5 1 -5 0 -5 0 -4 -1 -5 -1 -3 -2 -2 -3 -2 -5 -2 -5 -2 -4 -2 -1 -1 -4 -2 -5 -2 -1 -1 -3 -1 -5 -2 -3 -1 -2 -1 -4 -2 -5 -2 -5 -2 -4 -2 -4 -1 -1 0 -5 -2 -4 -1 -3 -1 -2 -1 -5 -2 -5 -1 -1 -1 -3 -1 -5 -2 -5 -1 -3 -1 -1 0 -5 -2 -5 -1 -4 -1 0 -1 -5 -1 -5 -1 -4 -2 -2 0 -3 -1 -5 -1 -4 -2 -5 -1 -1 0 -4 0 -5 -1 -4 -1 -5 -1 -5 -1 -4 0 -1 -1 -4 0 -5 -1 -4 -1 -5 0 -5 -1 -4 0 -5 0 -5 0 -4 0 -5 0 -5 0 -5 -1 -4 0 -5 0 -5 1 -4 0 -5 1 -5 0 -4 1 -5 1 -5 0 -4 1 -5 1 -5 0 -4 1 -5 1 -5 1 -1 0 -3 1 -5 1 -5 1 -5 1 -4 1 -2 0 -3 1 -5 0 -4 1 -5 1 -5 1 -3 1 -1 0 -5 0 -5 1 -4 0 -5 1 -5 0 -4 1 -5 0 -5 1 -5 0 -4 0 -5 -1 -5 0 -4 -1 -5 0 -5 -1 -4 -1 -4 0 -1 -1 -5 0 -4 -1 -5 -1 -5 -1 -4 -1 -2 0 -3 -1 -5 -1 -5 -2 -4 -1 -5 -1 -5 -1 -4 -2 -4 -1 -1 0 -5 -1 -4 -1 -5 -1 -3 -1 -2 -1 -4 -1 -5 -1 -5 -1 -2 -1 -2 -1 -5 -1 -5 -1 -5 -1 -3 -1 -1 0 -5 -1 -5 -1 -4 -1 -5 -1 -5 -1 -4 -1 -5 -2 -5 -1 -1 0 -3 -1 -5 -1 -5 -1 -4 -1 -5 0 -2 -1 -3 0 -5 0 -4 -1 -5 0 -5 -1 -4 0 -5 -1 -5 0 -4 -1 -5 0 0 4 0 5 0 5 0 4 0 5 0 5 0 4 0 5 0 5 0 5 0 4 0 5 0 5 0 4 0 5 0 5 0 4 0 5 0 5 0 4 0 5 0 5 0 4 0 5 0 5 0 5 0 4 0 5 0 5 0 4 0 5 0 5 0 4 0 5 0 5 0 4 0 5 0 5 0 4 0 5 0 5 0 4 0 2 5 1 4 2 3 0 2 1 5 1 4 1 5 1 2 1 3 1 4 1 5 1 5 1 1 1 4 1 4 1 5 2 1 0 4 2 4 2 3 1 2 1 5 1 4 2 1 1 4 1 5 2 3 1 1 1 5 2 5 1 3 1 1 0 5 2 5 1 5 1 2 1 2 0 5 2 5 1 4 1 1 0 4 1 5 2 4 1 5 1 5 1 4 2 5 1 5 1 4 0 5 1 5 1 5 0 4 1 5 1 5 0 1 0 3 1 5 0 5 1 4 1 5 0 5 1 4 1 4 0zM1320 408l2 0 4 2 5 2 0 -4 0 -5 0 -5 0 -4 0 -5 0 -5 0 -4 0 -5 0 -5 0 -4 0 -5 0 -5 0 -4 0 -5 0 -5 0 -5 0 -4 0 -5 0 -5 0 -4 0 -5 0 -5 0 -4 0 -5 0 -5 0 -4 0 -5 0 -5 0 -4 0 -5 0 -5 0 -5 0 -4 0 -5 0 -5 0 -4 0 -5 0 -5 0 -4 0 -2 -5 0 -4 0 -5 -1 -5 0 -4 0 -5 0 -5 -1 -4 0 -5 0 -5 0 -5 0 -4 0 -5 0 -5 0 -4 1 -5 0 -5 0 -4 0 -5 0 -5 0 -4 0 -5 0 -5 1 -4 0 -5 0 -5 0 -4 1 -5 0 -5 0 -5 0 -4 0 -5 0 -5 -1 -4 -1 -5 -1 -4 -1 -1 0 -4 -1 -5 -2 -5 -1 -4 -1 -1 0 -4 0 -5 0 -1 0 -3 1 -5 0 -5 1 -5 0 -4 1 -5 0 -5 2 -4 2 -5 2 -1 1 -4 1 -4 3 -2 0 -3 2 -4 3 -1 1 -4 4 0 1 -4 3 -1 3 -2 2 -2 5 0 4 0 5 0 5 1 5 1 4 1 5 1 2 1 3 1 4 3 5 2 5 2 4 0 1 2 4 3 5 4 4 1 1 4 4 2 5 2 4 1 5 1 5 2 5 2 2 2 2 2 2 4 3 1 0 5 4 1 1 3 2 5 2 5 2 5 1 4 1 5 1 5 1 4 1 5 0 5 1 4 1 4 1 1 0 5 0 4 1 5 0 5 1 4 0 5 1 5 0 5 1 3 0 1 0 5 1 5 0 4 1 5 0 5 1 4 0 5 1 5 0 4 1 4 0 1 0 5 1 4 1 5 1 5 1 2 1 2 0 5 2 5 1 5 1 1 0 3 1 5 2 5 1 1 1 3 1 5 2 3 2zM861 356l1 1 5 1 5 0 4 -1 1 -1 4 -3 2 -1 3 -5 0 -1 1 -4 -1 -2 -1 -3 -4 -2 -5 -1 -4 0 -5 1 -5 2 -4 4 -1 1 -2 5 2 5 1 1 3 3z"/>
<path fill="#b1ff46" fill-rule="evenodd" d="M267 464l5 1 5 0 4 1 5 0 5 -1 4 0 5 -1 1 0 4 -1 4 -1 5 0 5 -1 4 -1 5 -1 1 0 4 0 4 -1 5 -1 5 -1 5 -1 4 0 2 0 3 -1 5 0 4 0 5 -1 5 0 4 0 5 0 5 -1 4 0 5 0 5 0 4 -1 5 0 5 -1 1 0 3 -1 5 0 5 -1 5 -1 4 -1 5 0 2 -1 3 0 4 -2 5 -2 1 0 4 -5 1 -5 1 -5 -1 -4 -1 -3 -1 -2 -4 -5 -4 -4 -1 -2 -1 -3 -3 -5 0 -1 -2 -3 -2 -5 -1 -3 -1 -2 -1 -4 -1 -5 -2 -5 0 -4 -1 -5 0 -5 0 -4 0 -5 0 -5 0 -5 0 -4 -1 -5 -1 -5 -1 -3 -1 -1 -4 -4 -1 -1 -4 -2 -3 -3 -2 0 -4 -2 -4 -2 -1 -1 -5 -1 -4 -1 -5 0 -5 -1 -4 0 -5 0 -5 -1 -4 0 -5 0 -5 1 -4 1 -5 1 -5 1 -1 1 -3 1 -5 1 -5 2 -2 0 -3 2 -4 3 0 1 -4 4 -1 2 -2 2 -2 5 0 5 2 4 2 5 0 1 1 4 2 5 1 4 1 1 1 4 1 5 1 4 1 5 -1 5 -2 4 -1 3 -1 2 -4 5 -5 2 -4 2 -5 2 -5 1 -4 2 -5 1 -5 0 -2 -1 -2 0 -5 -2 -5 -1 -4 -1 -3 -1 -2 0 -5 -1 -5 -2 -2 -1 -2 -2 -3 -3 -2 -2 -2 -3 -2 -4 -1 -2 -2 -3 -2 -2 -2 -3 -1 -4 -1 -5 -1 -5 0 -2 0 -2 -1 -5 0 -5 0 -5 -1 -4 -2 -5 -1 0 -4 -4 -1 -1 -4 -3 -2 -1 -3 -2 -3 -3 -1 -1 -5 -3 0 -1 -5 -2 -4 -2 -2 0 -3 -1 -5 -2 -5 -1 -4 -1 -1 0 -4 -1 -5 -1 -4 0 -5 0 -5 0 -4 1 -5 1 -3 0 -2 0 -4 1 -5 0 -5 0 -4 0 -5 0 -5 0 -5 0 -4 0 -5 -1 -5 -1 -4 -1 -5 -2 -2 -1 -3 0 -4 -2 -5 -2 -2 0 -3 -1 -4 -2 -5 -2 -1 0 -4 -1 -4 -2 -5 -1 -3 -1 -2 0 -5 -2 -4 -1 -4 -1 -1 -1 -5 -1 -4 -1 -5 -1 -3 -1 -2 -1 -4 -1 -5 -1 0 3 0 5 0 4 0 5 0 5 0 4 0 5 0 5 0 4 0 5 0 5 0 4 0 5 0 5 0 4 0 5 0 5 0 5 0 4 5 2 4 2 1 1 4 2 5 2 0 1 4 1 5 3 1 0 4 2 4 2 3 1 2 1 5 0 5 0 4 0 5 -1 5 0 4 0 4 0 1 0 5 0 4 -1 5 1 2 0 3 0 4 2 5 2 1 1 4 2 4 2 1 0 4 2 5 3 5 4 0 1 4 4 4 5 1 1 3 4 2 2 2 2 2 3 2 2 3 3 1 2 4 3 2 1 2 2 5 3 1 0 4 2 4 3 5 2 4 3 1 0 4 3 3 1 2 1 5 3 2 1 3 1 4 2 5 1 1 1 4 0 4 1 5 1 5 1 4 0 5 1 5 1 4 1 5 1 5 0 4 1 5 1zM1213 352l1 0 5 1 4 0 5 1 5 0 4 0 5 0 5 0 4 -1 5 0 5 0 4 -1 5 0 5 0 4 0 5 0 5 0 1 0 4 -1 4 0 5 0 5 0 4 0 5 0 5 -1 4 0 5 0 0 -3 0 -5 0 -5 0 -4 0 -5 0 -5 0 -4 0 -5 0 -5 0 -4 0 -5 0 -5 0 -4 0 -5 0 -5 0 -4 0 -5 0 -5 0 -5 0 -4 0 -2 -5 0 -4 -1 -5 0 -5 0 -4 0 -5 -1 -5 0 -4 0 -5 1 -5 0 -5 0 -4 0 -5 0 -5 1 -4 0 -5 1 -5 1 -1 0 -3 1 -5 1 -5 0 -4 1 -5 1 -5 2 -4 3 -1 0 -4 3 -3 2 -2 1 -4 3 -1 1 -4 2 -3 2 -2 2 -3 3 -2 1 -2 4 -2 4 -1 0 -2 5 -2 4 0 1 -2 4 0 5 1 5 0 4 1 3 1 2 2 5 2 1 3 3 1 2 5 3 5 4 2 1 3 1 4 2 4 2z"/>
<path fill="#ffd000" fill-rule="evenodd" d="M1251 309l0 1 5 2 5 1 4 0 5 -1 3 -3 2 -4 0 -1 -1 -4 -4 -3 -5 -1 -4 0 -5 1 -5 2 -2 1 -1 5 3 4z"/>
</g>
<use href="#coast" class="c"/>
</g>
<rect class="fr" x="78.45" y="2102.50" width="1331.05" height="656.15"/>
<rect x="78.45" y="2801.50" width="166.98" height="65.80" fill="#0000c8"/>
<rect x="244.83" y="2801.50" width="166.98" height="65.80" fill="#0040ff"/>
<rect x="411.21" y="2801.50" width="166.98" height="65.80" fill="#00c0ff"/>
<rect x="577.59" y="2801.50" width="166.98" height="65.80" fill="#49ffad"/>
<rect x="743.98" y="2801.50" width="166.98" height="65.80" fill="#b1ff46"/>
<rect x="910.36" y="2801.50" width="166.98" height="65.80" fill="#ffd000"/>
<rect x="1076.74" y="2801.50" width="166.98" height="65.80" fill="#ff5900"/>
<rect x="1243.12" y="2801.50" width="166.38" height="65.80" fill="#c40000"/>
<rect class="fr" x="78.45" y="2801.50" width="1331.05" height="65.80"/>
<path class="tk" d="M78.45 2867.30v14.6M244.83 2867.30v14.6M411.21 2867.30v14.6M577.59 2867.30v14.6M743.98 2867.30v14.6M910.36 2867.30v14.6M1076.74 2867.30v14.6M1243.12 2867.30v14.6M1409.50 2867.30v14.6"/>
<text class="l" x="77.9" y="2929.2">0.0</text>
<text class="l" x="244.2" y="2929.2">2.5</text>
<text class="l" x="410.6" y="2929.2">5.0</text>
<text class="l" x="577.0" y="2929.2">7.5</text>
<text class="l" x="743.4" y="2929.2">10.0</text>
<text class="l" x="909.8" y="2929.2">12.5</text>
<text class="l" x="1076.1" y="2929.2">15.0</text>
<text class="l" x="1242.5" y="2929.2">17.5</text>
<text class="l" x="1408.9" y="2929.2">20.0</text>
</g>
</svg>
</body>
</html>
